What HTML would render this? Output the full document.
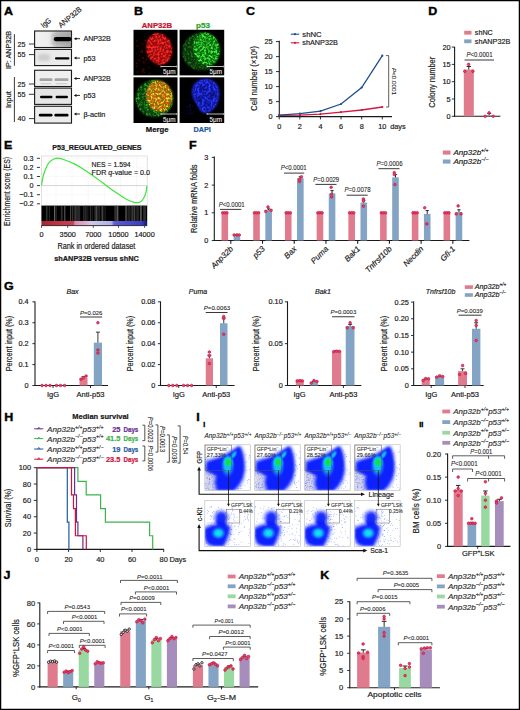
<!DOCTYPE html>
<html><head><meta charset="utf-8"><style>
html,body{margin:0;padding:0;background:#fff;}
svg{display:block;}
text{font-family:"Liberation Sans", sans-serif;}
</style></head><body>
<svg width="520" height="710" viewBox="0 0 520 710">
<rect x="0" y="0" width="520" height="710" fill="#fff"/>
<text x="3.90" y="15.00" font-size="10.4" text-anchor="start" fill="#000" font-weight="bold" textLength="9.01" lengthAdjust="spacingAndGlyphs" stroke="#000" stroke-width="0.35">A</text>
<text x="133.90" y="15.20" font-size="10.4" text-anchor="start" fill="#000" font-weight="bold" textLength="9.01" lengthAdjust="spacingAndGlyphs" stroke="#000" stroke-width="0.35">B</text>
<text x="246.10" y="15.40" font-size="10.4" text-anchor="start" fill="#000" font-weight="bold" textLength="9.01" lengthAdjust="spacingAndGlyphs" stroke="#000" stroke-width="0.35">C</text>
<text x="428.20" y="15.10" font-size="10.4" text-anchor="start" fill="#000" font-weight="bold" textLength="9.01" lengthAdjust="spacingAndGlyphs" stroke="#000" stroke-width="0.35">D</text>
<text x="4.10" y="148.60" font-size="10.4" text-anchor="start" fill="#000" font-weight="bold" textLength="8.32" lengthAdjust="spacingAndGlyphs" stroke="#000" stroke-width="0.35">E</text>
<text x="189.00" y="148.60" font-size="10.4" text-anchor="start" fill="#000" font-weight="bold" textLength="7.63" lengthAdjust="spacingAndGlyphs" stroke="#000" stroke-width="0.35">F</text>
<text x="4.00" y="289.50" font-size="10.4" text-anchor="start" fill="#000" font-weight="bold" textLength="9.71" lengthAdjust="spacingAndGlyphs" stroke="#000" stroke-width="0.35">G</text>
<text x="4.30" y="421.30" font-size="10.4" text-anchor="start" fill="#000" font-weight="bold" textLength="9.01" lengthAdjust="spacingAndGlyphs" stroke="#000" stroke-width="0.35">H</text>
<text x="196.30" y="421.30" font-size="10.4" text-anchor="start" fill="#000" font-weight="bold" textLength="3.47" lengthAdjust="spacingAndGlyphs" stroke="#000" stroke-width="0.35">I</text>
<text x="3.50" y="578.70" font-size="10.4" text-anchor="start" fill="#000" font-weight="bold" textLength="6.94" lengthAdjust="spacingAndGlyphs" stroke="#000" stroke-width="0.35">J</text>
<text x="320.30" y="578.80" font-size="10.4" text-anchor="start" fill="#000" font-weight="bold" textLength="9.01" lengthAdjust="spacingAndGlyphs" stroke="#000" stroke-width="0.35">K</text>
<defs><filter id="bl1" x="-20%" y="-50%" width="140%" height="200%"><feGaussianBlur stdDeviation="0.6"/></filter><filter id="bl2" x="-30%" y="-80%" width="160%" height="260%"><feGaussianBlur stdDeviation="1.6"/></filter><linearGradient id="gA1" x1="0" y1="0" x2="1" y2="0"><stop offset="0" stop-color="#f2f2f2"/><stop offset="0.45" stop-color="#ececec"/><stop offset="0.6" stop-color="#c8c8c8"/><stop offset="1" stop-color="#b0b0b0"/></linearGradient></defs>
<rect x="34.6" y="31.00" width="36.9" height="16.50" fill="url(#gA1)" stroke="#1a1a1a" stroke-width="1.1"/>
<rect x="34.6" y="49.40" width="36.9" height="16.20" fill="#eaeaea" stroke="#1a1a1a" stroke-width="1.1"/>
<rect x="34.6" y="70.25" width="36.9" height="16.25" fill="#efefef" stroke="#1a1a1a" stroke-width="1.1"/>
<rect x="34.6" y="88.10" width="36.9" height="16.30" fill="#e6e6e6" stroke="#1a1a1a" stroke-width="1.1"/>
<rect x="34.6" y="106.25" width="36.9" height="16.85" fill="#ececec" stroke="#1a1a1a" stroke-width="1.1"/>
<rect x="51" y="33" width="20" height="12" fill="#888" opacity="0.35" filter="url(#bl2)"/>
<rect x="53.8" y="37" width="17.6" height="4.3" rx="2" fill="#000" filter="url(#bl1)"/>
<rect x="38" y="54" width="12" height="7" rx="3" fill="#bbb" opacity="0.6" filter="url(#bl2)"/>
<rect x="55" y="57.2" width="14.4" height="2.3" rx="1.1" fill="#050505" filter="url(#bl1)"/>
<rect x="39.5" y="78.3" width="13.0" height="2.8" rx="1.2" fill="#a4a4a4" filter="url(#bl1)"/>
<rect x="40.5" y="83" width="11.0" height="1.3" rx="0.6" fill="#d0d0d0" filter="url(#bl1)"/>
<rect x="54.5" y="78.3" width="14.0" height="2.8" rx="1.2" fill="#a4a4a4" filter="url(#bl1)"/>
<rect x="55.5" y="83" width="12.0" height="1.3" rx="0.6" fill="#d0d0d0" filter="url(#bl1)"/>
<rect x="40" y="95.7" width="12.5" height="2.6" rx="1.2" fill="#050505" filter="url(#bl1)"/>
<rect x="55.6" y="95.7" width="12.399999999999999" height="2.6" rx="1.2" fill="#050505" filter="url(#bl1)"/>
<rect x="38.8" y="113.8" width="13.700000000000003" height="2.6" rx="1.2" fill="#050505" filter="url(#bl1)"/>
<rect x="54.4" y="113.8" width="14.100000000000001" height="2.6" rx="1.2" fill="#050505" filter="url(#bl1)"/>
<line x1="14.40" y1="34.20" x2="14.40" y2="65.70" stroke="#222" stroke-width="0.9"/>
<line x1="14.40" y1="77.00" x2="14.40" y2="122.00" stroke="#222" stroke-width="0.9"/>
<text x="10.80" y="50.00" font-size="7.2" text-anchor="middle" fill="#1a1a1a" stroke="#1a1a1a" stroke-width="0.18" textLength="38" lengthAdjust="spacingAndGlyphs" transform="rotate(-90 10.80 50.00)" >IP: ANP32B</text>
<text x="10.80" y="99.50" font-size="7.2" text-anchor="middle" fill="#1a1a1a" stroke="#1a1a1a" stroke-width="0.18" textLength="17" lengthAdjust="spacingAndGlyphs" transform="rotate(-90 10.80 99.50)" >Input</text>
<text x="25.50" y="46.60" font-size="7.2" text-anchor="end" fill="#1a1a1a" stroke="#1a1a1a" stroke-width="0.18" >25</text>
<line x1="28.90" y1="44.00" x2="34.00" y2="44.00" stroke="#222" stroke-width="0.9"/>
<text x="25.50" y="57.20" font-size="7.2" text-anchor="end" fill="#1a1a1a" stroke="#1a1a1a" stroke-width="0.18" >55</text>
<line x1="28.90" y1="54.60" x2="34.00" y2="54.60" stroke="#222" stroke-width="0.9"/>
<text x="25.50" y="86.60" font-size="7.2" text-anchor="end" fill="#1a1a1a" stroke="#1a1a1a" stroke-width="0.18" >25</text>
<line x1="28.90" y1="84.00" x2="34.00" y2="84.00" stroke="#222" stroke-width="0.9"/>
<text x="25.50" y="96.90" font-size="7.2" text-anchor="end" fill="#1a1a1a" stroke="#1a1a1a" stroke-width="0.18" >55</text>
<line x1="28.90" y1="94.30" x2="34.00" y2="94.30" stroke="#222" stroke-width="0.9"/>
<text x="25.50" y="121.20" font-size="7.2" text-anchor="end" fill="#1a1a1a" stroke="#1a1a1a" stroke-width="0.18" >40</text>
<line x1="28.90" y1="118.60" x2="34.00" y2="118.60" stroke="#222" stroke-width="0.9"/>
<text x="43.60" y="28.20" font-size="7.6" text-anchor="start" fill="#1a1a1a" stroke="#1a1a1a" stroke-width="0.18" textLength="10.7" lengthAdjust="spacingAndGlyphs" transform="rotate(-40 43.60 28.20)" >IgG</text>
<text x="60.90" y="28.20" font-size="7.6" text-anchor="start" fill="#1a1a1a" stroke="#1a1a1a" stroke-width="0.18" textLength="28" lengthAdjust="spacingAndGlyphs" transform="rotate(-40 60.90 28.20)" >ANP32B</text>
<line x1="75.50" y1="38.70" x2="80.00" y2="38.70" stroke="#111" stroke-width="0.9"/>
<path d="M73.8 38.70 L76.5 37.20 L76.5 40.20 Z" fill="#111"/>
<text x="83.40" y="41.30" font-size="7.3" text-anchor="start" fill="#1a1a1a" stroke="#1a1a1a" stroke-width="0.18" textLength="27.4" lengthAdjust="spacingAndGlyphs" >ANP32B</text>
<line x1="75.50" y1="58.10" x2="80.00" y2="58.10" stroke="#111" stroke-width="0.9"/>
<path d="M73.8 58.10 L76.5 56.60 L76.5 59.60 Z" fill="#111"/>
<text x="83.40" y="60.70" font-size="7.3" text-anchor="start" fill="#1a1a1a" stroke="#1a1a1a" stroke-width="0.18" >p53</text>
<line x1="75.50" y1="78.50" x2="80.00" y2="78.50" stroke="#111" stroke-width="0.9"/>
<path d="M73.8 78.50 L76.5 77.00 L76.5 80.00 Z" fill="#111"/>
<text x="83.40" y="81.10" font-size="7.3" text-anchor="start" fill="#1a1a1a" stroke="#1a1a1a" stroke-width="0.18" textLength="27.4" lengthAdjust="spacingAndGlyphs" >ANP32B</text>
<line x1="75.50" y1="95.40" x2="80.00" y2="95.40" stroke="#111" stroke-width="0.9"/>
<path d="M73.8 95.40 L76.5 93.90 L76.5 96.90 Z" fill="#111"/>
<text x="83.40" y="98.00" font-size="7.3" text-anchor="start" fill="#1a1a1a" stroke="#1a1a1a" stroke-width="0.18" >p53</text>
<line x1="75.50" y1="114.00" x2="80.00" y2="114.00" stroke="#111" stroke-width="0.9"/>
<path d="M73.8 114.00 L76.5 112.50 L76.5 115.50 Z" fill="#111"/>
<text x="83.40" y="116.60" font-size="7.3" text-anchor="start" fill="#1a1a1a" stroke="#1a1a1a" stroke-width="0.18" >β-actin</text>
<defs><filter id="spR" x="0" y="0" width="100%" height="100%" color-interpolation-filters="sRGB"><feTurbulence type="fractalNoise" baseFrequency="0.45" numOctaves="2" seed="5"/><feColorMatrix type="matrix" values="0 0 0 0 1.000  0 0 0 0 0.157  0 0 0 0 0.157  4.0 0 0 0 -1.7"/><feGaussianBlur stdDeviation="0.35"/></filter><filter id="spG" x="0" y="0" width="100%" height="100%" color-interpolation-filters="sRGB"><feTurbulence type="fractalNoise" baseFrequency="0.45" numOctaves="2" seed="17"/><feColorMatrix type="matrix" values="0 0 0 0 0.235  0 0 0 0 0.941  0 0 0 0 0.235  4.0 0 0 0 -1.7"/><feGaussianBlur stdDeviation="0.35"/></filter><filter id="spGd" x="0" y="0" width="100%" height="100%" color-interpolation-filters="sRGB"><feTurbulence type="fractalNoise" baseFrequency="0.45" numOctaves="2" seed="23"/><feColorMatrix type="matrix" values="0 0 0 0 0.157  0 0 0 0 0.667  0 0 0 0 0.157  3.5 0 0 0 -1.6"/><feGaussianBlur stdDeviation="0.35"/></filter><filter id="spGdd" x="0" y="0" width="100%" height="100%" color-interpolation-filters="sRGB"><feTurbulence type="fractalNoise" baseFrequency="0.45" numOctaves="2" seed="29"/><feColorMatrix type="matrix" values="0 0 0 0 0.118  0 0 0 0 0.490  0 0 0 0 0.118  3.5 0 0 0 -1.65"/><feGaussianBlur stdDeviation="0.35"/></filter><filter id="spY" x="0" y="0" width="100%" height="100%" color-interpolation-filters="sRGB"><feTurbulence type="fractalNoise" baseFrequency="0.45" numOctaves="2" seed="31"/><feColorMatrix type="matrix" values="0 0 0 0 0.961  0 0 0 0 0.902  0 0 0 0 0.157  4.0 0 0 0 -1.7"/><feGaussianBlur stdDeviation="0.35"/></filter><filter id="spO" x="0" y="0" width="100%" height="100%" color-interpolation-filters="sRGB"><feTurbulence type="fractalNoise" baseFrequency="0.45" numOctaves="2" seed="41"/><feColorMatrix type="matrix" values="0 0 0 0 0.902  0 0 0 0 0.275  0 0 0 0 0.078  3.5 0 0 0 -1.65"/><feGaussianBlur stdDeviation="0.35"/></filter><filter id="spB" x="0" y="0" width="100%" height="100%" color-interpolation-filters="sRGB"><feTurbulence type="fractalNoise" baseFrequency="0.45" numOctaves="2" seed="53"/><feColorMatrix type="matrix" values="0 0 0 0 0.176  0 0 0 0 0.235  0 0 0 0 1.000  4.0 0 0 0 -1.7"/><feGaussianBlur stdDeviation="0.35"/></filter><filter id="spK" x="0" y="0" width="100%" height="100%" color-interpolation-filters="sRGB"><feTurbulence type="fractalNoise" baseFrequency="0.45" numOctaves="2" seed="61"/><feColorMatrix type="matrix" values="0 0 0 0 0.000  0 0 0 0 0.000  0 0 0 0 0.000  -3.2 0 0 0 1.35"/><feGaussianBlur stdDeviation="0.35"/></filter><filter id="bb1" x="-30%" y="-30%" width="160%" height="160%"><feGaussianBlur stdDeviation="0.8"/></filter><filter id="bb3" x="-80%" y="-80%" width="260%" height="260%"><feGaussianBlur stdDeviation="2.5"/></filter><clipPath id="cb1"><rect x="133.5" y="29.8" width="44" height="45.6"/></clipPath><clipPath id="cb2"><rect x="179.6" y="29.8" width="44.6" height="45.6"/></clipPath><clipPath id="cb3"><rect x="133.5" y="77.3" width="44" height="45.7"/></clipPath><clipPath id="cb4"><rect x="179.6" y="77.3" width="44.6" height="45.7"/></clipPath><clipPath id="cred"><ellipse cx="159.2" cy="48.9" rx="12.8" ry="16" transform="rotate(-12 159.2 48.9)"/></clipPath><clipPath id="cgrn"><ellipse cx="200.9" cy="51.6" rx="18.8" ry="19"/></clipPath><clipPath id="cgrn2"><ellipse cx="206.5" cy="49" rx="13" ry="16.5" transform="rotate(-12 206.5 49)"/></clipPath><clipPath id="cmg"><ellipse cx="154.5" cy="98.5" rx="19" ry="18.8"/></clipPath><clipPath id="cyel"><ellipse cx="159.2" cy="96.2" rx="12.8" ry="15.8" transform="rotate(-12 159.2 96.2)"/></clipPath><clipPath id="cdapi"><path d="M192.8 92 C192.8 84 199 79.6 206 79.6 C213 79.6 218.5 85 218.5 93 C218.5 102 215 108 210 111 C206 113.7 201 112.2 198.5 106 C196 101 192.8 98 192.8 92 Z"/></clipPath></defs>
<rect x="133.50" y="29.80" width="44.00" height="45.60" fill="#000" />
<rect x="179.60" y="29.80" width="44.60" height="45.60" fill="#000" />
<rect x="133.50" y="77.30" width="44.00" height="45.70" fill="#000" />
<rect x="179.60" y="77.30" width="44.60" height="45.70" fill="#000" />
<g clip-path="url(#cb1)">
<circle cx="141.18" cy="43.43" r="0.7603737892159415" fill="#4a0000" stroke="none" stroke-width="0"/>
<circle cx="149.14" cy="41.39" r="0.7331152023613421" fill="#5a0202" stroke="none" stroke-width="0"/>
<circle cx="136.60" cy="53.61" r="0.5279421694298476" fill="#4a0000" stroke="none" stroke-width="0"/>
<circle cx="144.82" cy="40.13" r="0.7261814776772318" fill="#5a0202" stroke="none" stroke-width="0"/>
<circle cx="146.09" cy="58.99" r="0.5247448193344562" fill="#6a0505" stroke="none" stroke-width="0"/>
<circle cx="136.79" cy="45.96" r="0.722665959174837" fill="#5a0202" stroke="none" stroke-width="0"/>
<circle cx="140.63" cy="43.19" r="0.5471168952313473" fill="#380000" stroke="none" stroke-width="0"/>
<circle cx="144.96" cy="62.55" r="0.5412222849774365" fill="#5a0202" stroke="none" stroke-width="0"/>
<circle cx="141.96" cy="57.72" r="0.5251155899893293" fill="#4a0000" stroke="none" stroke-width="0"/>
<circle cx="145.90" cy="55.87" r="0.7126880986320743" fill="#380000" stroke="none" stroke-width="0"/>
<circle cx="143.45" cy="71.24" r="0.6446329423778265" fill="#5a0202" stroke="none" stroke-width="0"/>
<circle cx="148.71" cy="63.16" r="0.5976386042888612" fill="#380000" stroke="none" stroke-width="0"/>
<circle cx="144.40" cy="69.50" r="0.7917781157756871" fill="#380000" stroke="none" stroke-width="0"/>
<circle cx="145.74" cy="40.64" r="0.7047731322590196" fill="#5a0202" stroke="none" stroke-width="0"/>
<circle cx="148.11" cy="43.47" r="0.6955852401903222" fill="#4a0000" stroke="none" stroke-width="0"/>
<circle cx="151.39" cy="40.79" r="0.7232303010613499" fill="#380000" stroke="none" stroke-width="0"/>
<circle cx="141.44" cy="50.61" r="0.698669918119595" fill="#6a0505" stroke="none" stroke-width="0"/>
<circle cx="137.10" cy="41.37" r="0.6079757108512471" fill="#4a0000" stroke="none" stroke-width="0"/>
<circle cx="136.97" cy="63.25" r="0.7588515418110675" fill="#6a0505" stroke="none" stroke-width="0"/>
<circle cx="140.55" cy="51.89" r="0.7674610863536753" fill="#4a0000" stroke="none" stroke-width="0"/>
<circle cx="151.05" cy="50.80" r="0.7443678173932308" fill="#6a0505" stroke="none" stroke-width="0"/>
<circle cx="136.94" cy="65.66" r="0.5517360888074737" fill="#5a0202" stroke="none" stroke-width="0"/>
<circle cx="142.37" cy="71.01" r="0.6986026796119847" fill="#5a0202" stroke="none" stroke-width="0"/>
<circle cx="143.19" cy="57.78" r="0.853353530576605" fill="#6a0505" stroke="none" stroke-width="0"/>
<circle cx="149.82" cy="48.02" r="0.6661186068846794" fill="#380000" stroke="none" stroke-width="0"/>
<circle cx="146.92" cy="51.70" r="0.5923006032434729" fill="#4a0000" stroke="none" stroke-width="0"/>
<circle cx="138.82" cy="46.35" r="0.5933344334723445" fill="#6a0505" stroke="none" stroke-width="0"/>
<circle cx="149.30" cy="44.56" r="0.612772288930695" fill="#5a0202" stroke="none" stroke-width="0"/>
<circle cx="142.70" cy="51.29" r="0.7265364894825568" fill="#5a0202" stroke="none" stroke-width="0"/>
<circle cx="147.05" cy="56.56" r="0.7470370997636511" fill="#4a0000" stroke="none" stroke-width="0"/>
<circle cx="143.31" cy="69.36" r="0.8807544883326088" fill="#6a0505" stroke="none" stroke-width="0"/>
<circle cx="142.37" cy="52.19" r="0.6926091272660779" fill="#6a0505" stroke="none" stroke-width="0"/>
<circle cx="137.00" cy="40.42" r="0.5835052741784658" fill="#5a0202" stroke="none" stroke-width="0"/>
<circle cx="137.76" cy="59.63" r="0.5409518390900888" fill="#5a0202" stroke="none" stroke-width="0"/>
<circle cx="144.59" cy="72.16" r="0.7454949051901725" fill="#4a0000" stroke="none" stroke-width="0"/>
<circle cx="149.99" cy="60.11" r="0.5594201941323566" fill="#380000" stroke="none" stroke-width="0"/>
<circle cx="151.29" cy="59.68" r="0.6896605852927036" fill="#4a0000" stroke="none" stroke-width="0"/>
<circle cx="149.58" cy="73.75" r="0.6863957836639735" fill="#6a0505" stroke="none" stroke-width="0"/>
<circle cx="140.99" cy="43.19" r="0.7998695681769723" fill="#380000" stroke="none" stroke-width="0"/>
<circle cx="143.66" cy="62.91" r="0.7065338075849286" fill="#5a0202" stroke="none" stroke-width="0"/>
<circle cx="151.22" cy="57.02" r="0.5586410155596363" fill="#4a0000" stroke="none" stroke-width="0"/>
<circle cx="148.13" cy="48.73" r="0.7571668322781475" fill="#4a0000" stroke="none" stroke-width="0"/>
<circle cx="147.14" cy="47.40" r="0.6466799167044716" fill="#5a0202" stroke="none" stroke-width="0"/>
<circle cx="141.69" cy="46.02" r="0.7166268491120782" fill="#380000" stroke="none" stroke-width="0"/>
<circle cx="146.18" cy="60.08" r="0.8153597056416453" fill="#5a0202" stroke="none" stroke-width="0"/>
<circle cx="148.90" cy="67.46" r="0.7959492081502857" fill="#5a0202" stroke="none" stroke-width="0"/>
<circle cx="139.20" cy="55.74" r="0.7924015969901685" fill="#4a0000" stroke="none" stroke-width="0"/>
<circle cx="148.64" cy="55.00" r="0.5774579784051237" fill="#380000" stroke="none" stroke-width="0"/>
<circle cx="143.16" cy="71.73" r="0.8952152232811441" fill="#380000" stroke="none" stroke-width="0"/>
<circle cx="137.29" cy="41.68" r="0.6880319929024761" fill="#380000" stroke="none" stroke-width="0"/>
<circle cx="139.27" cy="60.47" r="0.8601233351536457" fill="#4a0000" stroke="none" stroke-width="0"/>
<circle cx="143.67" cy="61.51" r="0.8198574979398641" fill="#4a0000" stroke="none" stroke-width="0"/>
<circle cx="149.35" cy="42.32" r="0.6554142975279774" fill="#5a0202" stroke="none" stroke-width="0"/>
<circle cx="143.65" cy="44.43" r="0.8156541724081106" fill="#380000" stroke="none" stroke-width="0"/>
<circle cx="137.39" cy="72.06" r="0.7887298923606827" fill="#6a0505" stroke="none" stroke-width="0"/>
<circle cx="142.42" cy="72.08" r="0.7899194662536861" fill="#5a0202" stroke="none" stroke-width="0"/>
<circle cx="151.89" cy="38.99" r="0.7363249209667805" fill="#6a0505" stroke="none" stroke-width="0"/>
<circle cx="148.90" cy="43.26" r="0.8306041914101548" fill="#6a0505" stroke="none" stroke-width="0"/>
<circle cx="146.52" cy="50.61" r="0.7194640175947117" fill="#5a0202" stroke="none" stroke-width="0"/>
<circle cx="136.34" cy="66.78" r="0.7905480225374539" fill="#4a0000" stroke="none" stroke-width="0"/>
<ellipse cx="159.2" cy="48.9" rx="12.8" ry="16" transform="rotate(-12 159.2 48.9)" fill="#9a0c0c" filter="url(#bb1)"/>
<g clip-path="url(#cred)"><rect x="145" y="31" width="29" height="36" filter="url(#spR)"/></g>
</g>
<g clip-path="url(#cb2)">
<ellipse cx="200.9" cy="51.6" rx="18.8" ry="19" fill="#08340a" filter="url(#bb1)"/>
<g clip-path="url(#cgrn)"><rect x="181" y="32" width="40" height="40" filter="url(#spGdd)"/></g>
<ellipse cx="206.5" cy="49" rx="13" ry="16.5" transform="rotate(-12 206.5 49)" fill="#0e6a0e" filter="url(#bb1)"/>
<g clip-path="url(#cgrn2)"><rect x="192" y="31" width="30" height="36" filter="url(#spG)"/></g>
</g>
<g clip-path="url(#cb3)">
<ellipse cx="154.5" cy="98.5" rx="19" ry="18.8" fill="#0c400a" filter="url(#bb1)"/>
<g clip-path="url(#cmg)"><rect x="135" y="79" width="39" height="39" filter="url(#spGd)"/></g>
<ellipse cx="159.2" cy="96.2" rx="12.8" ry="15.8" transform="rotate(-12 159.2 96.2)" fill="#8a6a08" filter="url(#bb1)"/>
<g clip-path="url(#cyel)"><rect x="145" y="79" width="29" height="34" filter="url(#spY)"/><rect x="145" y="79" width="29" height="34" filter="url(#spO)"/></g>
</g>
<g clip-path="url(#cb4)">
<path d="M192.8 92 C192.8 84 199 79.6 206 79.6 C213 79.6 218.5 85 218.5 93 C218.5 102 215 108 210 111 C206 113.7 201 112.2 198.5 106 C196 101 192.8 98 192.8 92 Z" fill="#10169a" filter="url(#bb1)"/>
<g clip-path="url(#cdapi)"><rect x="191" y="79" width="29" height="35" filter="url(#spB)"/></g>
<circle cx="212" cy="95" r="3" fill="#08106a" opacity="0.75" filter="url(#bb1)"/>
<circle cx="203" cy="88" r="2.2" fill="#08106a" opacity="0.75" filter="url(#bb1)"/>
<circle cx="200" cy="99" r="2.5" fill="#08106a" opacity="0.75" filter="url(#bb1)"/>
<circle cx="208" cy="104" r="2.2" fill="#08106a" opacity="0.75" filter="url(#bb1)"/>
<circle cx="205" cy="93" r="1.8" fill="#08106a" opacity="0.75" filter="url(#bb1)"/>
<path d="M192.8 92 C192.8 84 199 79.6 206 79.6 C213 79.6 218.5 85 218.5 93 C218.5 102 215 108 210 111 C206 113.7 201 112.2 198.5 106 C196 101 192.8 98 192.8 92 Z" fill="none" stroke="#2a34ff" stroke-width="1.3" filter="url(#bb1)"/>
<circle cx="190.27" cy="113.67" r="0.5735237747029943" fill="#0a0a60" stroke="none" stroke-width="0"/>
<circle cx="193.72" cy="111.52" r="0.48441693493125954" fill="#0a0a60" stroke="none" stroke-width="0"/>
<circle cx="187.52" cy="100.86" r="0.49621575702333387" fill="#0a0a60" stroke="none" stroke-width="0"/>
<circle cx="190.86" cy="100.19" r="0.5676050211018175" fill="#0a0a60" stroke="none" stroke-width="0"/>
<circle cx="186.31" cy="113.20" r="0.5415136095813036" fill="#0a0a60" stroke="none" stroke-width="0"/>
<circle cx="189.58" cy="106.67" r="0.761718709816816" fill="#0a0a60" stroke="none" stroke-width="0"/>
<circle cx="189.21" cy="113.35" r="0.6006595764480926" fill="#0a0a60" stroke="none" stroke-width="0"/>
<circle cx="190.32" cy="105.47" r="0.407481947162168" fill="#0a0a60" stroke="none" stroke-width="0"/>
<circle cx="189.40" cy="98.66" r="0.4015729927302568" fill="#0a0a60" stroke="none" stroke-width="0"/>
<circle cx="192.99" cy="98.45" r="0.5893971729847826" fill="#0a0a60" stroke="none" stroke-width="0"/>
<circle cx="192.25" cy="106.13" r="0.5303928604195457" fill="#0a0a60" stroke="none" stroke-width="0"/>
<circle cx="190.18" cy="106.11" r="0.7137089901461903" fill="#0a0a60" stroke="none" stroke-width="0"/>
<circle cx="186.06" cy="106.21" r="0.499397728417236" fill="#0a0a60" stroke="none" stroke-width="0"/>
<circle cx="187.77" cy="110.45" r="0.6030855967169283" fill="#0a0a60" stroke="none" stroke-width="0"/>
<circle cx="190.62" cy="110.20" r="0.7649952145319249" fill="#0a0a60" stroke="none" stroke-width="0"/>
<circle cx="189.43" cy="107.25" r="0.6022212523404887" fill="#0a0a60" stroke="none" stroke-width="0"/>
<circle cx="190.12" cy="108.85" r="0.5809383169059639" fill="#0a0a60" stroke="none" stroke-width="0"/>
<circle cx="190.33" cy="104.56" r="0.7766004510154003" fill="#0a0a60" stroke="none" stroke-width="0"/>
<circle cx="191.99" cy="112.53" r="0.7768722353214303" fill="#0a0a60" stroke="none" stroke-width="0"/>
<circle cx="187.60" cy="106.19" r="0.7773068136053936" fill="#0a0a60" stroke="none" stroke-width="0"/>
</g>
<line x1="160.90" y1="66.50" x2="176.70" y2="66.50" stroke="#e8e8e8" stroke-width="0.8"/>
<line x1="160.90" y1="65.50" x2="160.90" y2="67.50" stroke="#e8e8e8" stroke-width="0.6"/>
<line x1="176.70" y1="65.50" x2="176.70" y2="67.50" stroke="#e8e8e8" stroke-width="0.6"/>
<text x="169.30" y="74.10" font-size="6.4" text-anchor="middle" fill="#f0f0f0" stroke="#f0f0f0" stroke-width="0.08" textLength="12.5" lengthAdjust="spacingAndGlyphs" >5μm</text>
<line x1="207.00" y1="66.50" x2="223.40" y2="66.50" stroke="#e8e8e8" stroke-width="0.8"/>
<line x1="207.00" y1="65.50" x2="207.00" y2="67.50" stroke="#e8e8e8" stroke-width="0.6"/>
<line x1="223.40" y1="65.50" x2="223.40" y2="67.50" stroke="#e8e8e8" stroke-width="0.6"/>
<text x="215.70" y="74.10" font-size="6.4" text-anchor="middle" fill="#f0f0f0" stroke="#f0f0f0" stroke-width="0.08" textLength="12.5" lengthAdjust="spacingAndGlyphs" >5μm</text>
<line x1="160.90" y1="114.00" x2="176.70" y2="114.00" stroke="#e8e8e8" stroke-width="0.8"/>
<line x1="160.90" y1="113.00" x2="160.90" y2="115.00" stroke="#e8e8e8" stroke-width="0.6"/>
<line x1="176.70" y1="113.00" x2="176.70" y2="115.00" stroke="#e8e8e8" stroke-width="0.6"/>
<text x="169.30" y="121.60" font-size="6.4" text-anchor="middle" fill="#f0f0f0" stroke="#f0f0f0" stroke-width="0.08" textLength="12.5" lengthAdjust="spacingAndGlyphs" >5μm</text>
<line x1="207.00" y1="114.00" x2="223.40" y2="114.00" stroke="#e8e8e8" stroke-width="0.8"/>
<line x1="207.00" y1="113.00" x2="207.00" y2="115.00" stroke="#e8e8e8" stroke-width="0.6"/>
<line x1="223.40" y1="113.00" x2="223.40" y2="115.00" stroke="#e8e8e8" stroke-width="0.6"/>
<text x="215.70" y="121.60" font-size="6.4" text-anchor="middle" fill="#f0f0f0" stroke="#f0f0f0" stroke-width="0.08" textLength="12.5" lengthAdjust="spacingAndGlyphs" >5μm</text>
<text x="141.80" y="27.80" font-size="7.2" text-anchor="start" fill="#c8102e" stroke="#c8102e" stroke-width="0.22" font-weight="bold" textLength="30.4" lengthAdjust="spacingAndGlyphs" >ANP32B</text>
<text x="196.00" y="27.80" font-size="7.2" text-anchor="start" fill="#2aa52a" stroke="#2aa52a" stroke-width="0.22" font-weight="bold" textLength="14" lengthAdjust="spacingAndGlyphs" >p53</text>
<text x="145.80" y="131.80" font-size="7.4" text-anchor="start" fill="#111" stroke="#111" stroke-width="0.22" font-weight="bold" textLength="22.7" lengthAdjust="spacingAndGlyphs" >Merge</text>
<text x="193.50" y="131.80" font-size="7.4" text-anchor="start" fill="#1d5aa0" stroke="#1d5aa0" stroke-width="0.22" font-weight="bold" textLength="17.3" lengthAdjust="spacingAndGlyphs" >DAPI</text>
<line x1="279.30" y1="40.80" x2="279.30" y2="117.10" stroke="#1a1a1a" stroke-width="1.1"/>
<line x1="278.80" y1="116.60" x2="392.00" y2="116.60" stroke="#1a1a1a" stroke-width="1.1"/>
<line x1="276.00" y1="116.60" x2="279.30" y2="116.60" stroke="#1a1a1a" stroke-width="0.9"/>
<text x="272.60" y="119.20" font-size="7.3" text-anchor="end" fill="#1a1a1a" stroke="#1a1a1a" stroke-width="0.18" >0</text>
<line x1="276.00" y1="101.60" x2="279.30" y2="101.60" stroke="#1a1a1a" stroke-width="0.9"/>
<text x="272.60" y="104.20" font-size="7.3" text-anchor="end" fill="#1a1a1a" stroke="#1a1a1a" stroke-width="0.18" >5</text>
<line x1="276.00" y1="86.60" x2="279.30" y2="86.60" stroke="#1a1a1a" stroke-width="0.9"/>
<text x="272.60" y="89.20" font-size="7.3" text-anchor="end" fill="#1a1a1a" stroke="#1a1a1a" stroke-width="0.18" >10</text>
<line x1="276.00" y1="71.60" x2="279.30" y2="71.60" stroke="#1a1a1a" stroke-width="0.9"/>
<text x="272.60" y="74.20" font-size="7.3" text-anchor="end" fill="#1a1a1a" stroke="#1a1a1a" stroke-width="0.18" >15</text>
<line x1="276.00" y1="56.60" x2="279.30" y2="56.60" stroke="#1a1a1a" stroke-width="0.9"/>
<text x="272.60" y="59.20" font-size="7.3" text-anchor="end" fill="#1a1a1a" stroke="#1a1a1a" stroke-width="0.18" >20</text>
<line x1="276.00" y1="41.60" x2="279.30" y2="41.60" stroke="#1a1a1a" stroke-width="0.9"/>
<text x="272.60" y="44.20" font-size="7.3" text-anchor="end" fill="#1a1a1a" stroke="#1a1a1a" stroke-width="0.18" >25</text>
<line x1="279.20" y1="116.60" x2="279.20" y2="119.40" stroke="#1a1a1a" stroke-width="0.9"/>
<text x="279.20" y="129.20" font-size="7.3" text-anchor="middle" fill="#1a1a1a" stroke="#1a1a1a" stroke-width="0.18" >0</text>
<line x1="299.82" y1="116.60" x2="299.82" y2="119.40" stroke="#1a1a1a" stroke-width="0.9"/>
<text x="299.82" y="129.20" font-size="7.3" text-anchor="middle" fill="#1a1a1a" stroke="#1a1a1a" stroke-width="0.18" >2</text>
<line x1="320.44" y1="116.60" x2="320.44" y2="119.40" stroke="#1a1a1a" stroke-width="0.9"/>
<text x="320.44" y="129.20" font-size="7.3" text-anchor="middle" fill="#1a1a1a" stroke="#1a1a1a" stroke-width="0.18" >4</text>
<line x1="341.06" y1="116.60" x2="341.06" y2="119.40" stroke="#1a1a1a" stroke-width="0.9"/>
<text x="341.06" y="129.20" font-size="7.3" text-anchor="middle" fill="#1a1a1a" stroke="#1a1a1a" stroke-width="0.18" >6</text>
<line x1="361.68" y1="116.60" x2="361.68" y2="119.40" stroke="#1a1a1a" stroke-width="0.9"/>
<text x="361.68" y="129.20" font-size="7.3" text-anchor="middle" fill="#1a1a1a" stroke="#1a1a1a" stroke-width="0.18" >8</text>
<line x1="382.30" y1="116.60" x2="382.30" y2="119.40" stroke="#1a1a1a" stroke-width="0.9"/>
<text x="382.30" y="129.20" font-size="7.3" text-anchor="middle" fill="#1a1a1a" stroke="#1a1a1a" stroke-width="0.18" >10</text>
<text x="390.20" y="129.20" font-size="7.3" text-anchor="start" fill="#1a1a1a" stroke="#1a1a1a" stroke-width="0.18" >days</text>
<text x="257.20" y="78.50" font-size="8.6" text-anchor="middle" fill="#1a1a1a" stroke="#1a1a1a" stroke-width="0.18" textLength="65" lengthAdjust="spacingAndGlyphs" transform="rotate(-90 257.20 78.50)" >Cell number (×10<tspan font-size="4.5" dy="-2.5">6</tspan><tspan dy="2.5">)</tspan></text>
<polyline points="279.20,115.40 299.82,115.10 320.44,114.20 341.06,112.10 361.68,110.00 382.30,107.00" stroke="#d3173f" stroke-width="1.3" fill="none" />
<polyline points="279.20,115.10 299.82,113.60 320.44,111.20 341.06,104.00 361.68,87.50 382.30,55.70" stroke="#1c4f8c" stroke-width="1.3" fill="none" />
<circle cx="279.20" cy="115.40" r="1.1" fill="#d3173f" stroke="none" stroke-width="0"/>
<circle cx="299.82" cy="115.10" r="1.1" fill="#d3173f" stroke="none" stroke-width="0"/>
<circle cx="320.44" cy="114.20" r="1.1" fill="#d3173f" stroke="none" stroke-width="0"/>
<circle cx="341.06" cy="112.10" r="1.1" fill="#d3173f" stroke="none" stroke-width="0"/>
<circle cx="361.68" cy="110.00" r="1.1" fill="#d3173f" stroke="none" stroke-width="0"/>
<circle cx="382.30" cy="107.00" r="1.1" fill="#d3173f" stroke="none" stroke-width="0"/>
<circle cx="279.20" cy="115.10" r="1.1" fill="#1c4f8c" stroke="none" stroke-width="0"/>
<circle cx="299.82" cy="113.60" r="1.1" fill="#1c4f8c" stroke="none" stroke-width="0"/>
<circle cx="320.44" cy="111.20" r="1.1" fill="#1c4f8c" stroke="none" stroke-width="0"/>
<circle cx="341.06" cy="104.00" r="1.1" fill="#1c4f8c" stroke="none" stroke-width="0"/>
<circle cx="361.68" cy="87.50" r="1.1" fill="#1c4f8c" stroke="none" stroke-width="0"/>
<circle cx="382.30" cy="55.70" r="1.1" fill="#1c4f8c" stroke="none" stroke-width="0"/>
<line x1="290.80" y1="34.20" x2="299.20" y2="34.20" stroke="#1c4f8c" stroke-width="1.1"/>
<circle cx="295.00" cy="34.20" r="1.1" fill="#1c4f8c" stroke="none" stroke-width="0"/>
<line x1="290.80" y1="42.80" x2="299.20" y2="42.80" stroke="#d3173f" stroke-width="1.1"/>
<circle cx="295.00" cy="42.80" r="1.1" fill="#d3173f" stroke="none" stroke-width="0"/>
<text x="302.30" y="36.80" font-size="7.4" text-anchor="start" fill="#1a1a1a" stroke="#1a1a1a" stroke-width="0.18" textLength="19.3" lengthAdjust="spacingAndGlyphs" >shNC</text>
<text x="302.30" y="45.40" font-size="7.4" text-anchor="start" fill="#1a1a1a" stroke="#1a1a1a" stroke-width="0.18" textLength="35.5" lengthAdjust="spacingAndGlyphs" >shANP32B</text>
<polyline points="386.00,55.60 388.70,55.60 388.70,107.00 386.00,107.00" stroke="#333" stroke-width="0.8" fill="none" />
<text x="392.20" y="81.40" font-size="6" text-anchor="middle" fill="#1a1a1a" stroke="#1a1a1a" stroke-width="0.08" textLength="27" lengthAdjust="spacingAndGlyphs" transform="rotate(90 392.20 81.40)" ><tspan font-style="italic">P</tspan>&lt;0.0001</text>
<line x1="454.60" y1="46.70" x2="454.60" y2="116.80" stroke="#1a1a1a" stroke-width="1.1"/>
<line x1="454.10" y1="116.30" x2="500.40" y2="116.30" stroke="#1a1a1a" stroke-width="1.1"/>
<line x1="451.80" y1="116.30" x2="454.60" y2="116.30" stroke="#1a1a1a" stroke-width="0.9"/>
<text x="450.60" y="118.90" font-size="7.3" text-anchor="end" fill="#1a1a1a" stroke="#1a1a1a" stroke-width="0.18" >0</text>
<line x1="451.80" y1="99.00" x2="454.60" y2="99.00" stroke="#1a1a1a" stroke-width="0.9"/>
<text x="450.60" y="101.60" font-size="7.3" text-anchor="end" fill="#1a1a1a" stroke="#1a1a1a" stroke-width="0.18" >5</text>
<line x1="451.80" y1="81.70" x2="454.60" y2="81.70" stroke="#1a1a1a" stroke-width="0.9"/>
<text x="450.60" y="84.30" font-size="7.3" text-anchor="end" fill="#1a1a1a" stroke="#1a1a1a" stroke-width="0.18" >10</text>
<line x1="451.80" y1="64.40" x2="454.60" y2="64.40" stroke="#1a1a1a" stroke-width="0.9"/>
<text x="450.60" y="67.00" font-size="7.3" text-anchor="end" fill="#1a1a1a" stroke="#1a1a1a" stroke-width="0.18" >15</text>
<line x1="451.80" y1="47.10" x2="454.60" y2="47.10" stroke="#1a1a1a" stroke-width="0.9"/>
<text x="450.60" y="49.70" font-size="7.3" text-anchor="end" fill="#1a1a1a" stroke="#1a1a1a" stroke-width="0.18" >20</text>
<rect x="463.80" y="69.59" width="10.00" height="46.71" fill="#e07b8e" />
<rect x="484.40" y="115.09" width="9.60" height="1.21" fill="#83a4c4" />
<line x1="468.80" y1="69.59" x2="468.80" y2="66.48" stroke="#111" stroke-width="0.9"/>
<line x1="466.60" y1="66.48" x2="471.00" y2="66.48" stroke="#111" stroke-width="0.9"/>
<line x1="489.20" y1="115.09" x2="489.20" y2="113.53" stroke="#111" stroke-width="0.9"/>
<line x1="487.20" y1="113.53" x2="491.20" y2="113.53" stroke="#111" stroke-width="0.9"/>
<circle cx="464.80" cy="71.32" r="1.3" fill="#e04468" stroke="#cf1440" stroke-width="0.7"/>
<circle cx="472.90" cy="71.32" r="1.3" fill="#e04468" stroke="#cf1440" stroke-width="0.7"/>
<circle cx="468.60" cy="64.40" r="1.3" fill="#e04468" stroke="#cf1440" stroke-width="0.7"/>
<circle cx="485.20" cy="116.30" r="1.3" fill="#e04468" stroke="#cf1440" stroke-width="0.7"/>
<circle cx="493.20" cy="116.30" r="1.3" fill="#e04468" stroke="#cf1440" stroke-width="0.7"/>
<circle cx="489.10" cy="112.84" r="1.3" fill="#e04468" stroke="#cf1440" stroke-width="0.7"/>
<line x1="464.60" y1="60.00" x2="494.00" y2="60.00" stroke="#222" stroke-width="0.9"/>
<text x="479.50" y="56.60" font-size="6.3" text-anchor="middle" fill="#1a1a1a" stroke="#1a1a1a" stroke-width="0.08" textLength="26" lengthAdjust="spacingAndGlyphs" ><tspan font-style="italic">P</tspan>&lt;0.0001</text>
<rect x="464.20" y="30.80" width="7.30" height="3.80" fill="#e07b8e" />
<text x="474.80" y="35.00" font-size="7.4" text-anchor="start" fill="#1a1a1a" stroke="#1a1a1a" stroke-width="0.18" textLength="18" lengthAdjust="spacingAndGlyphs" >shNC</text>
<rect x="464.20" y="39.40" width="7.30" height="3.80" fill="#83a4c4" />
<text x="474.80" y="43.60" font-size="7.4" text-anchor="start" fill="#1a1a1a" stroke="#1a1a1a" stroke-width="0.18" textLength="35.5" lengthAdjust="spacingAndGlyphs" >shANP32B</text>
<text x="435.00" y="82.20" font-size="8.4" text-anchor="middle" fill="#1a1a1a" stroke="#1a1a1a" stroke-width="0.18" textLength="51" lengthAdjust="spacingAndGlyphs" transform="rotate(-90 435.00 82.20)" >Colony number</text>
<defs><linearGradient id="gE" x1="0" y1="0" x2="1" y2="0"><stop offset="0" stop-color="#a82030"/><stop offset="0.12" stop-color="#c02e40"/><stop offset="0.3" stop-color="#c84054"/><stop offset="0.32" stop-color="#d890b0"/><stop offset="0.44" stop-color="#dcb4d4"/><stop offset="0.47" stop-color="#cacaee"/><stop offset="0.66" stop-color="#aeb0e8"/><stop offset="0.69" stop-color="#5c5cd6"/><stop offset="0.95" stop-color="#3c3cc4"/><stop offset="1" stop-color="#121270"/></linearGradient></defs>
<rect x="41.40" y="156.00" width="105.80" height="50.00" fill="#fff" stroke="#d4d4d4" stroke-width="0.7"/>
<line x1="55.90" y1="156.00" x2="55.90" y2="206.00" stroke="#f0f0f0" stroke-width="0.5"/>
<line x1="72.00" y1="156.00" x2="72.00" y2="206.00" stroke="#f0f0f0" stroke-width="0.5"/>
<line x1="88.20" y1="156.00" x2="88.20" y2="206.00" stroke="#f0f0f0" stroke-width="0.5"/>
<line x1="104.30" y1="156.00" x2="104.30" y2="206.00" stroke="#f0f0f0" stroke-width="0.5"/>
<line x1="120.50" y1="156.00" x2="120.50" y2="206.00" stroke="#f0f0f0" stroke-width="0.5"/>
<line x1="136.60" y1="156.00" x2="136.60" y2="206.00" stroke="#f0f0f0" stroke-width="0.5"/>
<line x1="41.40" y1="158.30" x2="147.20" y2="158.30" stroke="#f2f2f2" stroke-width="0.5"/>
<line x1="41.40" y1="167.40" x2="147.20" y2="167.40" stroke="#f2f2f2" stroke-width="0.5"/>
<line x1="41.40" y1="176.50" x2="147.20" y2="176.50" stroke="#f2f2f2" stroke-width="0.5"/>
<line x1="41.40" y1="194.70" x2="147.20" y2="194.70" stroke="#f2f2f2" stroke-width="0.5"/>
<line x1="41.40" y1="203.80" x2="147.20" y2="203.80" stroke="#f2f2f2" stroke-width="0.5"/>
<line x1="41.40" y1="185.60" x2="147.20" y2="185.60" stroke="#c8c8c8" stroke-width="0.8"/>
<rect x="41.40" y="205.60" width="105.80" height="15.40" fill="#000" />
<line x1="133.06" y1="205.60" x2="133.06" y2="221.00" stroke="#666" stroke-width="0.4"/>
<line x1="61.33" y1="205.60" x2="61.33" y2="221.00" stroke="#888" stroke-width="0.4"/>
<line x1="54.75" y1="205.60" x2="54.75" y2="221.00" stroke="#666" stroke-width="0.4"/>
<line x1="54.83" y1="205.60" x2="54.83" y2="221.00" stroke="#999" stroke-width="0.4"/>
<line x1="128.16" y1="205.60" x2="128.16" y2="221.00" stroke="#666" stroke-width="0.5"/>
<line x1="115.55" y1="205.60" x2="115.55" y2="221.00" stroke="#777" stroke-width="0.3"/>
<line x1="76.81" y1="205.60" x2="76.81" y2="221.00" stroke="#666" stroke-width="0.4"/>
<line x1="73.06" y1="205.60" x2="73.06" y2="221.00" stroke="#555" stroke-width="0.4"/>
<line x1="136.94" y1="205.60" x2="136.94" y2="221.00" stroke="#666" stroke-width="0.5"/>
<line x1="132.40" y1="205.60" x2="132.40" y2="221.00" stroke="#666" stroke-width="0.5"/>
<line x1="95.40" y1="205.60" x2="95.40" y2="221.00" stroke="#444" stroke-width="0.4"/>
<line x1="86.02" y1="205.60" x2="86.02" y2="221.00" stroke="#666" stroke-width="0.4"/>
<line x1="83.86" y1="205.60" x2="83.86" y2="221.00" stroke="#999" stroke-width="0.4"/>
<line x1="46.39" y1="205.60" x2="46.39" y2="221.00" stroke="#444" stroke-width="0.4"/>
<line x1="96.29" y1="205.60" x2="96.29" y2="221.00" stroke="#555" stroke-width="0.4"/>
<line x1="85.23" y1="205.60" x2="85.23" y2="221.00" stroke="#444" stroke-width="0.4"/>
<line x1="103.27" y1="205.60" x2="103.27" y2="221.00" stroke="#555" stroke-width="0.3"/>
<line x1="145.45" y1="205.60" x2="145.45" y2="221.00" stroke="#666" stroke-width="0.3"/>
<line x1="56.36" y1="205.60" x2="56.36" y2="221.00" stroke="#777" stroke-width="0.3"/>
<line x1="138.73" y1="205.60" x2="138.73" y2="221.00" stroke="#666" stroke-width="0.4"/>
<line x1="125.67" y1="205.60" x2="125.67" y2="221.00" stroke="#888" stroke-width="0.5"/>
<line x1="131.23" y1="205.60" x2="131.23" y2="221.00" stroke="#777" stroke-width="0.4"/>
<line x1="64.80" y1="205.60" x2="64.80" y2="221.00" stroke="#444" stroke-width="0.5"/>
<line x1="101.57" y1="205.60" x2="101.57" y2="221.00" stroke="#777" stroke-width="0.3"/>
<line x1="79.65" y1="205.60" x2="79.65" y2="221.00" stroke="#999" stroke-width="0.3"/>
<line x1="94.78" y1="205.60" x2="94.78" y2="221.00" stroke="#555" stroke-width="0.4"/>
<line x1="141.50" y1="205.60" x2="141.50" y2="221.00" stroke="#999" stroke-width="0.3"/>
<line x1="129.71" y1="205.60" x2="129.71" y2="221.00" stroke="#555" stroke-width="0.5"/>
<line x1="134.46" y1="205.60" x2="134.46" y2="221.00" stroke="#555" stroke-width="0.4"/>
<line x1="135.03" y1="205.60" x2="135.03" y2="221.00" stroke="#888" stroke-width="0.3"/>
<line x1="86.02" y1="205.60" x2="86.02" y2="221.00" stroke="#444" stroke-width="0.4"/>
<line x1="140.51" y1="205.60" x2="140.51" y2="221.00" stroke="#777" stroke-width="0.5"/>
<line x1="62.29" y1="205.60" x2="62.29" y2="221.00" stroke="#444" stroke-width="0.5"/>
<line x1="75.19" y1="205.60" x2="75.19" y2="221.00" stroke="#555" stroke-width="0.3"/>
<line x1="77.78" y1="205.60" x2="77.78" y2="221.00" stroke="#666" stroke-width="0.3"/>
<line x1="140.98" y1="205.60" x2="140.98" y2="221.00" stroke="#999" stroke-width="0.4"/>
<line x1="105.07" y1="205.60" x2="105.07" y2="221.00" stroke="#666" stroke-width="0.4"/>
<line x1="96.80" y1="205.60" x2="96.80" y2="221.00" stroke="#999" stroke-width="0.3"/>
<line x1="78.72" y1="205.60" x2="78.72" y2="221.00" stroke="#555" stroke-width="0.4"/>
<line x1="49.39" y1="205.60" x2="49.39" y2="221.00" stroke="#555" stroke-width="0.5"/>
<line x1="102.64" y1="205.60" x2="102.64" y2="221.00" stroke="#666" stroke-width="0.5"/>
<line x1="99.65" y1="205.60" x2="99.65" y2="221.00" stroke="#888" stroke-width="0.3"/>
<line x1="116.91" y1="205.60" x2="116.91" y2="221.00" stroke="#999" stroke-width="0.4"/>
<line x1="116.74" y1="205.60" x2="116.74" y2="221.00" stroke="#444" stroke-width="0.4"/>
<line x1="144.20" y1="205.60" x2="144.20" y2="221.00" stroke="#777" stroke-width="0.5"/>
<line x1="72.56" y1="205.60" x2="72.56" y2="221.00" stroke="#666" stroke-width="0.4"/>
<line x1="70.66" y1="205.60" x2="70.66" y2="221.00" stroke="#999" stroke-width="0.5"/>
<line x1="114.86" y1="205.60" x2="114.86" y2="221.00" stroke="#888" stroke-width="0.4"/>
<line x1="145.18" y1="205.60" x2="145.18" y2="221.00" stroke="#666" stroke-width="0.3"/>
<line x1="54.49" y1="205.60" x2="54.49" y2="221.00" stroke="#999" stroke-width="0.4"/>
<line x1="95.32" y1="205.60" x2="95.32" y2="221.00" stroke="#555" stroke-width="0.3"/>
<line x1="117.54" y1="205.60" x2="117.54" y2="221.00" stroke="#888" stroke-width="0.5"/>
<line x1="118.02" y1="205.60" x2="118.02" y2="221.00" stroke="#777" stroke-width="0.5"/>
<line x1="75.61" y1="205.60" x2="75.61" y2="221.00" stroke="#777" stroke-width="0.3"/>
<line x1="98.15" y1="205.60" x2="98.15" y2="221.00" stroke="#666" stroke-width="0.4"/>
<line x1="96.82" y1="205.60" x2="96.82" y2="221.00" stroke="#777" stroke-width="0.4"/>
<line x1="143.48" y1="205.60" x2="143.48" y2="221.00" stroke="#444" stroke-width="0.4"/>
<line x1="75.86" y1="205.60" x2="75.86" y2="221.00" stroke="#777" stroke-width="0.3"/>
<line x1="87.83" y1="205.60" x2="87.83" y2="221.00" stroke="#555" stroke-width="0.4"/>
<line x1="90.39" y1="205.60" x2="90.39" y2="221.00" stroke="#888" stroke-width="0.4"/>
<line x1="102.36" y1="205.60" x2="102.36" y2="221.00" stroke="#666" stroke-width="0.3"/>
<line x1="102.55" y1="205.60" x2="102.55" y2="221.00" stroke="#555" stroke-width="0.3"/>
<line x1="78.03" y1="205.60" x2="78.03" y2="221.00" stroke="#555" stroke-width="0.3"/>
<line x1="92.20" y1="205.60" x2="92.20" y2="221.00" stroke="#555" stroke-width="0.4"/>
<line x1="46.94" y1="205.60" x2="46.94" y2="221.00" stroke="#777" stroke-width="0.5"/>
<line x1="74.56" y1="205.60" x2="74.56" y2="221.00" stroke="#444" stroke-width="0.5"/>
<line x1="134.20" y1="205.60" x2="134.20" y2="221.00" stroke="#666" stroke-width="0.5"/>
<line x1="137.61" y1="205.60" x2="137.61" y2="221.00" stroke="#444" stroke-width="0.4"/>
<line x1="126.42" y1="205.60" x2="126.42" y2="221.00" stroke="#999" stroke-width="0.4"/>
<line x1="64.81" y1="205.60" x2="64.81" y2="221.00" stroke="#999" stroke-width="0.5"/>
<rect x="41.40" y="221.00" width="105.80" height="4.60" fill="url(#gE)" />
<line x1="36.90" y1="158.30" x2="40.00" y2="158.30" stroke="#222" stroke-width="0.9"/>
<text x="33.40" y="160.80" font-size="7.2" text-anchor="end" fill="#1a1a1a" stroke="#1a1a1a" stroke-width="0.18" >0.3</text>
<line x1="36.90" y1="167.40" x2="40.00" y2="167.40" stroke="#222" stroke-width="0.9"/>
<text x="33.40" y="169.90" font-size="7.2" text-anchor="end" fill="#1a1a1a" stroke="#1a1a1a" stroke-width="0.18" >0.2</text>
<line x1="36.90" y1="176.50" x2="40.00" y2="176.50" stroke="#222" stroke-width="0.9"/>
<text x="33.40" y="179.00" font-size="7.2" text-anchor="end" fill="#1a1a1a" stroke="#1a1a1a" stroke-width="0.18" >0.1</text>
<line x1="36.90" y1="185.60" x2="40.00" y2="185.60" stroke="#222" stroke-width="0.9"/>
<text x="33.40" y="188.10" font-size="7.2" text-anchor="end" fill="#1a1a1a" stroke="#1a1a1a" stroke-width="0.18" >0</text>
<line x1="36.90" y1="194.70" x2="40.00" y2="194.70" stroke="#222" stroke-width="0.9"/>
<text x="33.40" y="197.20" font-size="7.2" text-anchor="end" fill="#1a1a1a" stroke="#1a1a1a" stroke-width="0.18" >−0.1</text>
<line x1="36.90" y1="203.80" x2="40.00" y2="203.80" stroke="#222" stroke-width="0.9"/>
<text x="33.40" y="206.30" font-size="7.2" text-anchor="end" fill="#1a1a1a" stroke="#1a1a1a" stroke-width="0.18" >−0.2</text>
<path d="M41.50 185.30 C41.75 183.92 42.35 179.62 43.00 177.00 C43.65 174.38 44.42 171.98 45.40 169.60 C46.38 167.22 47.55 164.43 48.90 162.70 C50.25 160.97 51.97 159.97 53.50 159.20 C55.03 158.43 56.18 157.97 58.10 158.10 C60.02 158.23 62.30 159.03 65.00 160.00 C67.70 160.97 71.22 162.37 74.30 163.90 C77.38 165.43 80.43 167.28 83.50 169.20 C86.57 171.12 89.62 173.22 92.70 175.40 C95.78 177.58 98.92 179.98 102.00 182.30 C105.08 184.62 108.12 187.10 111.20 189.30 C114.28 191.50 117.80 193.77 120.50 195.50 C123.20 197.23 125.10 198.55 127.40 199.70 C129.70 200.85 132.53 201.92 134.30 202.40 C136.07 202.88 136.88 202.75 138.00 202.60 C139.12 202.45 140.08 202.18 141.00 201.50 C141.92 200.82 142.68 199.97 143.50 198.50 C144.32 197.03 145.32 194.82 145.90 192.70 C146.48 190.58 146.82 186.95 147.00 185.80" fill="none" stroke="#3ce63c" stroke-width="1.2"/>
<text x="91.60" y="166.60" font-size="7.3" text-anchor="start" fill="#1a1a1a" stroke="#1a1a1a" stroke-width="0.18" textLength="39" lengthAdjust="spacingAndGlyphs" >NES = 1.594</text>
<text x="91.60" y="174.80" font-size="7.3" text-anchor="start" fill="#1a1a1a" stroke="#1a1a1a" stroke-width="0.18" textLength="58.5" lengthAdjust="spacingAndGlyphs" >FDR <tspan font-style="italic">q</tspan>-value = 0.0</text>
<line x1="41.40" y1="225.60" x2="147.20" y2="225.60" stroke="#222" stroke-width="0.9"/>
<line x1="41.50" y1="225.60" x2="41.50" y2="227.80" stroke="#222" stroke-width="0.8"/>
<text x="41.50" y="237.40" font-size="7.3" text-anchor="middle" fill="#1a1a1a" stroke="#1a1a1a" stroke-width="0.18" >0</text>
<line x1="67.70" y1="225.60" x2="67.70" y2="227.80" stroke="#222" stroke-width="0.8"/>
<text x="67.70" y="237.40" font-size="7.3" text-anchor="middle" fill="#1a1a1a" stroke="#1a1a1a" stroke-width="0.18" >3500</text>
<line x1="93.30" y1="225.60" x2="93.30" y2="227.80" stroke="#222" stroke-width="0.8"/>
<text x="93.30" y="237.40" font-size="7.3" text-anchor="middle" fill="#1a1a1a" stroke="#1a1a1a" stroke-width="0.18" >7000</text>
<line x1="118.50" y1="225.60" x2="118.50" y2="227.80" stroke="#222" stroke-width="0.8"/>
<text x="118.50" y="237.40" font-size="7.3" text-anchor="middle" fill="#1a1a1a" stroke="#1a1a1a" stroke-width="0.18" >10500</text>
<line x1="144.60" y1="225.60" x2="144.60" y2="227.80" stroke="#222" stroke-width="0.8"/>
<text x="144.60" y="237.40" font-size="7.3" text-anchor="middle" fill="#1a1a1a" stroke="#1a1a1a" stroke-width="0.18" >14000</text>
<text x="96.40" y="248.50" font-size="8.8" text-anchor="middle" fill="#1a1a1a" stroke="#1a1a1a" stroke-width="0.18" textLength="78" lengthAdjust="spacingAndGlyphs" >Rank in ordered dataset</text>
<text x="96.50" y="261.20" font-size="7.5" text-anchor="middle" fill="#1a1a1a" stroke="#1a1a1a" stroke-width="0.22" font-weight="bold" textLength="84.5" lengthAdjust="spacingAndGlyphs" >shANP32B versus shNC</text>
<text x="96.90" y="150.00" font-size="7" text-anchor="middle" fill="#1a1a1a" stroke="#1a1a1a" stroke-width="0.22" font-weight="bold" textLength="89.4" lengthAdjust="spacingAndGlyphs" >P53_REGULATED_GENES</text>
<text x="10.20" y="191.50" font-size="8.6" text-anchor="middle" fill="#1a1a1a" stroke="#1a1a1a" stroke-width="0.18" textLength="69" lengthAdjust="spacingAndGlyphs" transform="rotate(-90 10.20 191.50)" >Enrichment score (ES)</text>
<line x1="214.30" y1="156.60" x2="214.30" y2="241.00" stroke="#1a1a1a" stroke-width="1.1"/>
<line x1="213.80" y1="240.50" x2="469.40" y2="240.50" stroke="#1a1a1a" stroke-width="1.1"/>
<line x1="211.80" y1="240.50" x2="214.30" y2="240.50" stroke="#1a1a1a" stroke-width="0.9"/>
<text x="208.40" y="243.10" font-size="7.3" text-anchor="end" fill="#1a1a1a" stroke="#1a1a1a" stroke-width="0.18" >0</text>
<line x1="211.80" y1="212.80" x2="214.30" y2="212.80" stroke="#1a1a1a" stroke-width="0.9"/>
<text x="208.40" y="215.40" font-size="7.3" text-anchor="end" fill="#1a1a1a" stroke="#1a1a1a" stroke-width="0.18" >1</text>
<line x1="211.80" y1="185.10" x2="214.30" y2="185.10" stroke="#1a1a1a" stroke-width="0.9"/>
<text x="208.40" y="187.70" font-size="7.3" text-anchor="end" fill="#1a1a1a" stroke="#1a1a1a" stroke-width="0.18" >2</text>
<line x1="211.80" y1="157.40" x2="214.30" y2="157.40" stroke="#1a1a1a" stroke-width="0.9"/>
<text x="208.40" y="160.00" font-size="7.3" text-anchor="end" fill="#1a1a1a" stroke="#1a1a1a" stroke-width="0.18" >3</text>
<rect x="221.50" y="212.80" width="6.60" height="27.70" fill="#e07b8e" />
<rect x="233.60" y="234.96" width="6.60" height="5.54" fill="#83a4c4" />
<line x1="236.90" y1="234.96" x2="236.90" y2="234.41" stroke="#111" stroke-width="0.9"/>
<line x1="235.30" y1="234.41" x2="238.50" y2="234.41" stroke="#111" stroke-width="0.9"/>
<circle cx="222.70" cy="212.80" r="1.3" fill="#e04468" stroke="#cf1440" stroke-width="0.7"/>
<circle cx="224.80" cy="212.80" r="1.3" fill="#e04468" stroke="#cf1440" stroke-width="0.7"/>
<circle cx="226.90" cy="212.80" r="1.3" fill="#e04468" stroke="#cf1440" stroke-width="0.7"/>
<circle cx="234.10" cy="234.96" r="1.3" fill="#e04468" stroke="#cf1440" stroke-width="0.7"/>
<circle cx="237.00" cy="234.96" r="1.3" fill="#e04468" stroke="#cf1440" stroke-width="0.7"/>
<circle cx="239.30" cy="234.96" r="1.3" fill="#e04468" stroke="#cf1440" stroke-width="0.7"/>
<line x1="230.80" y1="240.50" x2="230.80" y2="243.70" stroke="#1a1a1a" stroke-width="1.1"/>
<text x="233.70" y="249.40" font-size="8" text-anchor="end" fill="#1a1a1a" stroke="#1a1a1a" stroke-width="0.18" font-style="italic" transform="rotate(-45 233.70 249.40)" >Anp32b</text>
<rect x="253.22" y="212.80" width="6.60" height="27.70" fill="#e07b8e" />
<rect x="265.32" y="210.03" width="6.60" height="30.47" fill="#83a4c4" />
<line x1="268.62" y1="210.03" x2="268.62" y2="208.92" stroke="#111" stroke-width="0.9"/>
<line x1="267.02" y1="208.92" x2="270.22" y2="208.92" stroke="#111" stroke-width="0.9"/>
<circle cx="254.42" cy="212.80" r="1.3" fill="#e04468" stroke="#cf1440" stroke-width="0.7"/>
<circle cx="256.52" cy="212.80" r="1.3" fill="#e04468" stroke="#cf1440" stroke-width="0.7"/>
<circle cx="258.62" cy="212.80" r="1.3" fill="#e04468" stroke="#cf1440" stroke-width="0.7"/>
<circle cx="265.72" cy="211.41" r="1.3" fill="#e04468" stroke="#cf1440" stroke-width="0.7"/>
<circle cx="268.02" cy="206.98" r="1.3" fill="#e04468" stroke="#cf1440" stroke-width="0.7"/>
<circle cx="271.12" cy="210.31" r="1.3" fill="#e04468" stroke="#cf1440" stroke-width="0.7"/>
<line x1="262.52" y1="240.50" x2="262.52" y2="243.70" stroke="#1a1a1a" stroke-width="1.1"/>
<text x="265.42" y="249.40" font-size="8" text-anchor="end" fill="#1a1a1a" stroke="#1a1a1a" stroke-width="0.18" font-style="italic" transform="rotate(-45 265.42 249.40)" >p53</text>
<rect x="284.94" y="212.80" width="6.60" height="27.70" fill="#e07b8e" />
<rect x="297.04" y="178.18" width="6.60" height="62.32" fill="#83a4c4" />
<line x1="300.34" y1="178.18" x2="300.34" y2="176.79" stroke="#111" stroke-width="0.9"/>
<line x1="298.74" y1="176.79" x2="301.94" y2="176.79" stroke="#111" stroke-width="0.9"/>
<circle cx="286.14" cy="212.80" r="1.3" fill="#e04468" stroke="#cf1440" stroke-width="0.7"/>
<circle cx="288.24" cy="212.80" r="1.3" fill="#e04468" stroke="#cf1440" stroke-width="0.7"/>
<circle cx="290.34" cy="212.80" r="1.3" fill="#e04468" stroke="#cf1440" stroke-width="0.7"/>
<circle cx="299.54" cy="179.28" r="1.3" fill="#e04468" stroke="#cf1440" stroke-width="0.7"/>
<circle cx="301.44" cy="176.79" r="1.3" fill="#e04468" stroke="#cf1440" stroke-width="0.7"/>
<circle cx="299.54" cy="181.50" r="1.3" fill="#e04468" stroke="#cf1440" stroke-width="0.7"/>
<line x1="294.24" y1="240.50" x2="294.24" y2="243.70" stroke="#1a1a1a" stroke-width="1.1"/>
<text x="297.14" y="249.40" font-size="8" text-anchor="end" fill="#1a1a1a" stroke="#1a1a1a" stroke-width="0.18" font-style="italic" transform="rotate(-45 297.14 249.40)" >Bax</text>
<rect x="316.66" y="212.80" width="6.60" height="27.70" fill="#e07b8e" />
<rect x="328.76" y="193.41" width="6.60" height="47.09" fill="#83a4c4" />
<line x1="332.06" y1="193.41" x2="332.06" y2="190.64" stroke="#111" stroke-width="0.9"/>
<line x1="330.46" y1="190.64" x2="333.66" y2="190.64" stroke="#111" stroke-width="0.9"/>
<circle cx="317.86" cy="212.80" r="1.3" fill="#e04468" stroke="#cf1440" stroke-width="0.7"/>
<circle cx="319.96" cy="212.80" r="1.3" fill="#e04468" stroke="#cf1440" stroke-width="0.7"/>
<circle cx="322.06" cy="212.80" r="1.3" fill="#e04468" stroke="#cf1440" stroke-width="0.7"/>
<circle cx="331.16" cy="187.32" r="1.3" fill="#e04468" stroke="#cf1440" stroke-width="0.7"/>
<circle cx="331.66" cy="194.24" r="1.3" fill="#e04468" stroke="#cf1440" stroke-width="0.7"/>
<circle cx="331.66" cy="197.01" r="1.3" fill="#e04468" stroke="#cf1440" stroke-width="0.7"/>
<line x1="325.96" y1="240.50" x2="325.96" y2="243.70" stroke="#1a1a1a" stroke-width="1.1"/>
<text x="328.86" y="249.40" font-size="8" text-anchor="end" fill="#1a1a1a" stroke="#1a1a1a" stroke-width="0.18" font-style="italic" transform="rotate(-45 328.86 249.40)" >Puma</text>
<rect x="348.38" y="212.80" width="6.60" height="27.70" fill="#e07b8e" />
<rect x="360.48" y="202.55" width="6.60" height="37.95" fill="#83a4c4" />
<line x1="363.78" y1="202.55" x2="363.78" y2="200.33" stroke="#111" stroke-width="0.9"/>
<line x1="362.18" y1="200.33" x2="365.38" y2="200.33" stroke="#111" stroke-width="0.9"/>
<circle cx="349.58" cy="212.80" r="1.3" fill="#e04468" stroke="#cf1440" stroke-width="0.7"/>
<circle cx="351.68" cy="212.80" r="1.3" fill="#e04468" stroke="#cf1440" stroke-width="0.7"/>
<circle cx="353.78" cy="212.80" r="1.3" fill="#e04468" stroke="#cf1440" stroke-width="0.7"/>
<circle cx="363.38" cy="198.95" r="1.3" fill="#e04468" stroke="#cf1440" stroke-width="0.7"/>
<circle cx="363.38" cy="200.89" r="1.3" fill="#e04468" stroke="#cf1440" stroke-width="0.7"/>
<circle cx="363.38" cy="206.15" r="1.3" fill="#e04468" stroke="#cf1440" stroke-width="0.7"/>
<line x1="357.68" y1="240.50" x2="357.68" y2="243.70" stroke="#1a1a1a" stroke-width="1.1"/>
<text x="360.58" y="249.40" font-size="8" text-anchor="end" fill="#1a1a1a" stroke="#1a1a1a" stroke-width="0.18" font-style="italic" transform="rotate(-45 360.58 249.40)" >Bak1</text>
<rect x="380.10" y="212.80" width="6.60" height="27.70" fill="#e07b8e" />
<rect x="392.20" y="177.34" width="6.60" height="63.16" fill="#83a4c4" />
<line x1="395.50" y1="177.34" x2="395.50" y2="174.57" stroke="#111" stroke-width="0.9"/>
<line x1="393.90" y1="174.57" x2="397.10" y2="174.57" stroke="#111" stroke-width="0.9"/>
<circle cx="381.30" cy="212.80" r="1.3" fill="#e04468" stroke="#cf1440" stroke-width="0.7"/>
<circle cx="383.40" cy="212.80" r="1.3" fill="#e04468" stroke="#cf1440" stroke-width="0.7"/>
<circle cx="385.50" cy="212.80" r="1.3" fill="#e04468" stroke="#cf1440" stroke-width="0.7"/>
<circle cx="394.30" cy="172.63" r="1.3" fill="#e04468" stroke="#cf1440" stroke-width="0.7"/>
<circle cx="394.30" cy="174.57" r="1.3" fill="#e04468" stroke="#cf1440" stroke-width="0.7"/>
<circle cx="394.90" cy="184.55" r="1.3" fill="#e04468" stroke="#cf1440" stroke-width="0.7"/>
<line x1="389.40" y1="240.50" x2="389.40" y2="243.70" stroke="#1a1a1a" stroke-width="1.1"/>
<text x="392.30" y="249.40" font-size="8" text-anchor="end" fill="#1a1a1a" stroke="#1a1a1a" stroke-width="0.18" font-style="italic" transform="rotate(-45 392.30 249.40)" >Tnfrsf10b</text>
<rect x="411.82" y="212.80" width="6.60" height="27.70" fill="#e07b8e" />
<rect x="423.92" y="213.91" width="6.60" height="26.59" fill="#83a4c4" />
<line x1="427.22" y1="213.91" x2="427.22" y2="210.58" stroke="#111" stroke-width="0.9"/>
<line x1="425.62" y1="210.58" x2="428.82" y2="210.58" stroke="#111" stroke-width="0.9"/>
<circle cx="413.02" cy="212.80" r="1.3" fill="#e04468" stroke="#cf1440" stroke-width="0.7"/>
<circle cx="415.12" cy="212.80" r="1.3" fill="#e04468" stroke="#cf1440" stroke-width="0.7"/>
<circle cx="417.22" cy="212.80" r="1.3" fill="#e04468" stroke="#cf1440" stroke-width="0.7"/>
<circle cx="424.72" cy="207.81" r="1.3" fill="#e04468" stroke="#cf1440" stroke-width="0.7"/>
<circle cx="426.82" cy="223.88" r="1.3" fill="#e04468" stroke="#cf1440" stroke-width="0.7"/>
<line x1="421.12" y1="240.50" x2="421.12" y2="243.70" stroke="#1a1a1a" stroke-width="1.1"/>
<text x="424.02" y="249.40" font-size="8" text-anchor="end" fill="#1a1a1a" stroke="#1a1a1a" stroke-width="0.18" font-style="italic" transform="rotate(-45 424.02 249.40)" >Necdin</text>
<rect x="443.54" y="212.80" width="6.60" height="27.70" fill="#e07b8e" />
<rect x="455.64" y="211.97" width="6.60" height="28.53" fill="#83a4c4" />
<line x1="458.94" y1="211.97" x2="458.94" y2="209.75" stroke="#111" stroke-width="0.9"/>
<line x1="457.34" y1="209.75" x2="460.54" y2="209.75" stroke="#111" stroke-width="0.9"/>
<circle cx="444.74" cy="212.80" r="1.3" fill="#e04468" stroke="#cf1440" stroke-width="0.7"/>
<circle cx="446.84" cy="212.80" r="1.3" fill="#e04468" stroke="#cf1440" stroke-width="0.7"/>
<circle cx="448.94" cy="212.80" r="1.3" fill="#e04468" stroke="#cf1440" stroke-width="0.7"/>
<circle cx="458.14" cy="205.88" r="1.3" fill="#e04468" stroke="#cf1440" stroke-width="0.7"/>
<circle cx="456.24" cy="213.91" r="1.3" fill="#e04468" stroke="#cf1440" stroke-width="0.7"/>
<circle cx="461.04" cy="213.91" r="1.3" fill="#e04468" stroke="#cf1440" stroke-width="0.7"/>
<line x1="452.84" y1="240.50" x2="452.84" y2="243.70" stroke="#1a1a1a" stroke-width="1.1"/>
<text x="455.74" y="249.40" font-size="8" text-anchor="end" fill="#1a1a1a" stroke="#1a1a1a" stroke-width="0.18" font-style="italic" transform="rotate(-45 455.74 249.40)" >Gfi-1</text>
<line x1="220.00" y1="209.40" x2="241.40" y2="209.40" stroke="#222" stroke-width="0.9"/>
<text x="231.70" y="206.80" font-size="6.4" text-anchor="middle" fill="#1a1a1a" stroke="#1a1a1a" stroke-width="0.08" textLength="26" lengthAdjust="spacingAndGlyphs" ><tspan font-style="italic">P</tspan>&lt;0.0001</text>
<line x1="284.00" y1="173.10" x2="304.20" y2="173.10" stroke="#222" stroke-width="0.9"/>
<text x="293.70" y="170.30" font-size="6.4" text-anchor="middle" fill="#1a1a1a" stroke="#1a1a1a" stroke-width="0.08" textLength="26" lengthAdjust="spacingAndGlyphs" ><tspan font-style="italic">P</tspan>&lt;0.0001</text>
<line x1="315.40" y1="184.40" x2="336.50" y2="184.40" stroke="#222" stroke-width="0.9"/>
<text x="326.20" y="181.60" font-size="6.4" text-anchor="middle" fill="#1a1a1a" stroke="#1a1a1a" stroke-width="0.08" textLength="26" lengthAdjust="spacingAndGlyphs" ><tspan font-style="italic">P</tspan>=0.0029</text>
<line x1="346.70" y1="195.20" x2="367.70" y2="195.20" stroke="#222" stroke-width="0.9"/>
<text x="357.50" y="192.40" font-size="6.4" text-anchor="middle" fill="#1a1a1a" stroke="#1a1a1a" stroke-width="0.08" textLength="26" lengthAdjust="spacingAndGlyphs" ><tspan font-style="italic">P</tspan>=0.0078</text>
<line x1="378.50" y1="168.70" x2="399.50" y2="168.70" stroke="#222" stroke-width="0.9"/>
<text x="389.50" y="166.00" font-size="6.4" text-anchor="middle" fill="#1a1a1a" stroke="#1a1a1a" stroke-width="0.08" textLength="26" lengthAdjust="spacingAndGlyphs" ><tspan font-style="italic">P</tspan>=0.0006</text>
<text x="197.40" y="198.80" font-size="8.6" text-anchor="middle" fill="#1a1a1a" stroke="#1a1a1a" stroke-width="0.18" textLength="68.5" lengthAdjust="spacingAndGlyphs" transform="rotate(-90 197.40 198.80)" >Relative mRNA folds</text>
<rect x="442.80" y="150.50" width="7.70" height="4.10" fill="#e07b8e" />
<text x="453.50" y="155.20" font-size="8" text-anchor="start" fill="#1a1a1a" stroke="#1a1a1a" stroke-width="0.18" font-style="italic" >Anp32b<tspan font-size="5" dy="-3">+/+</tspan></text>
<rect x="442.80" y="159.50" width="7.70" height="4.10" fill="#83a4c4" />
<text x="453.50" y="164.20" font-size="8" text-anchor="start" fill="#1a1a1a" stroke="#1a1a1a" stroke-width="0.18" font-style="italic" >Anp32b<tspan font-size="5" dy="-3">−/−</tspan></text>
<line x1="35.00" y1="301.40" x2="35.00" y2="386.00" stroke="#1a1a1a" stroke-width="1.1"/>
<line x1="34.50" y1="385.50" x2="108.00" y2="385.50" stroke="#1a1a1a" stroke-width="1.1"/>
<line x1="32.40" y1="301.82" x2="35.00" y2="301.82" stroke="#1a1a1a" stroke-width="0.9"/>
<text x="28.60" y="304.42" font-size="7.3" text-anchor="end" fill="#1a1a1a" stroke="#1a1a1a" stroke-width="0.18" >0.4</text>
<line x1="32.40" y1="322.74" x2="35.00" y2="322.74" stroke="#1a1a1a" stroke-width="0.9"/>
<text x="28.60" y="325.34" font-size="7.3" text-anchor="end" fill="#1a1a1a" stroke="#1a1a1a" stroke-width="0.18" >0.3</text>
<line x1="32.40" y1="343.66" x2="35.00" y2="343.66" stroke="#1a1a1a" stroke-width="0.9"/>
<text x="28.60" y="346.26" font-size="7.3" text-anchor="end" fill="#1a1a1a" stroke="#1a1a1a" stroke-width="0.18" >0.2</text>
<line x1="32.40" y1="364.58" x2="35.00" y2="364.58" stroke="#1a1a1a" stroke-width="0.9"/>
<text x="28.60" y="367.18" font-size="7.3" text-anchor="end" fill="#1a1a1a" stroke="#1a1a1a" stroke-width="0.18" >0.1</text>
<line x1="32.40" y1="385.50" x2="35.00" y2="385.50" stroke="#1a1a1a" stroke-width="0.9"/>
<text x="28.60" y="388.10" font-size="7.3" text-anchor="end" fill="#1a1a1a" stroke="#1a1a1a" stroke-width="0.18" >0</text>
<text x="72.50" y="294.20" font-size="7" text-anchor="middle" fill="#1a1a1a" stroke="#1a1a1a" stroke-width="0.18" font-style="italic" >Bax</text>
<rect x="79.50" y="377.97" width="8.00" height="7.53" fill="#e07b8e" />
<line x1="83.50" y1="377.97" x2="83.50" y2="376.71" stroke="#222" stroke-width="0.9"/>
<line x1="81.50" y1="376.71" x2="85.50" y2="376.71" stroke="#222" stroke-width="0.9"/>
<circle cx="81.10" cy="379.22" r="1.3" fill="#e04468" stroke="#cf1440" stroke-width="0.7"/>
<circle cx="83.50" cy="377.76" r="1.3" fill="#e04468" stroke="#cf1440" stroke-width="0.7"/>
<circle cx="86.10" cy="376.09" r="1.3" fill="#e04468" stroke="#cf1440" stroke-width="0.7"/>
<rect x="93.80" y="342.61" width="8.20" height="42.89" fill="#83a4c4" />
<line x1="97.90" y1="342.61" x2="97.90" y2="332.15" stroke="#222" stroke-width="0.9"/>
<line x1="95.90" y1="332.15" x2="99.90" y2="332.15" stroke="#222" stroke-width="0.9"/>
<circle cx="97.90" cy="353.07" r="1.3" fill="#e04468" stroke="#cf1440" stroke-width="0.7"/>
<circle cx="97.90" cy="349.94" r="1.3" fill="#e04468" stroke="#cf1440" stroke-width="0.7"/>
<circle cx="97.90" cy="322.74" r="1.3" fill="#e04468" stroke="#cf1440" stroke-width="0.7"/>
<circle cx="42.00" cy="385.50" r="1.3" fill="#e04468" stroke="#cf1440" stroke-width="0.7"/>
<circle cx="46.00" cy="385.50" r="1.3" fill="#e04468" stroke="#cf1440" stroke-width="0.7"/>
<circle cx="50.00" cy="385.50" r="1.3" fill="#e04468" stroke="#cf1440" stroke-width="0.7"/>
<circle cx="56.50" cy="385.50" r="1.3" fill="#e04468" stroke="#cf1440" stroke-width="0.7"/>
<circle cx="60.50" cy="385.50" r="1.3" fill="#e04468" stroke="#cf1440" stroke-width="0.7"/>
<circle cx="64.50" cy="385.50" r="1.3" fill="#e04468" stroke="#cf1440" stroke-width="0.7"/>
<text x="12.20" y="343.60" font-size="8.4" text-anchor="middle" fill="#1a1a1a" stroke="#1a1a1a" stroke-width="0.18" textLength="55.5" lengthAdjust="spacingAndGlyphs" transform="rotate(-90 12.20 343.60)" >Percent input (%)</text>
<line x1="80.00" y1="317.00" x2="102.20" y2="317.00" stroke="#222" stroke-width="0.9"/>
<text x="91.20" y="314.60" font-size="6.2" text-anchor="middle" fill="#1a1a1a" stroke="#1a1a1a" stroke-width="0.08" textLength="22.5" lengthAdjust="spacingAndGlyphs" ><tspan font-style="italic">P</tspan>=0.026</text>
<line x1="160.50" y1="301.40" x2="160.50" y2="386.00" stroke="#1a1a1a" stroke-width="1.1"/>
<line x1="160.00" y1="385.50" x2="234.50" y2="385.50" stroke="#1a1a1a" stroke-width="1.1"/>
<line x1="157.90" y1="301.82" x2="160.50" y2="301.82" stroke="#1a1a1a" stroke-width="0.9"/>
<text x="155.40" y="304.42" font-size="7.3" text-anchor="end" fill="#1a1a1a" stroke="#1a1a1a" stroke-width="0.18" >0.08</text>
<line x1="157.90" y1="322.74" x2="160.50" y2="322.74" stroke="#1a1a1a" stroke-width="0.9"/>
<text x="155.40" y="325.34" font-size="7.3" text-anchor="end" fill="#1a1a1a" stroke="#1a1a1a" stroke-width="0.18" >0.06</text>
<line x1="157.90" y1="343.66" x2="160.50" y2="343.66" stroke="#1a1a1a" stroke-width="0.9"/>
<text x="155.40" y="346.26" font-size="7.3" text-anchor="end" fill="#1a1a1a" stroke="#1a1a1a" stroke-width="0.18" >0.04</text>
<line x1="157.90" y1="364.58" x2="160.50" y2="364.58" stroke="#1a1a1a" stroke-width="0.9"/>
<text x="155.40" y="367.18" font-size="7.3" text-anchor="end" fill="#1a1a1a" stroke="#1a1a1a" stroke-width="0.18" >0.02</text>
<line x1="157.90" y1="385.50" x2="160.50" y2="385.50" stroke="#1a1a1a" stroke-width="0.9"/>
<text x="155.40" y="388.10" font-size="7.3" text-anchor="end" fill="#1a1a1a" stroke="#1a1a1a" stroke-width="0.18" >0</text>
<text x="198.00" y="294.20" font-size="7" text-anchor="middle" fill="#1a1a1a" stroke="#1a1a1a" stroke-width="0.18" font-style="italic" >Puma</text>
<rect x="205.75" y="358.30" width="7.25" height="27.20" fill="#e07b8e" />
<line x1="209.38" y1="358.30" x2="209.38" y2="355.17" stroke="#222" stroke-width="0.9"/>
<line x1="207.38" y1="355.17" x2="211.38" y2="355.17" stroke="#222" stroke-width="0.9"/>
<circle cx="209.35" cy="363.53" r="1.3" fill="#e04468" stroke="#cf1440" stroke-width="0.7"/>
<circle cx="209.35" cy="355.69" r="1.3" fill="#e04468" stroke="#cf1440" stroke-width="0.7"/>
<circle cx="209.35" cy="352.03" r="1.3" fill="#e04468" stroke="#cf1440" stroke-width="0.7"/>
<rect x="220.00" y="323.26" width="7.50" height="62.24" fill="#83a4c4" />
<line x1="223.75" y1="323.26" x2="223.75" y2="318.03" stroke="#222" stroke-width="0.9"/>
<line x1="221.75" y1="318.03" x2="225.75" y2="318.03" stroke="#222" stroke-width="0.9"/>
<circle cx="223.70" cy="334.25" r="1.3" fill="#e04468" stroke="#cf1440" stroke-width="0.7"/>
<circle cx="223.70" cy="318.56" r="1.3" fill="#e04468" stroke="#cf1440" stroke-width="0.7"/>
<circle cx="223.70" cy="316.46" r="1.3" fill="#e04468" stroke="#cf1440" stroke-width="0.7"/>
<circle cx="168.80" cy="385.50" r="1.3" fill="#e04468" stroke="#cf1440" stroke-width="0.7"/>
<circle cx="172.80" cy="385.50" r="1.3" fill="#e04468" stroke="#cf1440" stroke-width="0.7"/>
<circle cx="176.80" cy="385.50" r="1.3" fill="#e04468" stroke="#cf1440" stroke-width="0.7"/>
<circle cx="183.60" cy="385.50" r="1.3" fill="#e04468" stroke="#cf1440" stroke-width="0.7"/>
<circle cx="187.60" cy="385.50" r="1.3" fill="#e04468" stroke="#cf1440" stroke-width="0.7"/>
<circle cx="191.60" cy="385.50" r="1.3" fill="#e04468" stroke="#cf1440" stroke-width="0.7"/>
<text x="132.60" y="343.60" font-size="8.4" text-anchor="middle" fill="#1a1a1a" stroke="#1a1a1a" stroke-width="0.18" textLength="55.5" lengthAdjust="spacingAndGlyphs" transform="rotate(-90 132.60 343.60)" >Percent input (%)</text>
<line x1="205.75" y1="312.50" x2="227.50" y2="312.50" stroke="#222" stroke-width="0.9"/>
<text x="217.00" y="309.80" font-size="6.2" text-anchor="middle" fill="#1a1a1a" stroke="#1a1a1a" stroke-width="0.08" textLength="26.5" lengthAdjust="spacingAndGlyphs" ><tspan font-style="italic">P</tspan>=0.0063</text>
<line x1="287.50" y1="301.40" x2="287.50" y2="386.00" stroke="#1a1a1a" stroke-width="1.1"/>
<line x1="287.00" y1="385.50" x2="361.30" y2="385.50" stroke="#1a1a1a" stroke-width="1.1"/>
<line x1="284.90" y1="301.80" x2="287.50" y2="301.80" stroke="#1a1a1a" stroke-width="0.9"/>
<text x="282.70" y="304.40" font-size="7.3" text-anchor="end" fill="#1a1a1a" stroke="#1a1a1a" stroke-width="0.18" >0.10</text>
<line x1="284.90" y1="343.65" x2="287.50" y2="343.65" stroke="#1a1a1a" stroke-width="0.9"/>
<text x="282.70" y="346.25" font-size="7.3" text-anchor="end" fill="#1a1a1a" stroke="#1a1a1a" stroke-width="0.18" >0.05</text>
<line x1="284.90" y1="385.50" x2="287.50" y2="385.50" stroke="#1a1a1a" stroke-width="0.9"/>
<text x="282.70" y="388.10" font-size="7.3" text-anchor="end" fill="#1a1a1a" stroke="#1a1a1a" stroke-width="0.18" >0</text>
<text x="323.00" y="294.20" font-size="7" text-anchor="middle" fill="#1a1a1a" stroke="#1a1a1a" stroke-width="0.18" font-style="italic" >Bak1</text>
<rect x="295.75" y="380.73" width="8.00" height="4.77" fill="#e07b8e" />
<line x1="299.75" y1="380.73" x2="299.75" y2="380.31" stroke="#222" stroke-width="0.9"/>
<line x1="297.75" y1="380.31" x2="301.75" y2="380.31" stroke="#222" stroke-width="0.9"/>
<circle cx="297.25" cy="380.90" r="1.3" fill="#e04468" stroke="#cf1440" stroke-width="0.7"/>
<circle cx="299.75" cy="380.73" r="1.3" fill="#e04468" stroke="#cf1440" stroke-width="0.7"/>
<circle cx="302.25" cy="380.90" r="1.3" fill="#e04468" stroke="#cf1440" stroke-width="0.7"/>
<rect x="310.00" y="381.73" width="8.00" height="3.77" fill="#83a4c4" />
<line x1="314.00" y1="381.73" x2="314.00" y2="381.31" stroke="#222" stroke-width="0.9"/>
<line x1="312.00" y1="381.31" x2="316.00" y2="381.31" stroke="#222" stroke-width="0.9"/>
<circle cx="311.20" cy="382.99" r="1.3" fill="#e04468" stroke="#cf1440" stroke-width="0.7"/>
<circle cx="314.00" cy="380.48" r="1.3" fill="#e04468" stroke="#cf1440" stroke-width="0.7"/>
<circle cx="317.00" cy="381.48" r="1.3" fill="#e04468" stroke="#cf1440" stroke-width="0.7"/>
<rect x="332.00" y="351.18" width="9.25" height="34.32" fill="#e07b8e" />
<line x1="336.62" y1="351.18" x2="336.62" y2="350.76" stroke="#222" stroke-width="0.9"/>
<line x1="334.62" y1="350.76" x2="338.62" y2="350.76" stroke="#222" stroke-width="0.9"/>
<circle cx="333.80" cy="351.60" r="1.3" fill="#e04468" stroke="#cf1440" stroke-width="0.7"/>
<circle cx="336.60" cy="351.18" r="1.3" fill="#e04468" stroke="#cf1440" stroke-width="0.7"/>
<circle cx="339.40" cy="351.35" r="1.3" fill="#e04468" stroke="#cf1440" stroke-width="0.7"/>
<rect x="345.75" y="326.07" width="8.75" height="59.43" fill="#83a4c4" />
<line x1="350.12" y1="326.07" x2="350.12" y2="324.40" stroke="#222" stroke-width="0.9"/>
<line x1="348.12" y1="324.40" x2="352.12" y2="324.40" stroke="#222" stroke-width="0.9"/>
<circle cx="347.25" cy="327.75" r="1.3" fill="#e04468" stroke="#cf1440" stroke-width="0.7"/>
<circle cx="350.15" cy="322.73" r="1.3" fill="#e04468" stroke="#cf1440" stroke-width="0.7"/>
<circle cx="353.15" cy="327.75" r="1.3" fill="#e04468" stroke="#cf1440" stroke-width="0.7"/>
<text x="258.80" y="343.60" font-size="8.4" text-anchor="middle" fill="#1a1a1a" stroke="#1a1a1a" stroke-width="0.18" textLength="55.5" lengthAdjust="spacingAndGlyphs" transform="rotate(-90 258.80 343.60)" >Percent input (%)</text>
<line x1="332.00" y1="316.75" x2="354.50" y2="316.75" stroke="#222" stroke-width="0.9"/>
<text x="343.40" y="313.60" font-size="6.2" text-anchor="middle" fill="#1a1a1a" stroke="#1a1a1a" stroke-width="0.08" textLength="25.7" lengthAdjust="spacingAndGlyphs" ><tspan font-style="italic">P</tspan>=0.0003</text>
<line x1="413.65" y1="301.40" x2="413.65" y2="386.00" stroke="#1a1a1a" stroke-width="1.1"/>
<line x1="413.15" y1="385.50" x2="483.70" y2="385.50" stroke="#1a1a1a" stroke-width="1.1"/>
<line x1="411.05" y1="302.10" x2="413.65" y2="302.10" stroke="#1a1a1a" stroke-width="0.9"/>
<text x="408.80" y="304.70" font-size="7.3" text-anchor="end" fill="#1a1a1a" stroke="#1a1a1a" stroke-width="0.18" >0.25</text>
<line x1="411.05" y1="318.78" x2="413.65" y2="318.78" stroke="#1a1a1a" stroke-width="0.9"/>
<text x="408.80" y="321.38" font-size="7.3" text-anchor="end" fill="#1a1a1a" stroke="#1a1a1a" stroke-width="0.18" >0.20</text>
<line x1="411.05" y1="335.46" x2="413.65" y2="335.46" stroke="#1a1a1a" stroke-width="0.9"/>
<text x="408.80" y="338.06" font-size="7.3" text-anchor="end" fill="#1a1a1a" stroke="#1a1a1a" stroke-width="0.18" >0.15</text>
<line x1="411.05" y1="352.14" x2="413.65" y2="352.14" stroke="#1a1a1a" stroke-width="0.9"/>
<text x="408.80" y="354.74" font-size="7.3" text-anchor="end" fill="#1a1a1a" stroke="#1a1a1a" stroke-width="0.18" >0.10</text>
<line x1="411.05" y1="368.82" x2="413.65" y2="368.82" stroke="#1a1a1a" stroke-width="0.9"/>
<text x="408.80" y="371.42" font-size="7.3" text-anchor="end" fill="#1a1a1a" stroke="#1a1a1a" stroke-width="0.18" >0.05</text>
<line x1="411.05" y1="385.50" x2="413.65" y2="385.50" stroke="#1a1a1a" stroke-width="0.9"/>
<text x="408.80" y="388.10" font-size="7.3" text-anchor="end" fill="#1a1a1a" stroke="#1a1a1a" stroke-width="0.18" >0</text>
<text x="440.60" y="294.20" font-size="7" text-anchor="middle" fill="#1a1a1a" stroke="#1a1a1a" stroke-width="0.18" font-style="italic" >Tnfrsf10b</text>
<rect x="421.70" y="379.16" width="8.10" height="6.34" fill="#e07b8e" />
<line x1="425.75" y1="379.16" x2="425.75" y2="378.83" stroke="#222" stroke-width="0.9"/>
<line x1="423.75" y1="378.83" x2="427.75" y2="378.83" stroke="#222" stroke-width="0.9"/>
<circle cx="423.20" cy="380.50" r="1.3" fill="#e04468" stroke="#cf1440" stroke-width="0.7"/>
<circle cx="425.70" cy="378.49" r="1.3" fill="#e04468" stroke="#cf1440" stroke-width="0.7"/>
<circle cx="428.50" cy="378.83" r="1.3" fill="#e04468" stroke="#cf1440" stroke-width="0.7"/>
<rect x="435.20" y="376.49" width="8.90" height="9.01" fill="#83a4c4" />
<line x1="439.65" y1="376.49" x2="439.65" y2="376.16" stroke="#222" stroke-width="0.9"/>
<line x1="437.65" y1="376.16" x2="441.65" y2="376.16" stroke="#222" stroke-width="0.9"/>
<circle cx="436.70" cy="377.16" r="1.3" fill="#e04468" stroke="#cf1440" stroke-width="0.7"/>
<circle cx="439.70" cy="375.83" r="1.3" fill="#e04468" stroke="#cf1440" stroke-width="0.7"/>
<circle cx="442.70" cy="376.49" r="1.3" fill="#e04468" stroke="#cf1440" stroke-width="0.7"/>
<rect x="458.10" y="371.16" width="8.90" height="14.34" fill="#e07b8e" />
<line x1="462.55" y1="371.16" x2="462.55" y2="368.82" stroke="#222" stroke-width="0.9"/>
<line x1="460.55" y1="368.82" x2="464.55" y2="368.82" stroke="#222" stroke-width="0.9"/>
<circle cx="459.60" cy="374.49" r="1.3" fill="#e04468" stroke="#cf1440" stroke-width="0.7"/>
<circle cx="462.60" cy="365.48" r="1.3" fill="#e04468" stroke="#cf1440" stroke-width="0.7"/>
<circle cx="465.60" cy="373.49" r="1.3" fill="#e04468" stroke="#cf1440" stroke-width="0.7"/>
<rect x="472.00" y="328.79" width="8.40" height="56.71" fill="#83a4c4" />
<line x1="476.20" y1="328.79" x2="476.20" y2="322.78" stroke="#222" stroke-width="0.9"/>
<line x1="474.20" y1="322.78" x2="478.20" y2="322.78" stroke="#222" stroke-width="0.9"/>
<circle cx="476.20" cy="340.46" r="1.3" fill="#e04468" stroke="#cf1440" stroke-width="0.7"/>
<circle cx="476.20" cy="325.45" r="1.3" fill="#e04468" stroke="#cf1440" stroke-width="0.7"/>
<circle cx="476.20" cy="320.45" r="1.3" fill="#e04468" stroke="#cf1440" stroke-width="0.7"/>
<text x="386.60" y="343.60" font-size="8.4" text-anchor="middle" fill="#1a1a1a" stroke="#1a1a1a" stroke-width="0.18" textLength="55.5" lengthAdjust="spacingAndGlyphs" transform="rotate(-90 386.60 343.60)" >Percent input (%)</text>
<line x1="458.60" y1="315.20" x2="481.50" y2="315.20" stroke="#222" stroke-width="0.9"/>
<text x="469.80" y="313.40" font-size="6.2" text-anchor="middle" fill="#1a1a1a" stroke="#1a1a1a" stroke-width="0.08" textLength="26.2" lengthAdjust="spacingAndGlyphs" ><tspan font-style="italic">P</tspan>=0.0039</text>
<line x1="53.00" y1="385.50" x2="53.00" y2="388.00" stroke="#1a1a1a" stroke-width="0.9"/>
<line x1="90.50" y1="385.50" x2="90.50" y2="388.00" stroke="#1a1a1a" stroke-width="0.9"/>
<text x="53.00" y="397.30" font-size="7.5" text-anchor="middle" fill="#1a1a1a" stroke="#1a1a1a" stroke-width="0.18" >IgG</text>
<text x="90.50" y="397.30" font-size="7.5" text-anchor="middle" fill="#1a1a1a" stroke="#1a1a1a" stroke-width="0.18" textLength="28" lengthAdjust="spacingAndGlyphs" >Anti-p53</text>
<line x1="178.75" y1="385.50" x2="178.75" y2="388.00" stroke="#1a1a1a" stroke-width="0.9"/>
<line x1="216.25" y1="385.50" x2="216.25" y2="388.00" stroke="#1a1a1a" stroke-width="0.9"/>
<text x="178.75" y="397.30" font-size="7.5" text-anchor="middle" fill="#1a1a1a" stroke="#1a1a1a" stroke-width="0.18" >IgG</text>
<text x="216.25" y="397.30" font-size="7.5" text-anchor="middle" fill="#1a1a1a" stroke="#1a1a1a" stroke-width="0.18" textLength="28" lengthAdjust="spacingAndGlyphs" >Anti-p53</text>
<line x1="299.50" y1="385.50" x2="299.50" y2="388.00" stroke="#1a1a1a" stroke-width="0.9"/>
<line x1="343.40" y1="385.50" x2="343.40" y2="388.00" stroke="#1a1a1a" stroke-width="0.9"/>
<text x="299.50" y="397.30" font-size="7.5" text-anchor="middle" fill="#1a1a1a" stroke="#1a1a1a" stroke-width="0.18" >IgG</text>
<text x="343.40" y="397.30" font-size="7.5" text-anchor="middle" fill="#1a1a1a" stroke="#1a1a1a" stroke-width="0.18" textLength="28" lengthAdjust="spacingAndGlyphs" >Anti-p53</text>
<line x1="431.20" y1="385.50" x2="431.20" y2="388.00" stroke="#1a1a1a" stroke-width="0.9"/>
<line x1="465.00" y1="385.50" x2="465.00" y2="388.00" stroke="#1a1a1a" stroke-width="0.9"/>
<text x="431.20" y="397.30" font-size="7.5" text-anchor="middle" fill="#1a1a1a" stroke="#1a1a1a" stroke-width="0.18" >IgG</text>
<text x="465.00" y="397.30" font-size="7.5" text-anchor="middle" fill="#1a1a1a" stroke="#1a1a1a" stroke-width="0.18" textLength="28" lengthAdjust="spacingAndGlyphs" >Anti-p53</text>
<rect x="464.80" y="285.30" width="8.10" height="3.60" fill="#e07b8e" />
<text x="474.80" y="289.40" font-size="7.4" text-anchor="start" fill="#1a1a1a" stroke="#1a1a1a" stroke-width="0.18" font-style="italic" textLength="31.5" lengthAdjust="spacingAndGlyphs" >Anp32b<tspan font-size="4.8" dy="-3">+/+</tspan></text>
<rect x="464.80" y="293.20" width="8.10" height="3.60" fill="#83a4c4" />
<text x="474.80" y="297.40" font-size="7.4" text-anchor="start" fill="#1a1a1a" stroke="#1a1a1a" stroke-width="0.18" font-style="italic" textLength="31.5" lengthAdjust="spacingAndGlyphs" >Anp32b<tspan font-size="4.8" dy="-3">−/−</tspan></text>
<line x1="36.90" y1="467.30" x2="36.90" y2="549.90" stroke="#1a1a1a" stroke-width="1.1"/>
<line x1="36.40" y1="549.40" x2="163.90" y2="549.40" stroke="#1a1a1a" stroke-width="1.1"/>
<line x1="33.80" y1="549.40" x2="36.90" y2="549.40" stroke="#1a1a1a" stroke-width="0.9"/>
<text x="31.00" y="552.00" font-size="7.4" text-anchor="end" fill="#1a1a1a" stroke="#1a1a1a" stroke-width="0.18" >0</text>
<line x1="33.80" y1="533.06" x2="36.90" y2="533.06" stroke="#1a1a1a" stroke-width="0.9"/>
<text x="31.00" y="535.66" font-size="7.4" text-anchor="end" fill="#1a1a1a" stroke="#1a1a1a" stroke-width="0.18" >20</text>
<line x1="33.80" y1="516.72" x2="36.90" y2="516.72" stroke="#1a1a1a" stroke-width="0.9"/>
<text x="31.00" y="519.32" font-size="7.4" text-anchor="end" fill="#1a1a1a" stroke="#1a1a1a" stroke-width="0.18" >40</text>
<line x1="33.80" y1="500.38" x2="36.90" y2="500.38" stroke="#1a1a1a" stroke-width="0.9"/>
<text x="31.00" y="502.98" font-size="7.4" text-anchor="end" fill="#1a1a1a" stroke="#1a1a1a" stroke-width="0.18" >60</text>
<line x1="33.80" y1="484.04" x2="36.90" y2="484.04" stroke="#1a1a1a" stroke-width="0.9"/>
<text x="31.00" y="486.64" font-size="7.4" text-anchor="end" fill="#1a1a1a" stroke="#1a1a1a" stroke-width="0.18" >80</text>
<line x1="33.80" y1="467.70" x2="36.90" y2="467.70" stroke="#1a1a1a" stroke-width="0.9"/>
<text x="31.00" y="470.30" font-size="7.4" text-anchor="end" fill="#1a1a1a" stroke="#1a1a1a" stroke-width="0.18" >100</text>
<line x1="36.90" y1="549.40" x2="36.90" y2="552.00" stroke="#1a1a1a" stroke-width="0.9"/>
<text x="36.90" y="561.60" font-size="7.4" text-anchor="middle" fill="#1a1a1a" stroke="#1a1a1a" stroke-width="0.18" >0</text>
<line x1="68.60" y1="549.40" x2="68.60" y2="552.00" stroke="#1a1a1a" stroke-width="0.9"/>
<text x="68.60" y="561.60" font-size="7.4" text-anchor="middle" fill="#1a1a1a" stroke="#1a1a1a" stroke-width="0.18" >20</text>
<line x1="100.30" y1="549.40" x2="100.30" y2="552.00" stroke="#1a1a1a" stroke-width="0.9"/>
<text x="100.30" y="561.60" font-size="7.4" text-anchor="middle" fill="#1a1a1a" stroke="#1a1a1a" stroke-width="0.18" >40</text>
<line x1="132.00" y1="549.40" x2="132.00" y2="552.00" stroke="#1a1a1a" stroke-width="0.9"/>
<text x="132.00" y="561.60" font-size="7.4" text-anchor="middle" fill="#1a1a1a" stroke="#1a1a1a" stroke-width="0.18" >60</text>
<line x1="163.70" y1="549.40" x2="163.70" y2="552.00" stroke="#1a1a1a" stroke-width="0.9"/>
<text x="163.70" y="561.60" font-size="7.4" text-anchor="middle" fill="#1a1a1a" stroke="#1a1a1a" stroke-width="0.18" >80</text>
<text x="169.40" y="561.60" font-size="7.4" text-anchor="start" fill="#1a1a1a" stroke="#1a1a1a" stroke-width="0.18" >Days</text>
<text x="11.20" y="508.00" font-size="8.4" text-anchor="middle" fill="#1a1a1a" stroke="#1a1a1a" stroke-width="0.18" textLength="38.5" lengthAdjust="spacingAndGlyphs" transform="rotate(-90 11.20 508.00)" >Survival (%)</text>
<polyline points="36.90,467.70 77.90,467.70 77.90,481.34 86.20,481.34 86.20,494.91 100.60,494.91 100.60,508.55 105.40,508.55 105.40,522.19 149.60,522.19 149.60,535.76 152.70,535.76 152.70,549.40" stroke="#3cb44a" stroke-width="1.2" fill="none" />
<polyline points="36.90,467.70 74.60,467.70 74.60,494.91 76.50,494.91 76.50,522.19 77.90,522.19 77.90,535.76 82.90,535.76 82.90,549.40" stroke="#6b2d90" stroke-width="1.2" fill="none" />
<polyline points="36.90,467.70 67.30,467.70 67.30,522.19 68.90,522.19 68.90,549.40" stroke="#1f5c9e" stroke-width="1.2" fill="none" />
<polyline points="36.90,467.70 71.50,467.70 71.50,494.91 73.50,494.91 73.50,508.55 75.40,508.55 75.40,535.76 86.30,535.76 86.30,549.40" stroke="#d0143c" stroke-width="1.2" fill="none" />
<text x="100.50" y="418.80" font-size="7.6" text-anchor="middle" fill="#1a1a1a" stroke="#1a1a1a" stroke-width="0.22" font-weight="bold" textLength="56.4" lengthAdjust="spacingAndGlyphs" >Median survival</text>
<line x1="34.20" y1="428.80" x2="43.30" y2="428.80" stroke="#6b2d90" stroke-width="1"/>
<path d="M37.4 429.40 L38.8 427.20 L40.2 429.40" fill="none" stroke="#6b2d90" stroke-width="0.8"/>
<text x="47.10" y="431.70" font-size="8" text-anchor="start" fill="#333" stroke="#333" stroke-width="0.18" font-style="italic" textLength="56.3" lengthAdjust="spacingAndGlyphs" >Anp32b<tspan font-size="5" dy="-3.2">+/+</tspan><tspan dy="3.2">p53</tspan><tspan font-size="5" dy="-3.2">+/+</tspan></text>
<text x="120.40" y="431.50" font-size="7.4" text-anchor="end" fill="#6b2d90" stroke="#6b2d90" stroke-width="0.22" font-weight="bold" >25</text>
<text x="123.50" y="431.50" font-size="7.4" text-anchor="start" fill="#6b2d90" stroke="#6b2d90" stroke-width="0.22" font-weight="bold" textLength="14.8" lengthAdjust="spacingAndGlyphs" >Days</text>
<line x1="34.20" y1="438.60" x2="43.30" y2="438.60" stroke="#3cb44a" stroke-width="1"/>
<path d="M37.4 439.20 L38.8 437.00 L40.2 439.20" fill="none" stroke="#3cb44a" stroke-width="0.8"/>
<text x="47.10" y="441.50" font-size="8" text-anchor="start" fill="#333" stroke="#333" stroke-width="0.18" font-style="italic" textLength="56.3" lengthAdjust="spacingAndGlyphs" >Anp32b<tspan font-size="5" dy="-3.2">−/−</tspan><tspan dy="3.2">p53</tspan><tspan font-size="5" dy="-3.2">+/+</tspan></text>
<text x="120.40" y="441.30" font-size="7.4" text-anchor="end" fill="#3cb44a" stroke="#3cb44a" stroke-width="0.22" font-weight="bold" >41.5</text>
<text x="123.50" y="441.30" font-size="7.4" text-anchor="start" fill="#3cb44a" stroke="#3cb44a" stroke-width="0.22" font-weight="bold" textLength="14.8" lengthAdjust="spacingAndGlyphs" >Days</text>
<line x1="34.20" y1="449.00" x2="43.30" y2="449.00" stroke="#1f5c9e" stroke-width="1"/>
<path d="M37.4 449.60 L38.8 447.40 L40.2 449.60" fill="none" stroke="#1f5c9e" stroke-width="0.8"/>
<text x="47.10" y="451.90" font-size="8" text-anchor="start" fill="#333" stroke="#333" stroke-width="0.18" font-style="italic" textLength="56.3" lengthAdjust="spacingAndGlyphs" >Anp32b<tspan font-size="5" dy="-3.2">+/+</tspan><tspan dy="3.2">p53</tspan><tspan font-size="5" dy="-3.2">+/−</tspan></text>
<text x="120.40" y="451.70" font-size="7.4" text-anchor="end" fill="#1f5c9e" stroke="#1f5c9e" stroke-width="0.22" font-weight="bold" >19</text>
<text x="123.50" y="451.70" font-size="7.4" text-anchor="start" fill="#1f5c9e" stroke="#1f5c9e" stroke-width="0.22" font-weight="bold" textLength="14.8" lengthAdjust="spacingAndGlyphs" >Days</text>
<line x1="34.20" y1="459.20" x2="43.30" y2="459.20" stroke="#d0143c" stroke-width="1"/>
<path d="M37.4 459.80 L38.8 457.60 L40.2 459.80" fill="none" stroke="#d0143c" stroke-width="0.8"/>
<text x="47.10" y="462.10" font-size="8" text-anchor="start" fill="#333" stroke="#333" stroke-width="0.18" font-style="italic" textLength="56.3" lengthAdjust="spacingAndGlyphs" >Anp32b<tspan font-size="5" dy="-3.2">−/−</tspan><tspan dy="3.2">p53</tspan><tspan font-size="5" dy="-3.2">+/−</tspan></text>
<text x="120.40" y="461.90" font-size="7.4" text-anchor="end" fill="#d0143c" stroke="#d0143c" stroke-width="0.22" font-weight="bold" >23.5</text>
<text x="123.50" y="461.90" font-size="7.4" text-anchor="start" fill="#d0143c" stroke="#d0143c" stroke-width="0.22" font-weight="bold" textLength="14.8" lengthAdjust="spacingAndGlyphs" >Days</text>
<polyline points="142.40,425.20 144.80,425.20 144.80,440.70 142.40,440.70" stroke="#333" stroke-width="0.85" fill="none" />
<polyline points="142.40,446.00 144.80,446.00 144.80,460.90 142.40,460.90" stroke="#333" stroke-width="0.85" fill="none" />
<polyline points="155.50,424.90 157.90,424.90 157.90,452.10 155.50,452.10" stroke="#333" stroke-width="0.85" fill="none" />
<polyline points="166.90,434.90 169.30,434.90 169.30,462.20 166.90,462.20" stroke="#333" stroke-width="0.85" fill="none" />
<polyline points="177.70,425.90 180.10,425.90 180.10,463.10 177.70,463.10" stroke="#333" stroke-width="0.85" fill="none" />
<text x="148.30" y="429.70" font-size="6.4" text-anchor="middle" fill="#1a1a1a" stroke="#1a1a1a" stroke-width="0.08" textLength="25.9" lengthAdjust="spacingAndGlyphs" transform="rotate(90 148.30 429.70)" ><tspan font-style="italic">P</tspan>=0.0023</text>
<text x="148.30" y="458.20" font-size="6.4" text-anchor="middle" fill="#1a1a1a" stroke="#1a1a1a" stroke-width="0.08" textLength="25.6" lengthAdjust="spacingAndGlyphs" transform="rotate(90 148.30 458.20)" ><tspan font-style="italic">P</tspan>=0.0006</text>
<text x="160.10" y="439.00" font-size="6.4" text-anchor="middle" fill="#1a1a1a" stroke="#1a1a1a" stroke-width="0.08" textLength="26.2" lengthAdjust="spacingAndGlyphs" transform="rotate(90 160.10 439.00)" ><tspan font-style="italic">P</tspan>=0.0013</text>
<text x="172.10" y="449.50" font-size="6.4" text-anchor="middle" fill="#1a1a1a" stroke="#1a1a1a" stroke-width="0.08" textLength="26.7" lengthAdjust="spacingAndGlyphs" transform="rotate(90 172.10 449.50)" ><tspan font-style="italic">P</tspan>=0.0038</text>
<text x="182.60" y="444.90" font-size="6.4" text-anchor="middle" fill="#1a1a1a" stroke="#1a1a1a" stroke-width="0.08" textLength="18.4" lengthAdjust="spacingAndGlyphs" transform="rotate(90 182.60 444.90)" ><tspan font-style="italic">P</tspan>=0.54</text>
<defs><filter id="fb1" x="-20%" y="-20%" width="140%" height="140%"><feGaussianBlur stdDeviation="1.1"/></filter><filter id="fb2" x="-50%" y="-50%" width="200%" height="200%"><feGaussianBlur stdDeviation="1.8"/></filter><radialGradient id="rgCore"><stop offset="0" stop-color="#10e020"/><stop offset="0.35" stop-color="#10e060"/><stop offset="0.6" stop-color="#10c8e0"/><stop offset="1" stop-color="#1c8cff" stop-opacity="0"/></radialGradient><radialGradient id="rgCyan"><stop offset="0" stop-color="#10f0f0"/><stop offset="0.45" stop-color="#10c0f0"/><stop offset="1" stop-color="#1a60ff" stop-opacity="0"/></radialGradient><radialGradient id="rgDB"><stop offset="0" stop-color="#1530ff"/><stop offset="0.7" stop-color="#1a38ff" stop-opacity="0.9"/><stop offset="1" stop-color="#2a48ff" stop-opacity="0"/></radialGradient></defs>
<clipPath id="cpt0"><rect x="204.8" y="444.8" width="45.5" height="45.5"/></clipPath>
<clipPath id="cpb0"><rect x="204.8" y="500.3" width="45.5" height="46"/></clipPath>
<text x="204.50" y="438.20" font-size="6.3" text-anchor="start" fill="#1a1a1a" stroke="#1a1a1a" stroke-width="0.08" font-style="italic" textLength="47" lengthAdjust="spacingAndGlyphs" >Anp32b<tspan font-size="4.8" dy="-2.6">+/+</tspan><tspan dy="2.6">p53</tspan><tspan font-size="4.8" dy="-2.6">+/+</tspan></text>
<rect x="204.80" y="444.80" width="45.50" height="45.50" fill="#fff" stroke="#b8b8b8" stroke-width="0.6"/>
<g clip-path="url(#cpt0)">
<path d="M204.80 464.80 L218.80 472.80 L218.80 490.80 L204.80 490.80 Z" fill="#a8acdc" opacity="0.55" filter="url(#fb2)"/>
<rect x="215.1" y="465.9" width="0.55" height="0.55" fill="#4050e0"/><rect x="218.2" y="487.5" width="0.55" height="0.55" fill="#4050e0"/><rect x="214.8" y="483.5" width="0.55" height="0.55" fill="#4050e0"/><rect x="217.8" y="468.4" width="0.55" height="0.55" fill="#4050e0"/><rect x="213.2" y="477.7" width="0.55" height="0.55" fill="#4050e0"/><rect x="218.2" y="485.3" width="0.55" height="0.55" fill="#4050e0"/><rect x="218.0" y="479.7" width="0.55" height="0.55" fill="#4050e0"/><rect x="219.1" y="482.2" width="0.55" height="0.55" fill="#4050e0"/><rect x="215.9" y="470.7" width="0.55" height="0.55" fill="#4050e0"/><rect x="205.3" y="468.2" width="0.55" height="0.55" fill="#4050e0"/><rect x="210.6" y="467.5" width="0.55" height="0.55" fill="#4050e0"/><rect x="218.2" y="479.0" width="0.55" height="0.55" fill="#4050e0"/><rect x="214.8" y="480.8" width="0.55" height="0.55" fill="#4050e0"/><rect x="215.7" y="477.3" width="0.55" height="0.55" fill="#4050e0"/><rect x="204.9" y="485.1" width="0.55" height="0.55" fill="#4050e0"/><rect x="216.8" y="477.6" width="0.55" height="0.55" fill="#4050e0"/><rect x="213.4" y="481.6" width="0.55" height="0.55" fill="#4050e0"/><rect x="205.9" y="483.6" width="0.55" height="0.55" fill="#4050e0"/><rect x="208.8" y="466.7" width="0.55" height="0.55" fill="#4050e0"/><rect x="209.0" y="483.4" width="0.55" height="0.55" fill="#4050e0"/><rect x="208.1" y="483.7" width="0.55" height="0.55" fill="#4050e0"/><rect x="220.4" y="477.4" width="0.55" height="0.55" fill="#4050e0"/><rect x="210.9" y="477.0" width="0.55" height="0.55" fill="#4050e0"/><rect x="215.7" y="484.4" width="0.55" height="0.55" fill="#4050e0"/><rect x="214.7" y="481.2" width="0.55" height="0.55" fill="#4050e0"/><rect x="206.0" y="468.6" width="0.55" height="0.55" fill="#4050e0"/><rect x="208.9" y="483.8" width="0.55" height="0.55" fill="#4050e0"/><rect x="209.7" y="479.3" width="0.55" height="0.55" fill="#4050e0"/><rect x="205.0" y="466.3" width="0.55" height="0.55" fill="#4050e0"/><rect x="209.1" y="481.9" width="0.55" height="0.55" fill="#4050e0"/><rect x="215.9" y="482.0" width="0.55" height="0.55" fill="#4050e0"/><rect x="209.5" y="478.0" width="0.55" height="0.55" fill="#4050e0"/><rect x="212.2" y="476.7" width="0.55" height="0.55" fill="#4050e0"/><rect x="206.7" y="487.6" width="0.55" height="0.55" fill="#4050e0"/><rect x="208.0" y="489.7" width="0.55" height="0.55" fill="#4050e0"/><rect x="219.8" y="465.2" width="0.55" height="0.55" fill="#4050e0"/><rect x="212.1" y="485.7" width="0.55" height="0.55" fill="#4050e0"/><rect x="220.3" y="476.3" width="0.55" height="0.55" fill="#4050e0"/><rect x="209.1" y="470.2" width="0.55" height="0.55" fill="#4050e0"/><rect x="219.9" y="470.2" width="0.55" height="0.55" fill="#4050e0"/><rect x="214.1" y="468.4" width="0.55" height="0.55" fill="#4050e0"/><rect x="213.2" y="489.1" width="0.55" height="0.55" fill="#4050e0"/><rect x="206.9" y="485.7" width="0.55" height="0.55" fill="#4050e0"/><rect x="212.9" y="487.4" width="0.55" height="0.55" fill="#4050e0"/><rect x="216.1" y="470.7" width="0.55" height="0.55" fill="#4050e0"/><rect x="219.2" y="477.2" width="0.55" height="0.55" fill="#4050e0"/><rect x="205.2" y="464.9" width="0.55" height="0.55" fill="#4050e0"/><rect x="212.7" y="476.3" width="0.55" height="0.55" fill="#4050e0"/><rect x="209.6" y="468.4" width="0.55" height="0.55" fill="#4050e0"/><rect x="210.3" y="472.9" width="0.55" height="0.55" fill="#4050e0"/><rect x="218.2" y="464.8" width="0.55" height="0.55" fill="#4050e0"/><rect x="216.8" y="486.2" width="0.55" height="0.55" fill="#4050e0"/><rect x="206.7" y="488.4" width="0.55" height="0.55" fill="#4050e0"/><rect x="216.2" y="487.8" width="0.55" height="0.55" fill="#4050e0"/><rect x="209.4" y="474.3" width="0.55" height="0.55" fill="#4050e0"/><rect x="211.1" y="490.3" width="0.55" height="0.55" fill="#4050e0"/><rect x="214.2" y="474.0" width="0.55" height="0.55" fill="#4050e0"/><rect x="211.6" y="471.8" width="0.55" height="0.55" fill="#4050e0"/><rect x="205.6" y="467.4" width="0.55" height="0.55" fill="#4050e0"/><rect x="218.2" y="472.1" width="0.55" height="0.55" fill="#4050e0"/><rect x="219.8" y="471.2" width="0.55" height="0.55" fill="#4050e0"/><rect x="209.1" y="477.8" width="0.55" height="0.55" fill="#4050e0"/><rect x="207.8" y="474.3" width="0.55" height="0.55" fill="#4050e0"/><rect x="220.1" y="487.3" width="0.55" height="0.55" fill="#4050e0"/><rect x="217.8" y="480.9" width="0.55" height="0.55" fill="#4050e0"/><rect x="219.4" y="488.8" width="0.55" height="0.55" fill="#4050e0"/><rect x="213.6" y="483.1" width="0.55" height="0.55" fill="#4050e0"/><rect x="205.6" y="483.5" width="0.55" height="0.55" fill="#4050e0"/><rect x="212.0" y="484.0" width="0.55" height="0.55" fill="#4050e0"/><rect x="215.1" y="472.1" width="0.55" height="0.55" fill="#4050e0"/><rect x="205.6" y="488.4" width="0.55" height="0.55" fill="#4050e0"/><rect x="206.8" y="476.8" width="0.55" height="0.55" fill="#4050e0"/><rect x="210.3" y="472.4" width="0.55" height="0.55" fill="#4050e0"/><rect x="216.6" y="489.7" width="0.55" height="0.55" fill="#4050e0"/><rect x="209.0" y="481.5" width="0.55" height="0.55" fill="#4050e0"/><rect x="209.6" y="479.0" width="0.55" height="0.55" fill="#4050e0"/><rect x="211.1" y="469.1" width="0.55" height="0.55" fill="#4050e0"/><rect x="207.4" y="470.1" width="0.55" height="0.55" fill="#4050e0"/><rect x="219.3" y="477.5" width="0.55" height="0.55" fill="#4050e0"/><rect x="208.3" y="487.9" width="0.55" height="0.55" fill="#4050e0"/><rect x="220.7" y="476.3" width="0.55" height="0.55" fill="#4050e0"/><rect x="207.0" y="469.7" width="0.55" height="0.55" fill="#4050e0"/><rect x="206.3" y="473.5" width="0.55" height="0.55" fill="#4050e0"/><rect x="206.3" y="470.9" width="0.55" height="0.55" fill="#4050e0"/><rect x="208.9" y="479.3" width="0.55" height="0.55" fill="#4050e0"/><rect x="219.0" y="483.9" width="0.55" height="0.55" fill="#4050e0"/><rect x="211.4" y="475.4" width="0.55" height="0.55" fill="#4050e0"/><rect x="213.2" y="474.4" width="0.55" height="0.55" fill="#4050e0"/><rect x="210.2" y="466.4" width="0.55" height="0.55" fill="#4050e0"/><rect x="209.2" y="489.5" width="0.55" height="0.55" fill="#4050e0"/><rect x="206.8" y="477.6" width="0.55" height="0.55" fill="#4050e0"/><rect x="214.9" y="486.8" width="0.55" height="0.55" fill="#4050e0"/><rect x="208.3" y="471.7" width="0.55" height="0.55" fill="#4050e0"/><rect x="208.8" y="475.0" width="0.55" height="0.55" fill="#4050e0"/><rect x="211.9" y="489.1" width="0.55" height="0.55" fill="#4050e0"/><rect x="218.4" y="487.1" width="0.55" height="0.55" fill="#4050e0"/><rect x="205.1" y="465.6" width="0.55" height="0.55" fill="#4050e0"/><rect x="216.2" y="487.6" width="0.55" height="0.55" fill="#4050e0"/><rect x="212.4" y="479.8" width="0.55" height="0.55" fill="#4050e0"/><rect x="204.8" y="474.8" width="0.55" height="0.55" fill="#4050e0"/><rect x="219.6" y="485.9" width="0.55" height="0.55" fill="#4050e0"/><rect x="218.5" y="489.6" width="0.55" height="0.55" fill="#4050e0"/><rect x="208.8" y="467.6" width="0.55" height="0.55" fill="#4050e0"/><rect x="207.3" y="478.1" width="0.55" height="0.55" fill="#4050e0"/><rect x="215.7" y="488.8" width="0.55" height="0.55" fill="#4050e0"/><rect x="216.3" y="481.3" width="0.55" height="0.55" fill="#4050e0"/><rect x="217.0" y="476.5" width="0.55" height="0.55" fill="#4050e0"/><rect x="213.6" y="465.8" width="0.55" height="0.55" fill="#4050e0"/><rect x="217.3" y="470.7" width="0.55" height="0.55" fill="#4050e0"/><rect x="219.5" y="481.3" width="0.55" height="0.55" fill="#4050e0"/>
<rect x="239.4" y="454.9" width="0.55" height="0.55" fill="#3050ff"/><rect x="238.6" y="475.3" width="0.55" height="0.55" fill="#3050ff"/><rect x="245.3" y="454.3" width="0.55" height="0.55" fill="#3050ff"/><rect x="235.9" y="470.8" width="0.55" height="0.55" fill="#3050ff"/><rect x="243.5" y="465.3" width="0.55" height="0.55" fill="#3050ff"/><rect x="238.2" y="473.8" width="0.55" height="0.55" fill="#3050ff"/><rect x="235.0" y="461.9" width="0.55" height="0.55" fill="#3050ff"/><rect x="241.7" y="488.2" width="0.55" height="0.55" fill="#3050ff"/><rect x="244.5" y="485.2" width="0.55" height="0.55" fill="#3050ff"/><rect x="241.9" y="459.2" width="0.55" height="0.55" fill="#3050ff"/><rect x="238.5" y="488.2" width="0.55" height="0.55" fill="#3050ff"/><rect x="245.4" y="462.1" width="0.55" height="0.55" fill="#3050ff"/><rect x="235.1" y="469.7" width="0.55" height="0.55" fill="#3050ff"/><rect x="244.9" y="466.6" width="0.55" height="0.55" fill="#3050ff"/><rect x="238.7" y="476.5" width="0.55" height="0.55" fill="#3050ff"/><rect x="248.7" y="458.9" width="0.55" height="0.55" fill="#3050ff"/><rect x="235.3" y="463.3" width="0.55" height="0.55" fill="#3050ff"/><rect x="241.1" y="477.1" width="0.55" height="0.55" fill="#3050ff"/><rect x="237.8" y="481.7" width="0.55" height="0.55" fill="#3050ff"/><rect x="245.9" y="470.0" width="0.55" height="0.55" fill="#3050ff"/><rect x="237.9" y="488.6" width="0.55" height="0.55" fill="#3050ff"/><rect x="239.5" y="482.6" width="0.55" height="0.55" fill="#3050ff"/><rect x="238.3" y="458.7" width="0.55" height="0.55" fill="#3050ff"/><rect x="246.2" y="461.6" width="0.55" height="0.55" fill="#3050ff"/><rect x="249.1" y="469.6" width="0.55" height="0.55" fill="#3050ff"/><rect x="237.6" y="458.7" width="0.55" height="0.55" fill="#3050ff"/><rect x="241.1" y="476.4" width="0.55" height="0.55" fill="#3050ff"/><rect x="249.0" y="455.7" width="0.55" height="0.55" fill="#3050ff"/><rect x="240.7" y="458.3" width="0.55" height="0.55" fill="#3050ff"/><rect x="249.4" y="455.5" width="0.55" height="0.55" fill="#3050ff"/><rect x="235.6" y="452.2" width="0.55" height="0.55" fill="#3050ff"/><rect x="240.7" y="485.7" width="0.55" height="0.55" fill="#3050ff"/><rect x="248.1" y="479.1" width="0.55" height="0.55" fill="#3050ff"/><rect x="249.8" y="487.1" width="0.55" height="0.55" fill="#3050ff"/><rect x="239.7" y="457.2" width="0.55" height="0.55" fill="#3050ff"/><rect x="248.8" y="479.7" width="0.55" height="0.55" fill="#3050ff"/><rect x="235.3" y="476.4" width="0.55" height="0.55" fill="#3050ff"/><rect x="240.5" y="464.8" width="0.55" height="0.55" fill="#3050ff"/><rect x="239.8" y="456.6" width="0.55" height="0.55" fill="#3050ff"/><rect x="234.8" y="461.0" width="0.55" height="0.55" fill="#3050ff"/><rect x="240.1" y="488.0" width="0.55" height="0.55" fill="#3050ff"/><rect x="236.7" y="488.4" width="0.55" height="0.55" fill="#3050ff"/><rect x="237.9" y="464.1" width="0.55" height="0.55" fill="#3050ff"/><rect x="247.1" y="482.7" width="0.55" height="0.55" fill="#3050ff"/><rect x="241.3" y="451.8" width="0.55" height="0.55" fill="#3050ff"/><rect x="241.9" y="464.7" width="0.55" height="0.55" fill="#3050ff"/><rect x="248.6" y="457.5" width="0.55" height="0.55" fill="#3050ff"/><rect x="240.3" y="485.7" width="0.55" height="0.55" fill="#3050ff"/><rect x="235.3" y="466.2" width="0.55" height="0.55" fill="#3050ff"/><rect x="247.0" y="480.5" width="0.55" height="0.55" fill="#3050ff"/>
<rect x="206.0" y="457.1" width="0.55" height="0.55" fill="#6070ff"/><rect x="206.7" y="466.0" width="0.55" height="0.55" fill="#6070ff"/><rect x="212.5" y="464.3" width="0.55" height="0.55" fill="#6070ff"/><rect x="231.8" y="460.2" width="0.55" height="0.55" fill="#6070ff"/><rect x="213.0" y="466.4" width="0.55" height="0.55" fill="#6070ff"/><rect x="223.3" y="459.4" width="0.55" height="0.55" fill="#6070ff"/><rect x="226.3" y="460.0" width="0.55" height="0.55" fill="#6070ff"/><rect x="213.1" y="456.8" width="0.55" height="0.55" fill="#6070ff"/><rect x="227.5" y="466.0" width="0.55" height="0.55" fill="#6070ff"/><rect x="223.8" y="466.2" width="0.55" height="0.55" fill="#6070ff"/><rect x="205.5" y="459.1" width="0.55" height="0.55" fill="#6070ff"/><rect x="219.1" y="466.4" width="0.55" height="0.55" fill="#6070ff"/><rect x="233.4" y="460.7" width="0.55" height="0.55" fill="#6070ff"/><rect x="212.3" y="461.1" width="0.55" height="0.55" fill="#6070ff"/><rect x="219.6" y="466.1" width="0.55" height="0.55" fill="#6070ff"/><rect x="210.3" y="464.8" width="0.55" height="0.55" fill="#6070ff"/><rect x="227.0" y="465.0" width="0.55" height="0.55" fill="#6070ff"/><rect x="228.0" y="462.9" width="0.55" height="0.55" fill="#6070ff"/><rect x="214.6" y="460.0" width="0.55" height="0.55" fill="#6070ff"/><rect x="215.7" y="464.6" width="0.55" height="0.55" fill="#6070ff"/><rect x="207.2" y="458.8" width="0.55" height="0.55" fill="#6070ff"/><rect x="227.4" y="459.3" width="0.55" height="0.55" fill="#6070ff"/><rect x="206.7" y="457.1" width="0.55" height="0.55" fill="#6070ff"/><rect x="221.4" y="460.1" width="0.55" height="0.55" fill="#6070ff"/><rect x="234.2" y="465.6" width="0.55" height="0.55" fill="#6070ff"/>
<path d="M204.80 459.80 L219.80 455.80 L232.80 448.80 L238.80 445.30 L241.80 446.80 L244.80 454.80 L245.80 470.80 L243.80 480.80 L238.80 488.80 L234.80 490.80 L214.80 490.80 L213.80 480.80 L214.80 474.80 L204.80 471.80 Z" fill="#0f22ff" opacity="0.45" filter="url(#fb2)"/>
<path d="M206.80 462.30 L213.80 459.80 L220.80 457.60 L226.80 454.80 L232.80 450.80 L238.30 446.80 L240.80 448.30 L242.80 454.80 L244.10 462.80 L244.10 470.80 L242.30 478.30 L238.30 485.30 L233.80 490.30 L217.80 490.30 L215.80 482.80 L216.80 475.80 L210.80 472.80 L206.80 470.80 Z" fill="#0f22ff" filter="url(#fb1)"/>
<ellipse cx="227.80" cy="465.80" rx="7.5" ry="12.5" fill="url(#rgCyan)" opacity="0.95"/>
<ellipse cx="233.80" cy="454.80" rx="3" ry="6" transform="rotate(35 233.80 454.80)" fill="url(#rgCyan)" opacity="0.8"/>
<ellipse cx="228.10" cy="462.30" rx="6" ry="7.5" fill="url(#rgCore)"/>
</g>
<rect x="205.10" y="445.10" width="26.4" height="25.6" fill="none" stroke="#555" stroke-width="0.5"/>
<text x="206.80" y="451.20" font-size="6.2" text-anchor="start" fill="#222" stroke="#222" stroke-width="0.08" textLength="21.5" lengthAdjust="spacingAndGlyphs" >GFP<tspan font-size="4" dy="-2.2">+</tspan><tspan dy="2.2">Lin</tspan><tspan font-size="4" dy="-2.2">−</tspan></text>
<text x="206.80" y="457.20" font-size="6.2" text-anchor="start" fill="#222" stroke="#222" stroke-width="0.08" textLength="19" lengthAdjust="spacingAndGlyphs" >27.33%</text>
<rect x="204.80" y="500.30" width="45.50" height="46.00" fill="#fff" stroke="#b8b8b8" stroke-width="0.6"/>
<g clip-path="url(#cpb0)">
<rect x="234.4" y="516.9" width="0.55" height="0.55" fill="#3050ff"/><rect x="207.3" y="510.2" width="0.55" height="0.55" fill="#3050ff"/><rect x="219.8" y="534.7" width="0.55" height="0.55" fill="#3050ff"/><rect x="218.2" y="515.7" width="0.55" height="0.55" fill="#3050ff"/><rect x="217.3" y="531.1" width="0.55" height="0.55" fill="#3050ff"/><rect x="225.0" y="536.2" width="0.55" height="0.55" fill="#3050ff"/><rect x="230.2" y="532.9" width="0.55" height="0.55" fill="#3050ff"/><rect x="208.4" y="539.9" width="0.55" height="0.55" fill="#3050ff"/><rect x="213.6" y="529.0" width="0.55" height="0.55" fill="#3050ff"/><rect x="216.0" y="535.8" width="0.55" height="0.55" fill="#3050ff"/><rect x="210.8" y="516.2" width="0.55" height="0.55" fill="#3050ff"/><rect x="212.2" y="512.4" width="0.55" height="0.55" fill="#3050ff"/><rect x="231.3" y="529.4" width="0.55" height="0.55" fill="#3050ff"/><rect x="214.6" y="522.1" width="0.55" height="0.55" fill="#3050ff"/><rect x="234.6" y="526.6" width="0.55" height="0.55" fill="#3050ff"/><rect x="211.7" y="538.6" width="0.55" height="0.55" fill="#3050ff"/><rect x="224.4" y="545.9" width="0.55" height="0.55" fill="#3050ff"/><rect x="207.9" y="525.3" width="0.55" height="0.55" fill="#3050ff"/><rect x="229.4" y="539.9" width="0.55" height="0.55" fill="#3050ff"/><rect x="232.2" y="507.9" width="0.55" height="0.55" fill="#3050ff"/><rect x="213.6" y="511.1" width="0.55" height="0.55" fill="#3050ff"/><rect x="210.5" y="545.2" width="0.55" height="0.55" fill="#3050ff"/><rect x="222.3" y="543.5" width="0.55" height="0.55" fill="#3050ff"/><rect x="216.0" y="540.9" width="0.55" height="0.55" fill="#3050ff"/><rect x="218.3" y="516.7" width="0.55" height="0.55" fill="#3050ff"/><rect x="228.1" y="544.1" width="0.55" height="0.55" fill="#3050ff"/><rect x="208.0" y="530.1" width="0.55" height="0.55" fill="#3050ff"/><rect x="223.4" y="515.0" width="0.55" height="0.55" fill="#3050ff"/><rect x="215.9" y="512.0" width="0.55" height="0.55" fill="#3050ff"/><rect x="210.9" y="516.5" width="0.55" height="0.55" fill="#3050ff"/><rect x="222.8" y="532.4" width="0.55" height="0.55" fill="#3050ff"/><rect x="210.9" y="506.8" width="0.55" height="0.55" fill="#3050ff"/><rect x="214.6" y="533.4" width="0.55" height="0.55" fill="#3050ff"/><rect x="210.4" y="518.8" width="0.55" height="0.55" fill="#3050ff"/><rect x="210.9" y="538.1" width="0.55" height="0.55" fill="#3050ff"/><rect x="221.2" y="508.8" width="0.55" height="0.55" fill="#3050ff"/><rect x="207.8" y="522.1" width="0.55" height="0.55" fill="#3050ff"/><rect x="221.3" y="531.9" width="0.55" height="0.55" fill="#3050ff"/><rect x="207.5" y="512.8" width="0.55" height="0.55" fill="#3050ff"/><rect x="225.7" y="522.7" width="0.55" height="0.55" fill="#3050ff"/><rect x="213.3" y="518.6" width="0.55" height="0.55" fill="#3050ff"/><rect x="233.4" y="518.8" width="0.55" height="0.55" fill="#3050ff"/><rect x="221.8" y="520.6" width="0.55" height="0.55" fill="#3050ff"/><rect x="217.3" y="540.9" width="0.55" height="0.55" fill="#3050ff"/><rect x="234.7" y="520.9" width="0.55" height="0.55" fill="#3050ff"/><rect x="210.7" y="535.4" width="0.55" height="0.55" fill="#3050ff"/><rect x="210.9" y="506.5" width="0.55" height="0.55" fill="#3050ff"/><rect x="231.8" y="523.3" width="0.55" height="0.55" fill="#3050ff"/><rect x="229.4" y="522.5" width="0.55" height="0.55" fill="#3050ff"/><rect x="231.3" y="524.7" width="0.55" height="0.55" fill="#3050ff"/><rect x="209.7" y="506.9" width="0.55" height="0.55" fill="#3050ff"/><rect x="221.3" y="531.9" width="0.55" height="0.55" fill="#3050ff"/><rect x="232.1" y="509.9" width="0.55" height="0.55" fill="#3050ff"/><rect x="223.5" y="521.1" width="0.55" height="0.55" fill="#3050ff"/><rect x="219.9" y="512.1" width="0.55" height="0.55" fill="#3050ff"/><rect x="213.3" y="527.1" width="0.55" height="0.55" fill="#3050ff"/><rect x="232.6" y="510.7" width="0.55" height="0.55" fill="#3050ff"/><rect x="219.5" y="538.5" width="0.55" height="0.55" fill="#3050ff"/><rect x="233.8" y="514.2" width="0.55" height="0.55" fill="#3050ff"/><rect x="208.6" y="544.0" width="0.55" height="0.55" fill="#3050ff"/><rect x="234.1" y="525.6" width="0.55" height="0.55" fill="#3050ff"/><rect x="206.4" y="543.3" width="0.55" height="0.55" fill="#3050ff"/><rect x="216.4" y="542.5" width="0.55" height="0.55" fill="#3050ff"/><rect x="223.4" y="539.3" width="0.55" height="0.55" fill="#3050ff"/><rect x="209.6" y="537.7" width="0.55" height="0.55" fill="#3050ff"/><rect x="211.5" y="522.5" width="0.55" height="0.55" fill="#3050ff"/><rect x="230.2" y="539.5" width="0.55" height="0.55" fill="#3050ff"/><rect x="210.3" y="515.0" width="0.55" height="0.55" fill="#3050ff"/><rect x="216.8" y="527.0" width="0.55" height="0.55" fill="#3050ff"/><rect x="216.3" y="511.2" width="0.55" height="0.55" fill="#3050ff"/><rect x="212.2" y="535.3" width="0.55" height="0.55" fill="#3050ff"/><rect x="231.7" y="507.9" width="0.55" height="0.55" fill="#3050ff"/><rect x="221.7" y="536.6" width="0.55" height="0.55" fill="#3050ff"/><rect x="205.9" y="539.8" width="0.55" height="0.55" fill="#3050ff"/><rect x="208.3" y="530.3" width="0.55" height="0.55" fill="#3050ff"/><rect x="221.3" y="531.4" width="0.55" height="0.55" fill="#3050ff"/><rect x="214.0" y="523.1" width="0.55" height="0.55" fill="#3050ff"/><rect x="222.3" y="523.3" width="0.55" height="0.55" fill="#3050ff"/><rect x="224.6" y="524.2" width="0.55" height="0.55" fill="#3050ff"/><rect x="218.0" y="507.2" width="0.55" height="0.55" fill="#3050ff"/><rect x="223.4" y="525.9" width="0.55" height="0.55" fill="#3050ff"/><rect x="211.9" y="536.8" width="0.55" height="0.55" fill="#3050ff"/><rect x="228.2" y="524.6" width="0.55" height="0.55" fill="#3050ff"/><rect x="210.2" y="525.2" width="0.55" height="0.55" fill="#3050ff"/><rect x="208.0" y="511.4" width="0.55" height="0.55" fill="#3050ff"/><rect x="217.7" y="510.0" width="0.55" height="0.55" fill="#3050ff"/><rect x="218.1" y="526.7" width="0.55" height="0.55" fill="#3050ff"/><rect x="206.0" y="531.8" width="0.55" height="0.55" fill="#3050ff"/><rect x="207.3" y="535.6" width="0.55" height="0.55" fill="#3050ff"/><rect x="228.1" y="526.8" width="0.55" height="0.55" fill="#3050ff"/>
<rect x="226.2" y="529.4" width="0.55" height="0.55" fill="#3050ff"/><rect x="234.2" y="544.6" width="0.55" height="0.55" fill="#3050ff"/><rect x="228.2" y="541.4" width="0.55" height="0.55" fill="#3050ff"/><rect x="249.7" y="537.2" width="0.55" height="0.55" fill="#3050ff"/><rect x="245.2" y="518.9" width="0.55" height="0.55" fill="#3050ff"/><rect x="249.3" y="529.0" width="0.55" height="0.55" fill="#3050ff"/><rect x="248.7" y="543.4" width="0.55" height="0.55" fill="#3050ff"/><rect x="228.9" y="539.1" width="0.55" height="0.55" fill="#3050ff"/><rect x="248.1" y="514.5" width="0.55" height="0.55" fill="#3050ff"/><rect x="233.6" y="538.0" width="0.55" height="0.55" fill="#3050ff"/><rect x="228.8" y="542.8" width="0.55" height="0.55" fill="#3050ff"/><rect x="231.7" y="540.0" width="0.55" height="0.55" fill="#3050ff"/><rect x="228.4" y="529.4" width="0.55" height="0.55" fill="#3050ff"/><rect x="247.8" y="519.4" width="0.55" height="0.55" fill="#3050ff"/><rect x="231.4" y="529.5" width="0.55" height="0.55" fill="#3050ff"/><rect x="232.8" y="513.6" width="0.55" height="0.55" fill="#3050ff"/><rect x="229.4" y="517.8" width="0.55" height="0.55" fill="#3050ff"/><rect x="248.2" y="535.4" width="0.55" height="0.55" fill="#3050ff"/><rect x="247.2" y="518.0" width="0.55" height="0.55" fill="#3050ff"/><rect x="244.4" y="516.2" width="0.55" height="0.55" fill="#3050ff"/><rect x="238.1" y="533.9" width="0.55" height="0.55" fill="#3050ff"/><rect x="233.8" y="542.0" width="0.55" height="0.55" fill="#3050ff"/><rect x="238.7" y="532.0" width="0.55" height="0.55" fill="#3050ff"/><rect x="246.9" y="515.9" width="0.55" height="0.55" fill="#3050ff"/><rect x="249.6" y="533.7" width="0.55" height="0.55" fill="#3050ff"/><rect x="234.7" y="539.4" width="0.55" height="0.55" fill="#3050ff"/><rect x="231.4" y="546.0" width="0.55" height="0.55" fill="#3050ff"/><rect x="239.2" y="524.5" width="0.55" height="0.55" fill="#3050ff"/><rect x="243.9" y="527.3" width="0.55" height="0.55" fill="#3050ff"/><rect x="229.2" y="537.6" width="0.55" height="0.55" fill="#3050ff"/><rect x="226.0" y="540.2" width="0.55" height="0.55" fill="#3050ff"/><rect x="231.1" y="534.0" width="0.55" height="0.55" fill="#3050ff"/><rect x="249.4" y="532.2" width="0.55" height="0.55" fill="#3050ff"/><rect x="241.4" y="522.9" width="0.55" height="0.55" fill="#3050ff"/><rect x="224.8" y="513.4" width="0.55" height="0.55" fill="#3050ff"/><rect x="228.5" y="533.2" width="0.55" height="0.55" fill="#3050ff"/><rect x="235.6" y="529.7" width="0.55" height="0.55" fill="#3050ff"/><rect x="247.2" y="516.8" width="0.55" height="0.55" fill="#3050ff"/><rect x="230.5" y="534.5" width="0.55" height="0.55" fill="#3050ff"/><rect x="225.4" y="512.4" width="0.55" height="0.55" fill="#3050ff"/><rect x="233.7" y="515.9" width="0.55" height="0.55" fill="#3050ff"/><rect x="233.7" y="519.9" width="0.55" height="0.55" fill="#3050ff"/><rect x="239.4" y="532.3" width="0.55" height="0.55" fill="#3050ff"/><rect x="229.9" y="533.5" width="0.55" height="0.55" fill="#3050ff"/><rect x="236.7" y="516.9" width="0.55" height="0.55" fill="#3050ff"/><rect x="248.2" y="520.6" width="0.55" height="0.55" fill="#3050ff"/><rect x="228.5" y="515.6" width="0.55" height="0.55" fill="#3050ff"/><rect x="240.8" y="541.9" width="0.55" height="0.55" fill="#3050ff"/><rect x="244.4" y="526.0" width="0.55" height="0.55" fill="#3050ff"/><rect x="231.4" y="512.7" width="0.55" height="0.55" fill="#3050ff"/><rect x="240.9" y="531.4" width="0.55" height="0.55" fill="#3050ff"/><rect x="233.6" y="534.3" width="0.55" height="0.55" fill="#3050ff"/><rect x="235.9" y="544.2" width="0.55" height="0.55" fill="#3050ff"/><rect x="243.1" y="520.7" width="0.55" height="0.55" fill="#3050ff"/><rect x="247.4" y="513.8" width="0.55" height="0.55" fill="#3050ff"/><rect x="238.1" y="526.1" width="0.55" height="0.55" fill="#3050ff"/><rect x="230.7" y="514.3" width="0.55" height="0.55" fill="#3050ff"/><rect x="244.3" y="512.7" width="0.55" height="0.55" fill="#3050ff"/><rect x="238.6" y="544.3" width="0.55" height="0.55" fill="#3050ff"/><rect x="228.4" y="519.1" width="0.55" height="0.55" fill="#3050ff"/>
<ellipse cx="221.30" cy="517.30" rx="8" ry="7.5" fill="#0f22ff" opacity="0.45" filter="url(#fb2)"/>
<ellipse cx="221.30" cy="517.60" rx="5" ry="5" fill="#0f22ff" opacity="0.9" filter="url(#fb1)"/>
<path d="M215.80 520.30 L223.80 519.30 L227.80 527.30 L217.80 528.30 Z" fill="#0f22ff" filter="url(#fb1)"/>
<path d="M204.80 526.30 L212.80 523.30 L223.80 522.80 L231.80 526.30 L230.80 534.30 L227.80 541.30 L224.80 546.30 L208.80 546.30 L204.80 542.30 Z" fill="#0f22ff" opacity="0.5" filter="url(#fb2)"/>
<path d="M205.30 528.80 L212.80 525.80 L222.80 524.80 L229.30 527.30 L228.30 533.30 L225.80 540.30 L223.30 545.80 L213.80 545.80 L207.80 543.30 L205.30 537.30 Z" fill="#0f22ff" filter="url(#fb1)"/>
<ellipse cx="218.40" cy="533.10" rx="8" ry="7" fill="url(#rgCyan)"/>
</g>
<rect x="226.30" y="509.30" width="13.5" height="13.7" fill="none" stroke="#666" stroke-width="0.5"/>
<text x="231.10" y="506.60" font-size="6" text-anchor="start" fill="#222" stroke="#222" stroke-width="0.08" textLength="21.5" lengthAdjust="spacingAndGlyphs" >GFP<tspan font-size="4" dy="-2.2">+</tspan><tspan dy="2.2">LSK</tspan></text>
<text x="252.80" y="513.10" font-size="6" text-anchor="end" fill="#222" stroke="#222" stroke-width="0.08" textLength="13.6" lengthAdjust="spacingAndGlyphs" >0.44%</text>
<line x1="228.50" y1="470.70" x2="228.50" y2="504.80" stroke="#111" stroke-width="0.8"/>
<path d="M227.10 503.70 L229.90 503.70 L228.50 506.50 Z" fill="#111"/>
<clipPath id="cpt1"><rect x="254.75" y="444.8" width="45.5" height="45.5"/></clipPath>
<clipPath id="cpb1"><rect x="254.75" y="500.3" width="45.5" height="46"/></clipPath>
<text x="254.45" y="438.20" font-size="6.3" text-anchor="start" fill="#1a1a1a" stroke="#1a1a1a" stroke-width="0.08" font-style="italic" textLength="47" lengthAdjust="spacingAndGlyphs" >Anp32b<tspan font-size="4.8" dy="-2.6">−/−</tspan><tspan dy="2.6">p53</tspan><tspan font-size="4.8" dy="-2.6">+/+</tspan></text>
<rect x="254.75" y="444.80" width="45.50" height="45.50" fill="#fff" stroke="#b8b8b8" stroke-width="0.6"/>
<g clip-path="url(#cpt1)">
<path d="M254.75 464.80 L268.75 472.80 L268.75 490.80 L254.75 490.80 Z" fill="#a8acdc" opacity="0.55" filter="url(#fb2)"/>
<rect x="264.5" y="477.7" width="0.55" height="0.55" fill="#4050e0"/><rect x="265.0" y="485.5" width="0.55" height="0.55" fill="#4050e0"/><rect x="257.5" y="472.7" width="0.55" height="0.55" fill="#4050e0"/><rect x="259.6" y="466.0" width="0.55" height="0.55" fill="#4050e0"/><rect x="269.0" y="484.8" width="0.55" height="0.55" fill="#4050e0"/><rect x="266.2" y="465.0" width="0.55" height="0.55" fill="#4050e0"/><rect x="268.3" y="483.8" width="0.55" height="0.55" fill="#4050e0"/><rect x="262.2" y="483.7" width="0.55" height="0.55" fill="#4050e0"/><rect x="262.0" y="470.6" width="0.55" height="0.55" fill="#4050e0"/><rect x="256.4" y="470.7" width="0.55" height="0.55" fill="#4050e0"/><rect x="255.4" y="473.4" width="0.55" height="0.55" fill="#4050e0"/><rect x="266.7" y="482.5" width="0.55" height="0.55" fill="#4050e0"/><rect x="268.3" y="482.9" width="0.55" height="0.55" fill="#4050e0"/><rect x="259.0" y="478.9" width="0.55" height="0.55" fill="#4050e0"/><rect x="261.7" y="484.9" width="0.55" height="0.55" fill="#4050e0"/><rect x="263.1" y="471.6" width="0.55" height="0.55" fill="#4050e0"/><rect x="265.0" y="489.4" width="0.55" height="0.55" fill="#4050e0"/><rect x="258.2" y="487.2" width="0.55" height="0.55" fill="#4050e0"/><rect x="255.0" y="471.4" width="0.55" height="0.55" fill="#4050e0"/><rect x="258.5" y="483.8" width="0.55" height="0.55" fill="#4050e0"/><rect x="269.9" y="483.8" width="0.55" height="0.55" fill="#4050e0"/><rect x="260.0" y="487.2" width="0.55" height="0.55" fill="#4050e0"/><rect x="260.0" y="470.9" width="0.55" height="0.55" fill="#4050e0"/><rect x="269.3" y="480.9" width="0.55" height="0.55" fill="#4050e0"/><rect x="265.8" y="481.8" width="0.55" height="0.55" fill="#4050e0"/><rect x="270.4" y="476.8" width="0.55" height="0.55" fill="#4050e0"/><rect x="268.2" y="482.6" width="0.55" height="0.55" fill="#4050e0"/><rect x="268.5" y="475.9" width="0.55" height="0.55" fill="#4050e0"/><rect x="266.3" y="479.3" width="0.55" height="0.55" fill="#4050e0"/><rect x="259.7" y="470.2" width="0.55" height="0.55" fill="#4050e0"/><rect x="264.7" y="466.8" width="0.55" height="0.55" fill="#4050e0"/><rect x="269.3" y="468.5" width="0.55" height="0.55" fill="#4050e0"/><rect x="255.2" y="467.5" width="0.55" height="0.55" fill="#4050e0"/><rect x="269.6" y="473.6" width="0.55" height="0.55" fill="#4050e0"/><rect x="257.0" y="465.5" width="0.55" height="0.55" fill="#4050e0"/><rect x="255.4" y="482.5" width="0.55" height="0.55" fill="#4050e0"/><rect x="264.9" y="482.6" width="0.55" height="0.55" fill="#4050e0"/><rect x="266.5" y="466.5" width="0.55" height="0.55" fill="#4050e0"/><rect x="264.2" y="474.1" width="0.55" height="0.55" fill="#4050e0"/><rect x="267.8" y="485.7" width="0.55" height="0.55" fill="#4050e0"/><rect x="269.0" y="466.5" width="0.55" height="0.55" fill="#4050e0"/><rect x="268.6" y="488.1" width="0.55" height="0.55" fill="#4050e0"/><rect x="269.9" y="467.5" width="0.55" height="0.55" fill="#4050e0"/><rect x="258.0" y="467.7" width="0.55" height="0.55" fill="#4050e0"/><rect x="255.3" y="486.4" width="0.55" height="0.55" fill="#4050e0"/><rect x="267.7" y="481.0" width="0.55" height="0.55" fill="#4050e0"/><rect x="268.0" y="480.9" width="0.55" height="0.55" fill="#4050e0"/><rect x="259.3" y="467.3" width="0.55" height="0.55" fill="#4050e0"/><rect x="256.3" y="484.1" width="0.55" height="0.55" fill="#4050e0"/><rect x="258.0" y="472.9" width="0.55" height="0.55" fill="#4050e0"/><rect x="261.5" y="465.3" width="0.55" height="0.55" fill="#4050e0"/><rect x="258.9" y="472.0" width="0.55" height="0.55" fill="#4050e0"/><rect x="266.2" y="474.2" width="0.55" height="0.55" fill="#4050e0"/><rect x="259.9" y="489.4" width="0.55" height="0.55" fill="#4050e0"/><rect x="262.8" y="486.5" width="0.55" height="0.55" fill="#4050e0"/><rect x="264.6" y="465.6" width="0.55" height="0.55" fill="#4050e0"/><rect x="261.4" y="475.9" width="0.55" height="0.55" fill="#4050e0"/><rect x="267.1" y="473.6" width="0.55" height="0.55" fill="#4050e0"/><rect x="266.0" y="478.5" width="0.55" height="0.55" fill="#4050e0"/><rect x="258.2" y="486.8" width="0.55" height="0.55" fill="#4050e0"/><rect x="256.2" y="485.7" width="0.55" height="0.55" fill="#4050e0"/><rect x="257.5" y="464.8" width="0.55" height="0.55" fill="#4050e0"/><rect x="258.0" y="484.2" width="0.55" height="0.55" fill="#4050e0"/><rect x="270.4" y="464.9" width="0.55" height="0.55" fill="#4050e0"/><rect x="262.6" y="477.3" width="0.55" height="0.55" fill="#4050e0"/><rect x="267.5" y="469.5" width="0.55" height="0.55" fill="#4050e0"/><rect x="262.7" y="473.7" width="0.55" height="0.55" fill="#4050e0"/><rect x="268.1" y="471.4" width="0.55" height="0.55" fill="#4050e0"/><rect x="269.9" y="472.0" width="0.55" height="0.55" fill="#4050e0"/><rect x="258.2" y="482.6" width="0.55" height="0.55" fill="#4050e0"/><rect x="262.7" y="467.6" width="0.55" height="0.55" fill="#4050e0"/><rect x="264.9" y="466.9" width="0.55" height="0.55" fill="#4050e0"/><rect x="267.4" y="482.6" width="0.55" height="0.55" fill="#4050e0"/><rect x="267.3" y="480.8" width="0.55" height="0.55" fill="#4050e0"/><rect x="260.4" y="475.0" width="0.55" height="0.55" fill="#4050e0"/><rect x="261.1" y="487.5" width="0.55" height="0.55" fill="#4050e0"/><rect x="256.1" y="487.5" width="0.55" height="0.55" fill="#4050e0"/><rect x="255.2" y="470.1" width="0.55" height="0.55" fill="#4050e0"/><rect x="259.0" y="487.8" width="0.55" height="0.55" fill="#4050e0"/><rect x="262.8" y="474.5" width="0.55" height="0.55" fill="#4050e0"/><rect x="268.9" y="470.8" width="0.55" height="0.55" fill="#4050e0"/><rect x="262.1" y="478.4" width="0.55" height="0.55" fill="#4050e0"/><rect x="266.8" y="484.0" width="0.55" height="0.55" fill="#4050e0"/><rect x="265.1" y="473.7" width="0.55" height="0.55" fill="#4050e0"/><rect x="260.0" y="468.8" width="0.55" height="0.55" fill="#4050e0"/><rect x="268.2" y="481.7" width="0.55" height="0.55" fill="#4050e0"/><rect x="266.6" y="469.1" width="0.55" height="0.55" fill="#4050e0"/><rect x="261.8" y="484.5" width="0.55" height="0.55" fill="#4050e0"/><rect x="264.0" y="468.0" width="0.55" height="0.55" fill="#4050e0"/><rect x="262.1" y="487.4" width="0.55" height="0.55" fill="#4050e0"/><rect x="258.6" y="469.7" width="0.55" height="0.55" fill="#4050e0"/><rect x="259.6" y="482.7" width="0.55" height="0.55" fill="#4050e0"/><rect x="268.2" y="468.7" width="0.55" height="0.55" fill="#4050e0"/><rect x="257.2" y="471.1" width="0.55" height="0.55" fill="#4050e0"/><rect x="260.0" y="478.1" width="0.55" height="0.55" fill="#4050e0"/><rect x="257.3" y="473.2" width="0.55" height="0.55" fill="#4050e0"/><rect x="257.8" y="489.7" width="0.55" height="0.55" fill="#4050e0"/><rect x="266.4" y="467.4" width="0.55" height="0.55" fill="#4050e0"/><rect x="270.1" y="467.4" width="0.55" height="0.55" fill="#4050e0"/><rect x="260.9" y="489.9" width="0.55" height="0.55" fill="#4050e0"/><rect x="267.5" y="483.5" width="0.55" height="0.55" fill="#4050e0"/><rect x="261.7" y="469.8" width="0.55" height="0.55" fill="#4050e0"/><rect x="265.0" y="467.5" width="0.55" height="0.55" fill="#4050e0"/><rect x="258.1" y="474.7" width="0.55" height="0.55" fill="#4050e0"/><rect x="255.3" y="475.0" width="0.55" height="0.55" fill="#4050e0"/><rect x="267.4" y="482.5" width="0.55" height="0.55" fill="#4050e0"/><rect x="262.8" y="480.9" width="0.55" height="0.55" fill="#4050e0"/><rect x="262.2" y="468.4" width="0.55" height="0.55" fill="#4050e0"/><rect x="264.4" y="475.1" width="0.55" height="0.55" fill="#4050e0"/><rect x="266.6" y="488.0" width="0.55" height="0.55" fill="#4050e0"/>
<rect x="291.2" y="472.8" width="0.55" height="0.55" fill="#3050ff"/><rect x="296.0" y="466.6" width="0.55" height="0.55" fill="#3050ff"/><rect x="288.2" y="478.7" width="0.55" height="0.55" fill="#3050ff"/><rect x="298.0" y="480.8" width="0.55" height="0.55" fill="#3050ff"/><rect x="295.3" y="483.9" width="0.55" height="0.55" fill="#3050ff"/><rect x="294.9" y="475.5" width="0.55" height="0.55" fill="#3050ff"/><rect x="291.6" y="462.3" width="0.55" height="0.55" fill="#3050ff"/><rect x="294.2" y="453.7" width="0.55" height="0.55" fill="#3050ff"/><rect x="291.0" y="481.1" width="0.55" height="0.55" fill="#3050ff"/><rect x="295.4" y="475.0" width="0.55" height="0.55" fill="#3050ff"/><rect x="288.5" y="466.7" width="0.55" height="0.55" fill="#3050ff"/><rect x="291.6" y="474.7" width="0.55" height="0.55" fill="#3050ff"/><rect x="290.9" y="476.8" width="0.55" height="0.55" fill="#3050ff"/><rect x="298.7" y="457.1" width="0.55" height="0.55" fill="#3050ff"/><rect x="294.6" y="480.9" width="0.55" height="0.55" fill="#3050ff"/><rect x="290.6" y="469.4" width="0.55" height="0.55" fill="#3050ff"/><rect x="299.4" y="451.3" width="0.55" height="0.55" fill="#3050ff"/><rect x="292.9" y="456.2" width="0.55" height="0.55" fill="#3050ff"/><rect x="296.5" y="487.4" width="0.55" height="0.55" fill="#3050ff"/><rect x="292.5" y="453.8" width="0.55" height="0.55" fill="#3050ff"/><rect x="293.4" y="471.4" width="0.55" height="0.55" fill="#3050ff"/><rect x="295.5" y="470.3" width="0.55" height="0.55" fill="#3050ff"/><rect x="294.3" y="483.0" width="0.55" height="0.55" fill="#3050ff"/><rect x="292.6" y="466.2" width="0.55" height="0.55" fill="#3050ff"/><rect x="299.0" y="458.2" width="0.55" height="0.55" fill="#3050ff"/><rect x="295.0" y="465.5" width="0.55" height="0.55" fill="#3050ff"/><rect x="296.2" y="454.7" width="0.55" height="0.55" fill="#3050ff"/><rect x="299.5" y="464.0" width="0.55" height="0.55" fill="#3050ff"/><rect x="285.6" y="460.8" width="0.55" height="0.55" fill="#3050ff"/><rect x="290.7" y="450.3" width="0.55" height="0.55" fill="#3050ff"/><rect x="291.0" y="466.6" width="0.55" height="0.55" fill="#3050ff"/><rect x="295.2" y="463.9" width="0.55" height="0.55" fill="#3050ff"/><rect x="288.7" y="458.8" width="0.55" height="0.55" fill="#3050ff"/><rect x="295.9" y="487.4" width="0.55" height="0.55" fill="#3050ff"/><rect x="292.7" y="458.6" width="0.55" height="0.55" fill="#3050ff"/><rect x="296.8" y="465.5" width="0.55" height="0.55" fill="#3050ff"/><rect x="287.9" y="455.0" width="0.55" height="0.55" fill="#3050ff"/><rect x="296.4" y="482.2" width="0.55" height="0.55" fill="#3050ff"/><rect x="294.3" y="468.6" width="0.55" height="0.55" fill="#3050ff"/><rect x="293.2" y="458.8" width="0.55" height="0.55" fill="#3050ff"/><rect x="299.2" y="463.9" width="0.55" height="0.55" fill="#3050ff"/><rect x="294.3" y="482.5" width="0.55" height="0.55" fill="#3050ff"/><rect x="297.0" y="468.5" width="0.55" height="0.55" fill="#3050ff"/><rect x="289.2" y="471.7" width="0.55" height="0.55" fill="#3050ff"/><rect x="286.6" y="483.1" width="0.55" height="0.55" fill="#3050ff"/><rect x="290.1" y="483.8" width="0.55" height="0.55" fill="#3050ff"/><rect x="288.8" y="464.8" width="0.55" height="0.55" fill="#3050ff"/><rect x="288.6" y="466.8" width="0.55" height="0.55" fill="#3050ff"/><rect x="287.5" y="449.9" width="0.55" height="0.55" fill="#3050ff"/><rect x="295.6" y="461.0" width="0.55" height="0.55" fill="#3050ff"/>
<rect x="262.1" y="459.8" width="0.55" height="0.55" fill="#6070ff"/><rect x="269.1" y="461.1" width="0.55" height="0.55" fill="#6070ff"/><rect x="273.9" y="463.4" width="0.55" height="0.55" fill="#6070ff"/><rect x="265.6" y="466.1" width="0.55" height="0.55" fill="#6070ff"/><rect x="280.4" y="457.4" width="0.55" height="0.55" fill="#6070ff"/><rect x="279.6" y="465.9" width="0.55" height="0.55" fill="#6070ff"/><rect x="278.3" y="458.2" width="0.55" height="0.55" fill="#6070ff"/><rect x="279.7" y="463.1" width="0.55" height="0.55" fill="#6070ff"/><rect x="255.2" y="456.9" width="0.55" height="0.55" fill="#6070ff"/><rect x="283.3" y="463.4" width="0.55" height="0.55" fill="#6070ff"/><rect x="262.3" y="457.8" width="0.55" height="0.55" fill="#6070ff"/><rect x="259.0" y="459.1" width="0.55" height="0.55" fill="#6070ff"/><rect x="278.0" y="460.3" width="0.55" height="0.55" fill="#6070ff"/><rect x="259.3" y="465.8" width="0.55" height="0.55" fill="#6070ff"/><rect x="278.5" y="458.5" width="0.55" height="0.55" fill="#6070ff"/><rect x="281.5" y="462.9" width="0.55" height="0.55" fill="#6070ff"/><rect x="278.2" y="463.5" width="0.55" height="0.55" fill="#6070ff"/><rect x="281.6" y="464.7" width="0.55" height="0.55" fill="#6070ff"/><rect x="279.9" y="458.8" width="0.55" height="0.55" fill="#6070ff"/><rect x="275.5" y="462.1" width="0.55" height="0.55" fill="#6070ff"/><rect x="277.0" y="461.2" width="0.55" height="0.55" fill="#6070ff"/><rect x="281.2" y="462.4" width="0.55" height="0.55" fill="#6070ff"/><rect x="262.7" y="459.1" width="0.55" height="0.55" fill="#6070ff"/><rect x="258.9" y="461.7" width="0.55" height="0.55" fill="#6070ff"/><rect x="256.5" y="461.5" width="0.55" height="0.55" fill="#6070ff"/>
<path d="M254.75 459.80 L269.75 455.80 L282.75 448.80 L288.75 445.30 L291.75 446.80 L294.75 454.80 L295.75 470.80 L293.75 480.80 L288.75 488.80 L284.75 490.80 L264.75 490.80 L263.75 480.80 L264.75 474.80 L254.75 471.80 Z" fill="#0f22ff" opacity="0.45" filter="url(#fb2)"/>
<path d="M256.75 462.30 L263.75 459.80 L270.75 457.60 L276.75 454.80 L282.75 450.80 L288.25 446.80 L290.75 448.30 L292.75 454.80 L294.05 462.80 L294.05 470.80 L292.25 478.30 L288.25 485.30 L283.75 490.30 L267.75 490.30 L265.75 482.80 L266.75 475.80 L260.75 472.80 L256.75 470.80 Z" fill="#0f22ff" filter="url(#fb1)"/>
<ellipse cx="277.75" cy="465.80" rx="7.5" ry="12.5" fill="url(#rgCyan)" opacity="0.95"/>
<ellipse cx="283.75" cy="454.80" rx="3" ry="6" transform="rotate(35 283.75 454.80)" fill="url(#rgCyan)" opacity="0.8"/>
<ellipse cx="278.05" cy="462.30" rx="6" ry="7.5" fill="url(#rgCore)"/>
</g>
<rect x="255.05" y="445.10" width="26.4" height="25.6" fill="none" stroke="#555" stroke-width="0.5"/>
<text x="256.75" y="451.20" font-size="6.2" text-anchor="start" fill="#222" stroke="#222" stroke-width="0.08" textLength="21.5" lengthAdjust="spacingAndGlyphs" >GFP<tspan font-size="4" dy="-2.2">+</tspan><tspan dy="2.2">Lin</tspan><tspan font-size="4" dy="-2.2">−</tspan></text>
<text x="256.75" y="457.20" font-size="6.2" text-anchor="start" fill="#222" stroke="#222" stroke-width="0.08" textLength="19" lengthAdjust="spacingAndGlyphs" >27.60%</text>
<rect x="254.75" y="500.30" width="45.50" height="46.00" fill="#fff" stroke="#b8b8b8" stroke-width="0.6"/>
<g clip-path="url(#cpb1)">
<rect x="259.1" y="526.0" width="0.55" height="0.55" fill="#3050ff"/><rect x="269.7" y="527.9" width="0.55" height="0.55" fill="#3050ff"/><rect x="280.6" y="506.6" width="0.55" height="0.55" fill="#3050ff"/><rect x="280.0" y="525.0" width="0.55" height="0.55" fill="#3050ff"/><rect x="271.6" y="532.9" width="0.55" height="0.55" fill="#3050ff"/><rect x="280.0" y="521.3" width="0.55" height="0.55" fill="#3050ff"/><rect x="267.3" y="544.7" width="0.55" height="0.55" fill="#3050ff"/><rect x="257.0" y="531.8" width="0.55" height="0.55" fill="#3050ff"/><rect x="273.8" y="507.4" width="0.55" height="0.55" fill="#3050ff"/><rect x="273.0" y="533.6" width="0.55" height="0.55" fill="#3050ff"/><rect x="282.7" y="519.5" width="0.55" height="0.55" fill="#3050ff"/><rect x="284.2" y="526.7" width="0.55" height="0.55" fill="#3050ff"/><rect x="269.3" y="542.2" width="0.55" height="0.55" fill="#3050ff"/><rect x="255.8" y="535.0" width="0.55" height="0.55" fill="#3050ff"/><rect x="273.5" y="519.8" width="0.55" height="0.55" fill="#3050ff"/><rect x="280.6" y="520.9" width="0.55" height="0.55" fill="#3050ff"/><rect x="269.0" y="527.3" width="0.55" height="0.55" fill="#3050ff"/><rect x="277.9" y="514.7" width="0.55" height="0.55" fill="#3050ff"/><rect x="267.8" y="523.2" width="0.55" height="0.55" fill="#3050ff"/><rect x="271.4" y="539.4" width="0.55" height="0.55" fill="#3050ff"/><rect x="263.5" y="539.4" width="0.55" height="0.55" fill="#3050ff"/><rect x="266.9" y="526.4" width="0.55" height="0.55" fill="#3050ff"/><rect x="262.9" y="526.6" width="0.55" height="0.55" fill="#3050ff"/><rect x="284.0" y="532.5" width="0.55" height="0.55" fill="#3050ff"/><rect x="278.5" y="519.5" width="0.55" height="0.55" fill="#3050ff"/><rect x="264.3" y="518.3" width="0.55" height="0.55" fill="#3050ff"/><rect x="272.3" y="531.7" width="0.55" height="0.55" fill="#3050ff"/><rect x="278.3" y="507.9" width="0.55" height="0.55" fill="#3050ff"/><rect x="276.4" y="541.7" width="0.55" height="0.55" fill="#3050ff"/><rect x="271.1" y="508.3" width="0.55" height="0.55" fill="#3050ff"/><rect x="263.8" y="506.5" width="0.55" height="0.55" fill="#3050ff"/><rect x="260.4" y="543.2" width="0.55" height="0.55" fill="#3050ff"/><rect x="273.0" y="532.6" width="0.55" height="0.55" fill="#3050ff"/><rect x="278.4" y="542.7" width="0.55" height="0.55" fill="#3050ff"/><rect x="273.1" y="531.0" width="0.55" height="0.55" fill="#3050ff"/><rect x="273.6" y="534.2" width="0.55" height="0.55" fill="#3050ff"/><rect x="272.6" y="533.5" width="0.55" height="0.55" fill="#3050ff"/><rect x="261.1" y="533.0" width="0.55" height="0.55" fill="#3050ff"/><rect x="268.5" y="536.8" width="0.55" height="0.55" fill="#3050ff"/><rect x="257.8" y="513.6" width="0.55" height="0.55" fill="#3050ff"/><rect x="255.9" y="537.3" width="0.55" height="0.55" fill="#3050ff"/><rect x="282.2" y="532.5" width="0.55" height="0.55" fill="#3050ff"/><rect x="265.8" y="539.2" width="0.55" height="0.55" fill="#3050ff"/><rect x="278.3" y="528.8" width="0.55" height="0.55" fill="#3050ff"/><rect x="262.5" y="518.4" width="0.55" height="0.55" fill="#3050ff"/><rect x="267.4" y="519.0" width="0.55" height="0.55" fill="#3050ff"/><rect x="267.7" y="532.0" width="0.55" height="0.55" fill="#3050ff"/><rect x="282.8" y="508.5" width="0.55" height="0.55" fill="#3050ff"/><rect x="271.8" y="507.9" width="0.55" height="0.55" fill="#3050ff"/><rect x="258.3" y="538.7" width="0.55" height="0.55" fill="#3050ff"/><rect x="272.0" y="543.0" width="0.55" height="0.55" fill="#3050ff"/><rect x="268.1" y="506.9" width="0.55" height="0.55" fill="#3050ff"/><rect x="266.4" y="530.0" width="0.55" height="0.55" fill="#3050ff"/><rect x="282.9" y="545.5" width="0.55" height="0.55" fill="#3050ff"/><rect x="269.0" y="522.8" width="0.55" height="0.55" fill="#3050ff"/><rect x="257.8" y="532.1" width="0.55" height="0.55" fill="#3050ff"/><rect x="261.1" y="512.4" width="0.55" height="0.55" fill="#3050ff"/><rect x="255.2" y="506.5" width="0.55" height="0.55" fill="#3050ff"/><rect x="275.3" y="511.2" width="0.55" height="0.55" fill="#3050ff"/><rect x="283.7" y="509.8" width="0.55" height="0.55" fill="#3050ff"/><rect x="280.8" y="511.5" width="0.55" height="0.55" fill="#3050ff"/><rect x="255.3" y="535.1" width="0.55" height="0.55" fill="#3050ff"/><rect x="262.0" y="535.6" width="0.55" height="0.55" fill="#3050ff"/><rect x="260.4" y="508.3" width="0.55" height="0.55" fill="#3050ff"/><rect x="278.0" y="534.8" width="0.55" height="0.55" fill="#3050ff"/><rect x="280.4" y="535.5" width="0.55" height="0.55" fill="#3050ff"/><rect x="257.3" y="531.4" width="0.55" height="0.55" fill="#3050ff"/><rect x="276.0" y="524.7" width="0.55" height="0.55" fill="#3050ff"/><rect x="282.7" y="516.5" width="0.55" height="0.55" fill="#3050ff"/><rect x="283.7" y="535.0" width="0.55" height="0.55" fill="#3050ff"/><rect x="255.1" y="506.9" width="0.55" height="0.55" fill="#3050ff"/><rect x="274.3" y="539.0" width="0.55" height="0.55" fill="#3050ff"/><rect x="257.1" y="518.7" width="0.55" height="0.55" fill="#3050ff"/><rect x="276.6" y="512.9" width="0.55" height="0.55" fill="#3050ff"/><rect x="280.6" y="525.8" width="0.55" height="0.55" fill="#3050ff"/><rect x="256.5" y="521.0" width="0.55" height="0.55" fill="#3050ff"/><rect x="272.0" y="523.8" width="0.55" height="0.55" fill="#3050ff"/><rect x="275.1" y="512.1" width="0.55" height="0.55" fill="#3050ff"/><rect x="278.7" y="520.8" width="0.55" height="0.55" fill="#3050ff"/><rect x="274.1" y="531.5" width="0.55" height="0.55" fill="#3050ff"/><rect x="267.3" y="521.7" width="0.55" height="0.55" fill="#3050ff"/><rect x="278.3" y="544.1" width="0.55" height="0.55" fill="#3050ff"/><rect x="278.3" y="529.0" width="0.55" height="0.55" fill="#3050ff"/><rect x="263.5" y="508.7" width="0.55" height="0.55" fill="#3050ff"/><rect x="284.0" y="534.4" width="0.55" height="0.55" fill="#3050ff"/><rect x="279.6" y="519.6" width="0.55" height="0.55" fill="#3050ff"/><rect x="272.9" y="545.4" width="0.55" height="0.55" fill="#3050ff"/><rect x="279.7" y="530.3" width="0.55" height="0.55" fill="#3050ff"/><rect x="264.0" y="523.4" width="0.55" height="0.55" fill="#3050ff"/><rect x="281.4" y="521.4" width="0.55" height="0.55" fill="#3050ff"/>
<rect x="291.9" y="532.8" width="0.55" height="0.55" fill="#3050ff"/><rect x="297.2" y="539.8" width="0.55" height="0.55" fill="#3050ff"/><rect x="281.8" y="512.4" width="0.55" height="0.55" fill="#3050ff"/><rect x="281.3" y="526.7" width="0.55" height="0.55" fill="#3050ff"/><rect x="289.4" y="540.0" width="0.55" height="0.55" fill="#3050ff"/><rect x="296.9" y="513.7" width="0.55" height="0.55" fill="#3050ff"/><rect x="295.6" y="539.9" width="0.55" height="0.55" fill="#3050ff"/><rect x="296.4" y="531.7" width="0.55" height="0.55" fill="#3050ff"/><rect x="281.6" y="541.2" width="0.55" height="0.55" fill="#3050ff"/><rect x="294.9" y="535.6" width="0.55" height="0.55" fill="#3050ff"/><rect x="297.6" y="524.1" width="0.55" height="0.55" fill="#3050ff"/><rect x="276.9" y="531.1" width="0.55" height="0.55" fill="#3050ff"/><rect x="294.7" y="519.1" width="0.55" height="0.55" fill="#3050ff"/><rect x="293.5" y="544.0" width="0.55" height="0.55" fill="#3050ff"/><rect x="280.6" y="532.9" width="0.55" height="0.55" fill="#3050ff"/><rect x="291.7" y="528.1" width="0.55" height="0.55" fill="#3050ff"/><rect x="279.9" y="521.0" width="0.55" height="0.55" fill="#3050ff"/><rect x="293.5" y="539.2" width="0.55" height="0.55" fill="#3050ff"/><rect x="286.2" y="515.3" width="0.55" height="0.55" fill="#3050ff"/><rect x="294.9" y="538.6" width="0.55" height="0.55" fill="#3050ff"/><rect x="280.6" y="532.0" width="0.55" height="0.55" fill="#3050ff"/><rect x="297.2" y="542.4" width="0.55" height="0.55" fill="#3050ff"/><rect x="287.8" y="528.5" width="0.55" height="0.55" fill="#3050ff"/><rect x="289.5" y="518.7" width="0.55" height="0.55" fill="#3050ff"/><rect x="279.6" y="518.4" width="0.55" height="0.55" fill="#3050ff"/><rect x="292.3" y="524.6" width="0.55" height="0.55" fill="#3050ff"/><rect x="288.9" y="526.0" width="0.55" height="0.55" fill="#3050ff"/><rect x="287.7" y="517.4" width="0.55" height="0.55" fill="#3050ff"/><rect x="275.9" y="546.2" width="0.55" height="0.55" fill="#3050ff"/><rect x="284.1" y="515.9" width="0.55" height="0.55" fill="#3050ff"/><rect x="290.6" y="539.1" width="0.55" height="0.55" fill="#3050ff"/><rect x="278.7" y="532.6" width="0.55" height="0.55" fill="#3050ff"/><rect x="283.4" y="530.0" width="0.55" height="0.55" fill="#3050ff"/><rect x="275.3" y="513.4" width="0.55" height="0.55" fill="#3050ff"/><rect x="299.5" y="541.7" width="0.55" height="0.55" fill="#3050ff"/><rect x="286.9" y="531.6" width="0.55" height="0.55" fill="#3050ff"/><rect x="281.3" y="538.8" width="0.55" height="0.55" fill="#3050ff"/><rect x="285.4" y="544.5" width="0.55" height="0.55" fill="#3050ff"/><rect x="293.9" y="540.1" width="0.55" height="0.55" fill="#3050ff"/><rect x="298.8" y="520.9" width="0.55" height="0.55" fill="#3050ff"/><rect x="275.7" y="519.1" width="0.55" height="0.55" fill="#3050ff"/><rect x="279.3" y="515.1" width="0.55" height="0.55" fill="#3050ff"/><rect x="276.0" y="531.3" width="0.55" height="0.55" fill="#3050ff"/><rect x="296.5" y="527.9" width="0.55" height="0.55" fill="#3050ff"/><rect x="298.4" y="543.2" width="0.55" height="0.55" fill="#3050ff"/><rect x="276.4" y="532.6" width="0.55" height="0.55" fill="#3050ff"/><rect x="284.7" y="516.4" width="0.55" height="0.55" fill="#3050ff"/><rect x="298.7" y="521.0" width="0.55" height="0.55" fill="#3050ff"/><rect x="288.9" y="534.1" width="0.55" height="0.55" fill="#3050ff"/><rect x="298.7" y="535.1" width="0.55" height="0.55" fill="#3050ff"/><rect x="284.6" y="527.5" width="0.55" height="0.55" fill="#3050ff"/><rect x="278.7" y="545.1" width="0.55" height="0.55" fill="#3050ff"/><rect x="299.5" y="519.8" width="0.55" height="0.55" fill="#3050ff"/><rect x="275.7" y="521.0" width="0.55" height="0.55" fill="#3050ff"/><rect x="283.6" y="543.0" width="0.55" height="0.55" fill="#3050ff"/><rect x="297.4" y="540.8" width="0.55" height="0.55" fill="#3050ff"/><rect x="275.9" y="539.0" width="0.55" height="0.55" fill="#3050ff"/><rect x="292.5" y="534.3" width="0.55" height="0.55" fill="#3050ff"/><rect x="299.4" y="514.2" width="0.55" height="0.55" fill="#3050ff"/><rect x="278.4" y="538.0" width="0.55" height="0.55" fill="#3050ff"/>
<ellipse cx="271.25" cy="517.30" rx="8" ry="7.5" fill="#0f22ff" opacity="0.45" filter="url(#fb2)"/>
<ellipse cx="271.25" cy="517.60" rx="5" ry="5" fill="#0f22ff" opacity="0.9" filter="url(#fb1)"/>
<path d="M265.75 520.30 L273.75 519.30 L277.75 527.30 L267.75 528.30 Z" fill="#0f22ff" filter="url(#fb1)"/>
<path d="M254.75 526.30 L262.75 523.30 L273.75 522.80 L281.75 526.30 L280.75 534.30 L277.75 541.30 L274.75 546.30 L258.75 546.30 L254.75 542.30 Z" fill="#0f22ff" opacity="0.5" filter="url(#fb2)"/>
<path d="M255.25 528.80 L262.75 525.80 L272.75 524.80 L279.25 527.30 L278.25 533.30 L275.75 540.30 L273.25 545.80 L263.75 545.80 L257.75 543.30 L255.25 537.30 Z" fill="#0f22ff" filter="url(#fb1)"/>
<ellipse cx="268.35" cy="533.10" rx="8" ry="7" fill="url(#rgCyan)"/>
</g>
<rect x="276.25" y="509.30" width="13.5" height="13.7" fill="none" stroke="#666" stroke-width="0.5"/>
<text x="281.05" y="506.60" font-size="6" text-anchor="start" fill="#222" stroke="#222" stroke-width="0.08" textLength="21.5" lengthAdjust="spacingAndGlyphs" >GFP<tspan font-size="4" dy="-2.2">+</tspan><tspan dy="2.2">LSK</tspan></text>
<text x="302.75" y="513.10" font-size="6" text-anchor="end" fill="#222" stroke="#222" stroke-width="0.08" textLength="13.6" lengthAdjust="spacingAndGlyphs" >0.21%</text>
<line x1="278.45" y1="470.70" x2="278.45" y2="504.80" stroke="#111" stroke-width="0.8"/>
<path d="M277.05 503.70 L279.85 503.70 L278.45 506.50 Z" fill="#111"/>
<clipPath id="cpt2"><rect x="304.70000000000005" y="444.8" width="45.5" height="45.5"/></clipPath>
<clipPath id="cpb2"><rect x="304.70000000000005" y="500.3" width="45.5" height="46"/></clipPath>
<text x="304.40" y="438.20" font-size="6.3" text-anchor="start" fill="#1a1a1a" stroke="#1a1a1a" stroke-width="0.08" font-style="italic" textLength="47" lengthAdjust="spacingAndGlyphs" >Anp32b<tspan font-size="4.8" dy="-2.6">+/+</tspan><tspan dy="2.6">p53</tspan><tspan font-size="4.8" dy="-2.6">+/−</tspan></text>
<rect x="304.70" y="444.80" width="45.50" height="45.50" fill="#fff" stroke="#b8b8b8" stroke-width="0.6"/>
<g clip-path="url(#cpt2)">
<path d="M304.70 464.80 L318.70 472.80 L318.70 490.80 L304.70 490.80 Z" fill="#a8acdc" opacity="0.55" filter="url(#fb2)"/>
<rect x="319.7" y="482.1" width="0.55" height="0.55" fill="#4050e0"/><rect x="309.5" y="479.9" width="0.55" height="0.55" fill="#4050e0"/><rect x="316.8" y="467.5" width="0.55" height="0.55" fill="#4050e0"/><rect x="309.9" y="471.4" width="0.55" height="0.55" fill="#4050e0"/><rect x="306.7" y="477.1" width="0.55" height="0.55" fill="#4050e0"/><rect x="307.4" y="470.9" width="0.55" height="0.55" fill="#4050e0"/><rect x="307.0" y="482.1" width="0.55" height="0.55" fill="#4050e0"/><rect x="304.9" y="483.1" width="0.55" height="0.55" fill="#4050e0"/><rect x="307.8" y="465.7" width="0.55" height="0.55" fill="#4050e0"/><rect x="319.5" y="470.4" width="0.55" height="0.55" fill="#4050e0"/><rect x="319.6" y="486.9" width="0.55" height="0.55" fill="#4050e0"/><rect x="318.9" y="468.4" width="0.55" height="0.55" fill="#4050e0"/><rect x="311.9" y="467.3" width="0.55" height="0.55" fill="#4050e0"/><rect x="319.6" y="486.3" width="0.55" height="0.55" fill="#4050e0"/><rect x="314.8" y="476.3" width="0.55" height="0.55" fill="#4050e0"/><rect x="310.1" y="485.8" width="0.55" height="0.55" fill="#4050e0"/><rect x="312.3" y="480.8" width="0.55" height="0.55" fill="#4050e0"/><rect x="307.0" y="470.5" width="0.55" height="0.55" fill="#4050e0"/><rect x="305.6" y="483.0" width="0.55" height="0.55" fill="#4050e0"/><rect x="313.6" y="468.5" width="0.55" height="0.55" fill="#4050e0"/><rect x="318.6" y="471.6" width="0.55" height="0.55" fill="#4050e0"/><rect x="311.3" y="468.8" width="0.55" height="0.55" fill="#4050e0"/><rect x="309.0" y="486.2" width="0.55" height="0.55" fill="#4050e0"/><rect x="310.1" y="469.1" width="0.55" height="0.55" fill="#4050e0"/><rect x="312.6" y="472.9" width="0.55" height="0.55" fill="#4050e0"/><rect x="319.2" y="467.7" width="0.55" height="0.55" fill="#4050e0"/><rect x="320.4" y="466.2" width="0.55" height="0.55" fill="#4050e0"/><rect x="319.0" y="481.8" width="0.55" height="0.55" fill="#4050e0"/><rect x="308.1" y="477.0" width="0.55" height="0.55" fill="#4050e0"/><rect x="309.3" y="471.4" width="0.55" height="0.55" fill="#4050e0"/><rect x="307.9" y="474.1" width="0.55" height="0.55" fill="#4050e0"/><rect x="320.6" y="490.3" width="0.55" height="0.55" fill="#4050e0"/><rect x="319.5" y="467.3" width="0.55" height="0.55" fill="#4050e0"/><rect x="309.3" y="487.7" width="0.55" height="0.55" fill="#4050e0"/><rect x="305.6" y="483.3" width="0.55" height="0.55" fill="#4050e0"/><rect x="309.4" y="489.8" width="0.55" height="0.55" fill="#4050e0"/><rect x="305.0" y="485.4" width="0.55" height="0.55" fill="#4050e0"/><rect x="310.2" y="468.4" width="0.55" height="0.55" fill="#4050e0"/><rect x="304.7" y="486.0" width="0.55" height="0.55" fill="#4050e0"/><rect x="313.1" y="469.5" width="0.55" height="0.55" fill="#4050e0"/><rect x="311.7" y="488.1" width="0.55" height="0.55" fill="#4050e0"/><rect x="308.2" y="479.4" width="0.55" height="0.55" fill="#4050e0"/><rect x="306.9" y="469.4" width="0.55" height="0.55" fill="#4050e0"/><rect x="317.0" y="482.9" width="0.55" height="0.55" fill="#4050e0"/><rect x="307.8" y="466.8" width="0.55" height="0.55" fill="#4050e0"/><rect x="306.1" y="480.3" width="0.55" height="0.55" fill="#4050e0"/><rect x="312.6" y="471.8" width="0.55" height="0.55" fill="#4050e0"/><rect x="308.0" y="480.4" width="0.55" height="0.55" fill="#4050e0"/><rect x="316.0" y="485.5" width="0.55" height="0.55" fill="#4050e0"/><rect x="314.0" y="470.0" width="0.55" height="0.55" fill="#4050e0"/><rect x="305.8" y="483.5" width="0.55" height="0.55" fill="#4050e0"/><rect x="311.2" y="483.2" width="0.55" height="0.55" fill="#4050e0"/><rect x="305.6" y="485.5" width="0.55" height="0.55" fill="#4050e0"/><rect x="310.1" y="486.3" width="0.55" height="0.55" fill="#4050e0"/><rect x="318.5" y="477.4" width="0.55" height="0.55" fill="#4050e0"/><rect x="304.9" y="488.0" width="0.55" height="0.55" fill="#4050e0"/><rect x="312.3" y="487.0" width="0.55" height="0.55" fill="#4050e0"/><rect x="309.0" y="469.5" width="0.55" height="0.55" fill="#4050e0"/><rect x="318.0" y="474.2" width="0.55" height="0.55" fill="#4050e0"/><rect x="307.3" y="474.3" width="0.55" height="0.55" fill="#4050e0"/><rect x="314.2" y="464.9" width="0.55" height="0.55" fill="#4050e0"/><rect x="313.0" y="476.2" width="0.55" height="0.55" fill="#4050e0"/><rect x="313.0" y="467.9" width="0.55" height="0.55" fill="#4050e0"/><rect x="316.1" y="485.6" width="0.55" height="0.55" fill="#4050e0"/><rect x="318.5" y="473.0" width="0.55" height="0.55" fill="#4050e0"/><rect x="316.1" y="474.5" width="0.55" height="0.55" fill="#4050e0"/><rect x="316.7" y="466.4" width="0.55" height="0.55" fill="#4050e0"/><rect x="318.7" y="489.1" width="0.55" height="0.55" fill="#4050e0"/><rect x="312.6" y="477.9" width="0.55" height="0.55" fill="#4050e0"/><rect x="313.2" y="478.5" width="0.55" height="0.55" fill="#4050e0"/><rect x="305.0" y="489.5" width="0.55" height="0.55" fill="#4050e0"/><rect x="308.3" y="469.5" width="0.55" height="0.55" fill="#4050e0"/><rect x="306.3" y="471.2" width="0.55" height="0.55" fill="#4050e0"/><rect x="317.8" y="465.6" width="0.55" height="0.55" fill="#4050e0"/><rect x="306.2" y="482.6" width="0.55" height="0.55" fill="#4050e0"/><rect x="307.8" y="465.3" width="0.55" height="0.55" fill="#4050e0"/><rect x="314.3" y="479.5" width="0.55" height="0.55" fill="#4050e0"/><rect x="313.1" y="482.7" width="0.55" height="0.55" fill="#4050e0"/><rect x="306.3" y="487.0" width="0.55" height="0.55" fill="#4050e0"/><rect x="316.2" y="466.0" width="0.55" height="0.55" fill="#4050e0"/><rect x="306.7" y="477.4" width="0.55" height="0.55" fill="#4050e0"/><rect x="312.7" y="471.9" width="0.55" height="0.55" fill="#4050e0"/><rect x="306.7" y="475.1" width="0.55" height="0.55" fill="#4050e0"/><rect x="306.9" y="479.9" width="0.55" height="0.55" fill="#4050e0"/><rect x="318.5" y="468.6" width="0.55" height="0.55" fill="#4050e0"/><rect x="313.9" y="483.8" width="0.55" height="0.55" fill="#4050e0"/><rect x="307.3" y="485.9" width="0.55" height="0.55" fill="#4050e0"/><rect x="319.7" y="474.7" width="0.55" height="0.55" fill="#4050e0"/><rect x="311.4" y="486.2" width="0.55" height="0.55" fill="#4050e0"/><rect x="313.1" y="474.9" width="0.55" height="0.55" fill="#4050e0"/><rect x="319.8" y="484.6" width="0.55" height="0.55" fill="#4050e0"/><rect x="310.1" y="470.9" width="0.55" height="0.55" fill="#4050e0"/><rect x="310.1" y="475.9" width="0.55" height="0.55" fill="#4050e0"/><rect x="320.4" y="485.3" width="0.55" height="0.55" fill="#4050e0"/><rect x="319.3" y="485.6" width="0.55" height="0.55" fill="#4050e0"/><rect x="318.3" y="466.2" width="0.55" height="0.55" fill="#4050e0"/><rect x="313.0" y="489.2" width="0.55" height="0.55" fill="#4050e0"/><rect x="319.6" y="471.2" width="0.55" height="0.55" fill="#4050e0"/><rect x="311.5" y="480.9" width="0.55" height="0.55" fill="#4050e0"/><rect x="310.5" y="478.3" width="0.55" height="0.55" fill="#4050e0"/><rect x="305.8" y="475.8" width="0.55" height="0.55" fill="#4050e0"/><rect x="312.8" y="465.3" width="0.55" height="0.55" fill="#4050e0"/><rect x="306.9" y="489.5" width="0.55" height="0.55" fill="#4050e0"/><rect x="317.1" y="488.7" width="0.55" height="0.55" fill="#4050e0"/><rect x="314.8" y="485.4" width="0.55" height="0.55" fill="#4050e0"/><rect x="318.8" y="487.4" width="0.55" height="0.55" fill="#4050e0"/><rect x="305.2" y="481.2" width="0.55" height="0.55" fill="#4050e0"/><rect x="309.0" y="482.1" width="0.55" height="0.55" fill="#4050e0"/><rect x="309.1" y="478.6" width="0.55" height="0.55" fill="#4050e0"/><rect x="319.5" y="480.6" width="0.55" height="0.55" fill="#4050e0"/>
<rect x="338.5" y="470.6" width="0.55" height="0.55" fill="#3050ff"/><rect x="341.2" y="487.8" width="0.55" height="0.55" fill="#3050ff"/><rect x="339.0" y="462.0" width="0.55" height="0.55" fill="#3050ff"/><rect x="344.4" y="454.6" width="0.55" height="0.55" fill="#3050ff"/><rect x="343.6" y="488.0" width="0.55" height="0.55" fill="#3050ff"/><rect x="342.4" y="460.5" width="0.55" height="0.55" fill="#3050ff"/><rect x="341.7" y="471.2" width="0.55" height="0.55" fill="#3050ff"/><rect x="336.9" y="454.8" width="0.55" height="0.55" fill="#3050ff"/><rect x="336.7" y="461.5" width="0.55" height="0.55" fill="#3050ff"/><rect x="340.8" y="461.3" width="0.55" height="0.55" fill="#3050ff"/><rect x="338.4" y="453.3" width="0.55" height="0.55" fill="#3050ff"/><rect x="342.9" y="483.4" width="0.55" height="0.55" fill="#3050ff"/><rect x="343.8" y="472.6" width="0.55" height="0.55" fill="#3050ff"/><rect x="344.5" y="457.8" width="0.55" height="0.55" fill="#3050ff"/><rect x="345.4" y="468.2" width="0.55" height="0.55" fill="#3050ff"/><rect x="342.9" y="474.3" width="0.55" height="0.55" fill="#3050ff"/><rect x="341.7" y="462.2" width="0.55" height="0.55" fill="#3050ff"/><rect x="338.3" y="458.7" width="0.55" height="0.55" fill="#3050ff"/><rect x="342.4" y="465.1" width="0.55" height="0.55" fill="#3050ff"/><rect x="343.5" y="450.3" width="0.55" height="0.55" fill="#3050ff"/><rect x="340.0" y="484.3" width="0.55" height="0.55" fill="#3050ff"/><rect x="338.3" y="472.1" width="0.55" height="0.55" fill="#3050ff"/><rect x="342.1" y="461.2" width="0.55" height="0.55" fill="#3050ff"/><rect x="349.5" y="461.6" width="0.55" height="0.55" fill="#3050ff"/><rect x="346.3" y="456.1" width="0.55" height="0.55" fill="#3050ff"/><rect x="335.7" y="484.7" width="0.55" height="0.55" fill="#3050ff"/><rect x="341.3" y="452.3" width="0.55" height="0.55" fill="#3050ff"/><rect x="340.5" y="467.4" width="0.55" height="0.55" fill="#3050ff"/><rect x="345.7" y="454.2" width="0.55" height="0.55" fill="#3050ff"/><rect x="338.1" y="488.2" width="0.55" height="0.55" fill="#3050ff"/><rect x="345.8" y="456.0" width="0.55" height="0.55" fill="#3050ff"/><rect x="339.8" y="463.9" width="0.55" height="0.55" fill="#3050ff"/><rect x="344.8" y="474.5" width="0.55" height="0.55" fill="#3050ff"/><rect x="347.4" y="482.6" width="0.55" height="0.55" fill="#3050ff"/><rect x="342.5" y="479.4" width="0.55" height="0.55" fill="#3050ff"/><rect x="345.8" y="480.2" width="0.55" height="0.55" fill="#3050ff"/><rect x="341.8" y="481.2" width="0.55" height="0.55" fill="#3050ff"/><rect x="345.3" y="486.4" width="0.55" height="0.55" fill="#3050ff"/><rect x="336.6" y="484.6" width="0.55" height="0.55" fill="#3050ff"/><rect x="334.8" y="480.4" width="0.55" height="0.55" fill="#3050ff"/><rect x="343.5" y="469.7" width="0.55" height="0.55" fill="#3050ff"/><rect x="349.1" y="472.7" width="0.55" height="0.55" fill="#3050ff"/><rect x="341.0" y="481.1" width="0.55" height="0.55" fill="#3050ff"/><rect x="347.8" y="474.1" width="0.55" height="0.55" fill="#3050ff"/><rect x="340.4" y="467.9" width="0.55" height="0.55" fill="#3050ff"/><rect x="341.6" y="478.7" width="0.55" height="0.55" fill="#3050ff"/><rect x="339.1" y="465.4" width="0.55" height="0.55" fill="#3050ff"/><rect x="343.0" y="465.2" width="0.55" height="0.55" fill="#3050ff"/><rect x="339.5" y="481.3" width="0.55" height="0.55" fill="#3050ff"/><rect x="347.4" y="469.8" width="0.55" height="0.55" fill="#3050ff"/>
<rect x="318.0" y="458.6" width="0.55" height="0.55" fill="#6070ff"/><rect x="313.8" y="458.2" width="0.55" height="0.55" fill="#6070ff"/><rect x="322.0" y="462.6" width="0.55" height="0.55" fill="#6070ff"/><rect x="307.3" y="466.0" width="0.55" height="0.55" fill="#6070ff"/><rect x="314.4" y="465.2" width="0.55" height="0.55" fill="#6070ff"/><rect x="329.8" y="466.4" width="0.55" height="0.55" fill="#6070ff"/><rect x="310.8" y="461.1" width="0.55" height="0.55" fill="#6070ff"/><rect x="332.0" y="456.9" width="0.55" height="0.55" fill="#6070ff"/><rect x="306.1" y="462.4" width="0.55" height="0.55" fill="#6070ff"/><rect x="319.6" y="466.0" width="0.55" height="0.55" fill="#6070ff"/><rect x="327.9" y="462.2" width="0.55" height="0.55" fill="#6070ff"/><rect x="334.6" y="462.0" width="0.55" height="0.55" fill="#6070ff"/><rect x="320.2" y="463.7" width="0.55" height="0.55" fill="#6070ff"/><rect x="316.4" y="460.4" width="0.55" height="0.55" fill="#6070ff"/><rect x="322.5" y="460.3" width="0.55" height="0.55" fill="#6070ff"/><rect x="333.1" y="463.6" width="0.55" height="0.55" fill="#6070ff"/><rect x="320.5" y="457.8" width="0.55" height="0.55" fill="#6070ff"/><rect x="315.9" y="460.8" width="0.55" height="0.55" fill="#6070ff"/><rect x="321.5" y="462.5" width="0.55" height="0.55" fill="#6070ff"/><rect x="331.1" y="466.4" width="0.55" height="0.55" fill="#6070ff"/><rect x="319.3" y="461.2" width="0.55" height="0.55" fill="#6070ff"/><rect x="323.4" y="466.8" width="0.55" height="0.55" fill="#6070ff"/><rect x="315.0" y="462.1" width="0.55" height="0.55" fill="#6070ff"/><rect x="329.2" y="458.5" width="0.55" height="0.55" fill="#6070ff"/><rect x="314.2" y="466.6" width="0.55" height="0.55" fill="#6070ff"/>
<path d="M304.70 459.80 L319.70 455.80 L332.70 448.80 L338.70 445.30 L341.70 446.80 L344.70 454.80 L345.70 470.80 L343.70 480.80 L338.70 488.80 L334.70 490.80 L314.70 490.80 L313.70 480.80 L314.70 474.80 L304.70 471.80 Z" fill="#0f22ff" opacity="0.45" filter="url(#fb2)"/>
<path d="M306.70 462.30 L313.70 459.80 L320.70 457.60 L326.70 454.80 L332.70 450.80 L338.20 446.80 L340.70 448.30 L342.70 454.80 L344.00 462.80 L344.00 470.80 L342.20 478.30 L338.20 485.30 L333.70 490.30 L317.70 490.30 L315.70 482.80 L316.70 475.80 L310.70 472.80 L306.70 470.80 Z" fill="#0f22ff" filter="url(#fb1)"/>
<ellipse cx="327.70" cy="465.80" rx="7.5" ry="12.5" fill="url(#rgCyan)" opacity="0.95"/>
<ellipse cx="333.70" cy="454.80" rx="3" ry="6" transform="rotate(35 333.70 454.80)" fill="url(#rgCyan)" opacity="0.8"/>
<ellipse cx="328.00" cy="462.30" rx="6" ry="7.5" fill="url(#rgCore)"/>
</g>
<rect x="305.00" y="445.10" width="26.4" height="25.6" fill="none" stroke="#555" stroke-width="0.5"/>
<text x="306.70" y="451.20" font-size="6.2" text-anchor="start" fill="#222" stroke="#222" stroke-width="0.08" textLength="21.5" lengthAdjust="spacingAndGlyphs" >GFP<tspan font-size="4" dy="-2.2">+</tspan><tspan dy="2.2">Lin</tspan><tspan font-size="4" dy="-2.2">−</tspan></text>
<text x="306.70" y="457.20" font-size="6.2" text-anchor="start" fill="#222" stroke="#222" stroke-width="0.08" textLength="19" lengthAdjust="spacingAndGlyphs" >28.52%</text>
<rect x="304.70" y="500.30" width="45.50" height="46.00" fill="#fff" stroke="#b8b8b8" stroke-width="0.6"/>
<g clip-path="url(#cpb2)">
<rect x="329.5" y="526.8" width="0.55" height="0.55" fill="#3050ff"/><rect x="308.0" y="542.1" width="0.55" height="0.55" fill="#3050ff"/><rect x="325.4" y="539.1" width="0.55" height="0.55" fill="#3050ff"/><rect x="334.4" y="541.8" width="0.55" height="0.55" fill="#3050ff"/><rect x="317.3" y="512.6" width="0.55" height="0.55" fill="#3050ff"/><rect x="313.4" y="526.8" width="0.55" height="0.55" fill="#3050ff"/><rect x="319.8" y="513.8" width="0.55" height="0.55" fill="#3050ff"/><rect x="310.2" y="531.5" width="0.55" height="0.55" fill="#3050ff"/><rect x="322.8" y="520.4" width="0.55" height="0.55" fill="#3050ff"/><rect x="334.5" y="531.8" width="0.55" height="0.55" fill="#3050ff"/><rect x="306.0" y="522.8" width="0.55" height="0.55" fill="#3050ff"/><rect x="328.3" y="518.6" width="0.55" height="0.55" fill="#3050ff"/><rect x="325.4" y="506.5" width="0.55" height="0.55" fill="#3050ff"/><rect x="313.8" y="540.0" width="0.55" height="0.55" fill="#3050ff"/><rect x="322.3" y="533.0" width="0.55" height="0.55" fill="#3050ff"/><rect x="310.6" y="526.2" width="0.55" height="0.55" fill="#3050ff"/><rect x="321.3" y="516.9" width="0.55" height="0.55" fill="#3050ff"/><rect x="324.1" y="527.6" width="0.55" height="0.55" fill="#3050ff"/><rect x="334.6" y="529.3" width="0.55" height="0.55" fill="#3050ff"/><rect x="317.0" y="511.2" width="0.55" height="0.55" fill="#3050ff"/><rect x="309.4" y="536.7" width="0.55" height="0.55" fill="#3050ff"/><rect x="307.9" y="510.3" width="0.55" height="0.55" fill="#3050ff"/><rect x="309.8" y="527.2" width="0.55" height="0.55" fill="#3050ff"/><rect x="329.4" y="530.8" width="0.55" height="0.55" fill="#3050ff"/><rect x="328.9" y="508.8" width="0.55" height="0.55" fill="#3050ff"/><rect x="305.1" y="537.1" width="0.55" height="0.55" fill="#3050ff"/><rect x="314.4" y="534.9" width="0.55" height="0.55" fill="#3050ff"/><rect x="315.3" y="513.1" width="0.55" height="0.55" fill="#3050ff"/><rect x="312.7" y="510.3" width="0.55" height="0.55" fill="#3050ff"/><rect x="331.8" y="529.6" width="0.55" height="0.55" fill="#3050ff"/><rect x="315.2" y="524.3" width="0.55" height="0.55" fill="#3050ff"/><rect x="316.3" y="508.5" width="0.55" height="0.55" fill="#3050ff"/><rect x="331.4" y="529.6" width="0.55" height="0.55" fill="#3050ff"/><rect x="333.5" y="523.9" width="0.55" height="0.55" fill="#3050ff"/><rect x="323.3" y="516.3" width="0.55" height="0.55" fill="#3050ff"/><rect x="306.0" y="543.5" width="0.55" height="0.55" fill="#3050ff"/><rect x="330.3" y="518.9" width="0.55" height="0.55" fill="#3050ff"/><rect x="331.7" y="538.9" width="0.55" height="0.55" fill="#3050ff"/><rect x="313.8" y="530.4" width="0.55" height="0.55" fill="#3050ff"/><rect x="333.5" y="526.1" width="0.55" height="0.55" fill="#3050ff"/><rect x="333.2" y="516.0" width="0.55" height="0.55" fill="#3050ff"/><rect x="316.4" y="535.0" width="0.55" height="0.55" fill="#3050ff"/><rect x="311.3" y="518.7" width="0.55" height="0.55" fill="#3050ff"/><rect x="331.0" y="525.7" width="0.55" height="0.55" fill="#3050ff"/><rect x="328.5" y="516.0" width="0.55" height="0.55" fill="#3050ff"/><rect x="309.9" y="520.6" width="0.55" height="0.55" fill="#3050ff"/><rect x="310.3" y="545.2" width="0.55" height="0.55" fill="#3050ff"/><rect x="313.4" y="528.8" width="0.55" height="0.55" fill="#3050ff"/><rect x="308.1" y="527.7" width="0.55" height="0.55" fill="#3050ff"/><rect x="316.3" y="522.4" width="0.55" height="0.55" fill="#3050ff"/><rect x="306.7" y="511.2" width="0.55" height="0.55" fill="#3050ff"/><rect x="329.5" y="520.3" width="0.55" height="0.55" fill="#3050ff"/><rect x="312.0" y="513.9" width="0.55" height="0.55" fill="#3050ff"/><rect x="313.2" y="515.8" width="0.55" height="0.55" fill="#3050ff"/><rect x="305.7" y="532.9" width="0.55" height="0.55" fill="#3050ff"/><rect x="314.9" y="512.5" width="0.55" height="0.55" fill="#3050ff"/><rect x="325.9" y="510.0" width="0.55" height="0.55" fill="#3050ff"/><rect x="312.8" y="539.7" width="0.55" height="0.55" fill="#3050ff"/><rect x="308.5" y="524.0" width="0.55" height="0.55" fill="#3050ff"/><rect x="329.8" y="538.5" width="0.55" height="0.55" fill="#3050ff"/><rect x="309.5" y="520.4" width="0.55" height="0.55" fill="#3050ff"/><rect x="326.4" y="521.4" width="0.55" height="0.55" fill="#3050ff"/><rect x="333.5" y="514.6" width="0.55" height="0.55" fill="#3050ff"/><rect x="333.2" y="526.5" width="0.55" height="0.55" fill="#3050ff"/><rect x="311.5" y="524.4" width="0.55" height="0.55" fill="#3050ff"/><rect x="308.6" y="534.6" width="0.55" height="0.55" fill="#3050ff"/><rect x="312.5" y="542.3" width="0.55" height="0.55" fill="#3050ff"/><rect x="322.3" y="521.0" width="0.55" height="0.55" fill="#3050ff"/><rect x="312.1" y="530.6" width="0.55" height="0.55" fill="#3050ff"/><rect x="311.1" y="541.2" width="0.55" height="0.55" fill="#3050ff"/><rect x="308.4" y="526.8" width="0.55" height="0.55" fill="#3050ff"/><rect x="321.0" y="517.1" width="0.55" height="0.55" fill="#3050ff"/><rect x="327.9" y="521.7" width="0.55" height="0.55" fill="#3050ff"/><rect x="324.4" y="529.0" width="0.55" height="0.55" fill="#3050ff"/><rect x="314.0" y="521.9" width="0.55" height="0.55" fill="#3050ff"/><rect x="307.3" y="513.4" width="0.55" height="0.55" fill="#3050ff"/><rect x="330.2" y="519.1" width="0.55" height="0.55" fill="#3050ff"/><rect x="324.6" y="510.7" width="0.55" height="0.55" fill="#3050ff"/><rect x="321.6" y="520.8" width="0.55" height="0.55" fill="#3050ff"/><rect x="319.7" y="518.2" width="0.55" height="0.55" fill="#3050ff"/><rect x="306.7" y="518.8" width="0.55" height="0.55" fill="#3050ff"/><rect x="311.5" y="511.3" width="0.55" height="0.55" fill="#3050ff"/><rect x="326.2" y="517.6" width="0.55" height="0.55" fill="#3050ff"/><rect x="316.8" y="542.7" width="0.55" height="0.55" fill="#3050ff"/><rect x="327.9" y="541.6" width="0.55" height="0.55" fill="#3050ff"/><rect x="330.5" y="511.6" width="0.55" height="0.55" fill="#3050ff"/><rect x="313.0" y="507.5" width="0.55" height="0.55" fill="#3050ff"/><rect x="325.1" y="532.8" width="0.55" height="0.55" fill="#3050ff"/><rect x="315.2" y="522.8" width="0.55" height="0.55" fill="#3050ff"/><rect x="324.5" y="534.3" width="0.55" height="0.55" fill="#3050ff"/>
<rect x="330.9" y="541.1" width="0.55" height="0.55" fill="#3050ff"/><rect x="333.5" y="533.7" width="0.55" height="0.55" fill="#3050ff"/><rect x="329.2" y="516.2" width="0.55" height="0.55" fill="#3050ff"/><rect x="347.5" y="537.3" width="0.55" height="0.55" fill="#3050ff"/><rect x="342.5" y="513.7" width="0.55" height="0.55" fill="#3050ff"/><rect x="325.7" y="517.8" width="0.55" height="0.55" fill="#3050ff"/><rect x="329.7" y="522.6" width="0.55" height="0.55" fill="#3050ff"/><rect x="334.2" y="513.6" width="0.55" height="0.55" fill="#3050ff"/><rect x="332.5" y="534.0" width="0.55" height="0.55" fill="#3050ff"/><rect x="329.2" y="540.8" width="0.55" height="0.55" fill="#3050ff"/><rect x="339.0" y="536.7" width="0.55" height="0.55" fill="#3050ff"/><rect x="331.1" y="527.1" width="0.55" height="0.55" fill="#3050ff"/><rect x="341.8" y="524.2" width="0.55" height="0.55" fill="#3050ff"/><rect x="324.7" y="540.7" width="0.55" height="0.55" fill="#3050ff"/><rect x="344.1" y="522.0" width="0.55" height="0.55" fill="#3050ff"/><rect x="325.8" y="541.3" width="0.55" height="0.55" fill="#3050ff"/><rect x="339.9" y="513.9" width="0.55" height="0.55" fill="#3050ff"/><rect x="330.8" y="516.1" width="0.55" height="0.55" fill="#3050ff"/><rect x="344.5" y="519.4" width="0.55" height="0.55" fill="#3050ff"/><rect x="347.6" y="537.8" width="0.55" height="0.55" fill="#3050ff"/><rect x="326.9" y="535.9" width="0.55" height="0.55" fill="#3050ff"/><rect x="334.5" y="537.7" width="0.55" height="0.55" fill="#3050ff"/><rect x="345.4" y="521.9" width="0.55" height="0.55" fill="#3050ff"/><rect x="326.9" y="544.5" width="0.55" height="0.55" fill="#3050ff"/><rect x="335.3" y="543.9" width="0.55" height="0.55" fill="#3050ff"/><rect x="342.0" y="537.4" width="0.55" height="0.55" fill="#3050ff"/><rect x="345.4" y="533.7" width="0.55" height="0.55" fill="#3050ff"/><rect x="336.0" y="514.1" width="0.55" height="0.55" fill="#3050ff"/><rect x="342.2" y="526.9" width="0.55" height="0.55" fill="#3050ff"/><rect x="337.5" y="543.9" width="0.55" height="0.55" fill="#3050ff"/><rect x="327.9" y="538.2" width="0.55" height="0.55" fill="#3050ff"/><rect x="325.8" y="536.2" width="0.55" height="0.55" fill="#3050ff"/><rect x="344.8" y="521.2" width="0.55" height="0.55" fill="#3050ff"/><rect x="338.4" y="545.3" width="0.55" height="0.55" fill="#3050ff"/><rect x="340.6" y="530.8" width="0.55" height="0.55" fill="#3050ff"/><rect x="330.9" y="514.3" width="0.55" height="0.55" fill="#3050ff"/><rect x="333.6" y="526.3" width="0.55" height="0.55" fill="#3050ff"/><rect x="329.7" y="522.9" width="0.55" height="0.55" fill="#3050ff"/><rect x="328.1" y="536.3" width="0.55" height="0.55" fill="#3050ff"/><rect x="341.5" y="520.4" width="0.55" height="0.55" fill="#3050ff"/><rect x="330.7" y="529.8" width="0.55" height="0.55" fill="#3050ff"/><rect x="335.8" y="544.1" width="0.55" height="0.55" fill="#3050ff"/><rect x="333.5" y="522.5" width="0.55" height="0.55" fill="#3050ff"/><rect x="346.8" y="517.1" width="0.55" height="0.55" fill="#3050ff"/><rect x="338.8" y="523.6" width="0.55" height="0.55" fill="#3050ff"/><rect x="345.1" y="530.9" width="0.55" height="0.55" fill="#3050ff"/><rect x="343.7" y="518.1" width="0.55" height="0.55" fill="#3050ff"/><rect x="341.4" y="532.7" width="0.55" height="0.55" fill="#3050ff"/><rect x="336.2" y="538.3" width="0.55" height="0.55" fill="#3050ff"/><rect x="345.5" y="516.2" width="0.55" height="0.55" fill="#3050ff"/><rect x="331.9" y="524.6" width="0.55" height="0.55" fill="#3050ff"/><rect x="329.9" y="514.4" width="0.55" height="0.55" fill="#3050ff"/><rect x="331.7" y="519.0" width="0.55" height="0.55" fill="#3050ff"/><rect x="342.2" y="527.5" width="0.55" height="0.55" fill="#3050ff"/><rect x="327.5" y="523.3" width="0.55" height="0.55" fill="#3050ff"/><rect x="336.4" y="524.6" width="0.55" height="0.55" fill="#3050ff"/><rect x="328.9" y="514.7" width="0.55" height="0.55" fill="#3050ff"/><rect x="325.0" y="546.0" width="0.55" height="0.55" fill="#3050ff"/><rect x="343.5" y="515.2" width="0.55" height="0.55" fill="#3050ff"/><rect x="342.6" y="545.6" width="0.55" height="0.55" fill="#3050ff"/>
<ellipse cx="321.20" cy="517.30" rx="8" ry="7.5" fill="#0f22ff" opacity="0.45" filter="url(#fb2)"/>
<ellipse cx="321.20" cy="517.60" rx="5" ry="5" fill="#0f22ff" opacity="0.9" filter="url(#fb1)"/>
<path d="M315.70 520.30 L323.70 519.30 L327.70 527.30 L317.70 528.30 Z" fill="#0f22ff" filter="url(#fb1)"/>
<path d="M304.70 526.30 L312.70 523.30 L323.70 522.80 L331.70 526.30 L330.70 534.30 L327.70 541.30 L324.70 546.30 L308.70 546.30 L304.70 542.30 Z" fill="#0f22ff" opacity="0.5" filter="url(#fb2)"/>
<path d="M305.20 528.80 L312.70 525.80 L322.70 524.80 L329.20 527.30 L328.20 533.30 L325.70 540.30 L323.20 545.80 L313.70 545.80 L307.70 543.30 L305.20 537.30 Z" fill="#0f22ff" filter="url(#fb1)"/>
<ellipse cx="318.30" cy="533.10" rx="8" ry="7" fill="url(#rgCyan)"/>
</g>
<rect x="326.20" y="509.30" width="13.5" height="13.7" fill="none" stroke="#666" stroke-width="0.5"/>
<text x="331.00" y="506.60" font-size="6" text-anchor="start" fill="#222" stroke="#222" stroke-width="0.08" textLength="21.5" lengthAdjust="spacingAndGlyphs" >GFP<tspan font-size="4" dy="-2.2">+</tspan><tspan dy="2.2">LSK</tspan></text>
<text x="352.70" y="513.10" font-size="6" text-anchor="end" fill="#222" stroke="#222" stroke-width="0.08" textLength="13.6" lengthAdjust="spacingAndGlyphs" >0.44%</text>
<line x1="328.40" y1="470.70" x2="328.40" y2="504.80" stroke="#111" stroke-width="0.8"/>
<path d="M327.00 503.70 L329.80 503.70 L328.40 506.50 Z" fill="#111"/>
<clipPath id="cpt3"><rect x="354.65000000000003" y="444.8" width="45.5" height="45.5"/></clipPath>
<clipPath id="cpb3"><rect x="354.65000000000003" y="500.3" width="45.5" height="46"/></clipPath>
<text x="354.35" y="438.20" font-size="6.3" text-anchor="start" fill="#1a1a1a" stroke="#1a1a1a" stroke-width="0.08" font-style="italic" textLength="47" lengthAdjust="spacingAndGlyphs" >Anp32b<tspan font-size="4.8" dy="-2.6">−/−</tspan><tspan dy="2.6">p53</tspan><tspan font-size="4.8" dy="-2.6">+/−</tspan></text>
<rect x="354.65" y="444.80" width="45.50" height="45.50" fill="#fff" stroke="#b8b8b8" stroke-width="0.6"/>
<g clip-path="url(#cpt3)">
<path d="M354.65 464.80 L368.65 472.80 L368.65 490.80 L354.65 490.80 Z" fill="#a8acdc" opacity="0.55" filter="url(#fb2)"/>
<rect x="363.7" y="467.6" width="0.55" height="0.55" fill="#4050e0"/><rect x="362.5" y="475.9" width="0.55" height="0.55" fill="#4050e0"/><rect x="357.7" y="478.6" width="0.55" height="0.55" fill="#4050e0"/><rect x="354.8" y="488.2" width="0.55" height="0.55" fill="#4050e0"/><rect x="365.0" y="480.8" width="0.55" height="0.55" fill="#4050e0"/><rect x="369.6" y="481.4" width="0.55" height="0.55" fill="#4050e0"/><rect x="358.7" y="471.1" width="0.55" height="0.55" fill="#4050e0"/><rect x="356.9" y="465.5" width="0.55" height="0.55" fill="#4050e0"/><rect x="367.0" y="486.2" width="0.55" height="0.55" fill="#4050e0"/><rect x="359.4" y="469.5" width="0.55" height="0.55" fill="#4050e0"/><rect x="364.9" y="486.4" width="0.55" height="0.55" fill="#4050e0"/><rect x="369.5" y="469.1" width="0.55" height="0.55" fill="#4050e0"/><rect x="367.2" y="486.0" width="0.55" height="0.55" fill="#4050e0"/><rect x="366.5" y="473.1" width="0.55" height="0.55" fill="#4050e0"/><rect x="357.6" y="485.8" width="0.55" height="0.55" fill="#4050e0"/><rect x="359.8" y="474.2" width="0.55" height="0.55" fill="#4050e0"/><rect x="363.5" y="474.2" width="0.55" height="0.55" fill="#4050e0"/><rect x="368.0" y="470.9" width="0.55" height="0.55" fill="#4050e0"/><rect x="355.3" y="479.3" width="0.55" height="0.55" fill="#4050e0"/><rect x="364.7" y="485.7" width="0.55" height="0.55" fill="#4050e0"/><rect x="365.9" y="487.9" width="0.55" height="0.55" fill="#4050e0"/><rect x="369.8" y="477.4" width="0.55" height="0.55" fill="#4050e0"/><rect x="362.6" y="468.8" width="0.55" height="0.55" fill="#4050e0"/><rect x="359.4" y="479.6" width="0.55" height="0.55" fill="#4050e0"/><rect x="355.9" y="482.3" width="0.55" height="0.55" fill="#4050e0"/><rect x="357.3" y="476.1" width="0.55" height="0.55" fill="#4050e0"/><rect x="370.2" y="467.1" width="0.55" height="0.55" fill="#4050e0"/><rect x="355.3" y="476.0" width="0.55" height="0.55" fill="#4050e0"/><rect x="357.7" y="483.2" width="0.55" height="0.55" fill="#4050e0"/><rect x="354.7" y="486.2" width="0.55" height="0.55" fill="#4050e0"/><rect x="368.3" y="484.9" width="0.55" height="0.55" fill="#4050e0"/><rect x="361.5" y="472.0" width="0.55" height="0.55" fill="#4050e0"/><rect x="365.2" y="477.9" width="0.55" height="0.55" fill="#4050e0"/><rect x="361.4" y="473.4" width="0.55" height="0.55" fill="#4050e0"/><rect x="361.7" y="481.8" width="0.55" height="0.55" fill="#4050e0"/><rect x="367.9" y="487.9" width="0.55" height="0.55" fill="#4050e0"/><rect x="357.3" y="472.3" width="0.55" height="0.55" fill="#4050e0"/><rect x="361.7" y="479.2" width="0.55" height="0.55" fill="#4050e0"/><rect x="360.2" y="469.8" width="0.55" height="0.55" fill="#4050e0"/><rect x="356.0" y="473.1" width="0.55" height="0.55" fill="#4050e0"/><rect x="362.0" y="489.6" width="0.55" height="0.55" fill="#4050e0"/><rect x="369.2" y="486.9" width="0.55" height="0.55" fill="#4050e0"/><rect x="370.2" y="489.3" width="0.55" height="0.55" fill="#4050e0"/><rect x="364.6" y="485.5" width="0.55" height="0.55" fill="#4050e0"/><rect x="355.6" y="482.0" width="0.55" height="0.55" fill="#4050e0"/><rect x="364.4" y="472.4" width="0.55" height="0.55" fill="#4050e0"/><rect x="363.8" y="489.1" width="0.55" height="0.55" fill="#4050e0"/><rect x="362.3" y="481.3" width="0.55" height="0.55" fill="#4050e0"/><rect x="359.4" y="473.6" width="0.55" height="0.55" fill="#4050e0"/><rect x="368.8" y="465.5" width="0.55" height="0.55" fill="#4050e0"/><rect x="357.7" y="482.1" width="0.55" height="0.55" fill="#4050e0"/><rect x="361.8" y="467.0" width="0.55" height="0.55" fill="#4050e0"/><rect x="365.2" y="474.3" width="0.55" height="0.55" fill="#4050e0"/><rect x="363.9" y="475.4" width="0.55" height="0.55" fill="#4050e0"/><rect x="363.1" y="479.2" width="0.55" height="0.55" fill="#4050e0"/><rect x="361.0" y="467.7" width="0.55" height="0.55" fill="#4050e0"/><rect x="357.5" y="487.5" width="0.55" height="0.55" fill="#4050e0"/><rect x="363.4" y="467.7" width="0.55" height="0.55" fill="#4050e0"/><rect x="368.4" y="471.3" width="0.55" height="0.55" fill="#4050e0"/><rect x="356.2" y="478.3" width="0.55" height="0.55" fill="#4050e0"/><rect x="358.7" y="477.3" width="0.55" height="0.55" fill="#4050e0"/><rect x="363.5" y="470.6" width="0.55" height="0.55" fill="#4050e0"/><rect x="363.8" y="467.7" width="0.55" height="0.55" fill="#4050e0"/><rect x="362.9" y="479.8" width="0.55" height="0.55" fill="#4050e0"/><rect x="355.9" y="475.2" width="0.55" height="0.55" fill="#4050e0"/><rect x="355.8" y="476.0" width="0.55" height="0.55" fill="#4050e0"/><rect x="368.5" y="478.8" width="0.55" height="0.55" fill="#4050e0"/><rect x="366.1" y="484.1" width="0.55" height="0.55" fill="#4050e0"/><rect x="356.5" y="490.1" width="0.55" height="0.55" fill="#4050e0"/><rect x="366.2" y="467.4" width="0.55" height="0.55" fill="#4050e0"/><rect x="367.9" y="474.8" width="0.55" height="0.55" fill="#4050e0"/><rect x="357.4" y="489.3" width="0.55" height="0.55" fill="#4050e0"/><rect x="363.7" y="484.6" width="0.55" height="0.55" fill="#4050e0"/><rect x="356.8" y="484.6" width="0.55" height="0.55" fill="#4050e0"/><rect x="355.6" y="470.8" width="0.55" height="0.55" fill="#4050e0"/><rect x="360.6" y="465.2" width="0.55" height="0.55" fill="#4050e0"/><rect x="364.2" y="470.2" width="0.55" height="0.55" fill="#4050e0"/><rect x="359.4" y="482.8" width="0.55" height="0.55" fill="#4050e0"/><rect x="361.5" y="487.5" width="0.55" height="0.55" fill="#4050e0"/><rect x="364.6" y="487.0" width="0.55" height="0.55" fill="#4050e0"/><rect x="363.7" y="488.2" width="0.55" height="0.55" fill="#4050e0"/><rect x="368.6" y="469.1" width="0.55" height="0.55" fill="#4050e0"/><rect x="366.6" y="473.5" width="0.55" height="0.55" fill="#4050e0"/><rect x="366.9" y="482.2" width="0.55" height="0.55" fill="#4050e0"/><rect x="367.9" y="467.9" width="0.55" height="0.55" fill="#4050e0"/><rect x="360.6" y="483.6" width="0.55" height="0.55" fill="#4050e0"/><rect x="369.8" y="483.2" width="0.55" height="0.55" fill="#4050e0"/><rect x="355.3" y="480.2" width="0.55" height="0.55" fill="#4050e0"/><rect x="356.2" y="478.8" width="0.55" height="0.55" fill="#4050e0"/><rect x="367.5" y="467.7" width="0.55" height="0.55" fill="#4050e0"/><rect x="369.5" y="482.0" width="0.55" height="0.55" fill="#4050e0"/><rect x="358.7" y="469.7" width="0.55" height="0.55" fill="#4050e0"/><rect x="361.8" y="486.2" width="0.55" height="0.55" fill="#4050e0"/><rect x="364.0" y="467.7" width="0.55" height="0.55" fill="#4050e0"/><rect x="355.0" y="467.6" width="0.55" height="0.55" fill="#4050e0"/><rect x="367.5" y="469.5" width="0.55" height="0.55" fill="#4050e0"/><rect x="363.5" y="472.2" width="0.55" height="0.55" fill="#4050e0"/><rect x="365.6" y="474.5" width="0.55" height="0.55" fill="#4050e0"/><rect x="357.0" y="487.1" width="0.55" height="0.55" fill="#4050e0"/><rect x="363.3" y="482.4" width="0.55" height="0.55" fill="#4050e0"/><rect x="367.6" y="489.0" width="0.55" height="0.55" fill="#4050e0"/><rect x="354.9" y="473.5" width="0.55" height="0.55" fill="#4050e0"/><rect x="357.1" y="477.6" width="0.55" height="0.55" fill="#4050e0"/><rect x="368.6" y="485.2" width="0.55" height="0.55" fill="#4050e0"/><rect x="355.2" y="469.4" width="0.55" height="0.55" fill="#4050e0"/><rect x="367.7" y="482.1" width="0.55" height="0.55" fill="#4050e0"/><rect x="360.9" y="476.9" width="0.55" height="0.55" fill="#4050e0"/><rect x="357.2" y="486.4" width="0.55" height="0.55" fill="#4050e0"/><rect x="360.9" y="487.1" width="0.55" height="0.55" fill="#4050e0"/><rect x="364.4" y="466.7" width="0.55" height="0.55" fill="#4050e0"/>
<rect x="389.6" y="458.5" width="0.55" height="0.55" fill="#3050ff"/><rect x="398.1" y="473.4" width="0.55" height="0.55" fill="#3050ff"/><rect x="385.3" y="456.6" width="0.55" height="0.55" fill="#3050ff"/><rect x="390.1" y="468.5" width="0.55" height="0.55" fill="#3050ff"/><rect x="393.3" y="465.3" width="0.55" height="0.55" fill="#3050ff"/><rect x="390.0" y="450.0" width="0.55" height="0.55" fill="#3050ff"/><rect x="393.3" y="463.2" width="0.55" height="0.55" fill="#3050ff"/><rect x="385.0" y="468.2" width="0.55" height="0.55" fill="#3050ff"/><rect x="399.4" y="451.6" width="0.55" height="0.55" fill="#3050ff"/><rect x="386.8" y="476.6" width="0.55" height="0.55" fill="#3050ff"/><rect x="388.7" y="460.7" width="0.55" height="0.55" fill="#3050ff"/><rect x="392.2" y="460.3" width="0.55" height="0.55" fill="#3050ff"/><rect x="393.2" y="470.9" width="0.55" height="0.55" fill="#3050ff"/><rect x="399.0" y="489.5" width="0.55" height="0.55" fill="#3050ff"/><rect x="385.2" y="472.2" width="0.55" height="0.55" fill="#3050ff"/><rect x="396.2" y="484.7" width="0.55" height="0.55" fill="#3050ff"/><rect x="396.3" y="475.1" width="0.55" height="0.55" fill="#3050ff"/><rect x="394.2" y="464.3" width="0.55" height="0.55" fill="#3050ff"/><rect x="388.9" y="481.6" width="0.55" height="0.55" fill="#3050ff"/><rect x="397.7" y="487.3" width="0.55" height="0.55" fill="#3050ff"/><rect x="394.9" y="462.0" width="0.55" height="0.55" fill="#3050ff"/><rect x="396.1" y="479.4" width="0.55" height="0.55" fill="#3050ff"/><rect x="392.3" y="475.2" width="0.55" height="0.55" fill="#3050ff"/><rect x="389.9" y="471.8" width="0.55" height="0.55" fill="#3050ff"/><rect x="390.7" y="452.2" width="0.55" height="0.55" fill="#3050ff"/><rect x="389.7" y="462.7" width="0.55" height="0.55" fill="#3050ff"/><rect x="399.5" y="469.1" width="0.55" height="0.55" fill="#3050ff"/><rect x="390.2" y="459.5" width="0.55" height="0.55" fill="#3050ff"/><rect x="388.2" y="463.8" width="0.55" height="0.55" fill="#3050ff"/><rect x="386.7" y="450.1" width="0.55" height="0.55" fill="#3050ff"/><rect x="397.7" y="467.9" width="0.55" height="0.55" fill="#3050ff"/><rect x="391.3" y="472.5" width="0.55" height="0.55" fill="#3050ff"/><rect x="389.2" y="456.6" width="0.55" height="0.55" fill="#3050ff"/><rect x="385.6" y="461.9" width="0.55" height="0.55" fill="#3050ff"/><rect x="389.3" y="478.9" width="0.55" height="0.55" fill="#3050ff"/><rect x="392.9" y="487.3" width="0.55" height="0.55" fill="#3050ff"/><rect x="389.8" y="486.6" width="0.55" height="0.55" fill="#3050ff"/><rect x="393.4" y="453.0" width="0.55" height="0.55" fill="#3050ff"/><rect x="387.3" y="473.0" width="0.55" height="0.55" fill="#3050ff"/><rect x="399.5" y="464.1" width="0.55" height="0.55" fill="#3050ff"/><rect x="396.3" y="466.9" width="0.55" height="0.55" fill="#3050ff"/><rect x="397.7" y="452.5" width="0.55" height="0.55" fill="#3050ff"/><rect x="391.9" y="485.8" width="0.55" height="0.55" fill="#3050ff"/><rect x="388.8" y="460.1" width="0.55" height="0.55" fill="#3050ff"/><rect x="385.0" y="456.4" width="0.55" height="0.55" fill="#3050ff"/><rect x="388.7" y="478.0" width="0.55" height="0.55" fill="#3050ff"/><rect x="387.9" y="465.8" width="0.55" height="0.55" fill="#3050ff"/><rect x="387.7" y="473.9" width="0.55" height="0.55" fill="#3050ff"/><rect x="397.6" y="475.7" width="0.55" height="0.55" fill="#3050ff"/><rect x="387.6" y="479.2" width="0.55" height="0.55" fill="#3050ff"/>
<rect x="383.5" y="462.8" width="0.55" height="0.55" fill="#6070ff"/><rect x="357.0" y="464.9" width="0.55" height="0.55" fill="#6070ff"/><rect x="380.9" y="460.2" width="0.55" height="0.55" fill="#6070ff"/><rect x="358.7" y="458.7" width="0.55" height="0.55" fill="#6070ff"/><rect x="370.8" y="465.6" width="0.55" height="0.55" fill="#6070ff"/><rect x="373.8" y="466.0" width="0.55" height="0.55" fill="#6070ff"/><rect x="361.0" y="460.1" width="0.55" height="0.55" fill="#6070ff"/><rect x="377.1" y="463.3" width="0.55" height="0.55" fill="#6070ff"/><rect x="366.8" y="463.6" width="0.55" height="0.55" fill="#6070ff"/><rect x="364.8" y="457.4" width="0.55" height="0.55" fill="#6070ff"/><rect x="367.1" y="457.3" width="0.55" height="0.55" fill="#6070ff"/><rect x="373.4" y="460.1" width="0.55" height="0.55" fill="#6070ff"/><rect x="369.5" y="462.8" width="0.55" height="0.55" fill="#6070ff"/><rect x="362.4" y="461.4" width="0.55" height="0.55" fill="#6070ff"/><rect x="355.1" y="466.1" width="0.55" height="0.55" fill="#6070ff"/><rect x="371.6" y="466.7" width="0.55" height="0.55" fill="#6070ff"/><rect x="356.3" y="462.9" width="0.55" height="0.55" fill="#6070ff"/><rect x="376.4" y="460.1" width="0.55" height="0.55" fill="#6070ff"/><rect x="357.5" y="458.4" width="0.55" height="0.55" fill="#6070ff"/><rect x="358.9" y="464.5" width="0.55" height="0.55" fill="#6070ff"/><rect x="357.3" y="464.9" width="0.55" height="0.55" fill="#6070ff"/><rect x="367.3" y="462.2" width="0.55" height="0.55" fill="#6070ff"/><rect x="372.3" y="462.3" width="0.55" height="0.55" fill="#6070ff"/><rect x="374.4" y="462.8" width="0.55" height="0.55" fill="#6070ff"/><rect x="364.6" y="464.2" width="0.55" height="0.55" fill="#6070ff"/>
<path d="M354.65 459.80 L369.65 455.80 L382.65 448.80 L388.65 445.30 L391.65 446.80 L394.65 454.80 L395.65 470.80 L393.65 480.80 L388.65 488.80 L384.65 490.80 L364.65 490.80 L363.65 480.80 L364.65 474.80 L354.65 471.80 Z" fill="#0f22ff" opacity="0.45" filter="url(#fb2)"/>
<path d="M356.65 462.30 L363.65 459.80 L370.65 457.60 L376.65 454.80 L382.65 450.80 L388.15 446.80 L390.65 448.30 L392.65 454.80 L393.95 462.80 L393.95 470.80 L392.15 478.30 L388.15 485.30 L383.65 490.30 L367.65 490.30 L365.65 482.80 L366.65 475.80 L360.65 472.80 L356.65 470.80 Z" fill="#0f22ff" filter="url(#fb1)"/>
<ellipse cx="377.65" cy="465.80" rx="7.5" ry="12.5" fill="url(#rgCyan)" opacity="0.95"/>
<ellipse cx="383.65" cy="454.80" rx="3" ry="6" transform="rotate(35 383.65 454.80)" fill="url(#rgCyan)" opacity="0.8"/>
<ellipse cx="377.95" cy="462.30" rx="6" ry="7.5" fill="url(#rgCore)"/>
</g>
<rect x="354.95" y="445.10" width="26.4" height="25.6" fill="none" stroke="#555" stroke-width="0.5"/>
<text x="356.65" y="451.20" font-size="6.2" text-anchor="start" fill="#222" stroke="#222" stroke-width="0.08" textLength="21.5" lengthAdjust="spacingAndGlyphs" >GFP<tspan font-size="4" dy="-2.2">+</tspan><tspan dy="2.2">Lin</tspan><tspan font-size="4" dy="-2.2">−</tspan></text>
<text x="356.65" y="457.20" font-size="6.2" text-anchor="start" fill="#222" stroke="#222" stroke-width="0.08" textLength="19" lengthAdjust="spacingAndGlyphs" >29.66%</text>
<rect x="354.65" y="500.30" width="45.50" height="46.00" fill="#fff" stroke="#b8b8b8" stroke-width="0.6"/>
<g clip-path="url(#cpb3)">
<rect x="362.4" y="534.8" width="0.55" height="0.55" fill="#3050ff"/><rect x="377.5" y="537.3" width="0.55" height="0.55" fill="#3050ff"/><rect x="363.9" y="537.2" width="0.55" height="0.55" fill="#3050ff"/><rect x="384.0" y="524.4" width="0.55" height="0.55" fill="#3050ff"/><rect x="363.0" y="527.2" width="0.55" height="0.55" fill="#3050ff"/><rect x="382.9" y="511.6" width="0.55" height="0.55" fill="#3050ff"/><rect x="354.9" y="525.3" width="0.55" height="0.55" fill="#3050ff"/><rect x="374.3" y="537.3" width="0.55" height="0.55" fill="#3050ff"/><rect x="365.5" y="545.9" width="0.55" height="0.55" fill="#3050ff"/><rect x="361.5" y="536.6" width="0.55" height="0.55" fill="#3050ff"/><rect x="357.3" y="507.4" width="0.55" height="0.55" fill="#3050ff"/><rect x="358.7" y="508.7" width="0.55" height="0.55" fill="#3050ff"/><rect x="369.7" y="528.5" width="0.55" height="0.55" fill="#3050ff"/><rect x="360.1" y="543.9" width="0.55" height="0.55" fill="#3050ff"/><rect x="365.6" y="512.3" width="0.55" height="0.55" fill="#3050ff"/><rect x="360.0" y="535.8" width="0.55" height="0.55" fill="#3050ff"/><rect x="382.3" y="512.8" width="0.55" height="0.55" fill="#3050ff"/><rect x="355.5" y="537.4" width="0.55" height="0.55" fill="#3050ff"/><rect x="361.9" y="545.6" width="0.55" height="0.55" fill="#3050ff"/><rect x="369.6" y="531.7" width="0.55" height="0.55" fill="#3050ff"/><rect x="365.0" y="538.3" width="0.55" height="0.55" fill="#3050ff"/><rect x="368.5" y="519.3" width="0.55" height="0.55" fill="#3050ff"/><rect x="381.8" y="510.6" width="0.55" height="0.55" fill="#3050ff"/><rect x="376.7" y="508.9" width="0.55" height="0.55" fill="#3050ff"/><rect x="374.0" y="522.4" width="0.55" height="0.55" fill="#3050ff"/><rect x="380.6" y="508.7" width="0.55" height="0.55" fill="#3050ff"/><rect x="371.6" y="522.7" width="0.55" height="0.55" fill="#3050ff"/><rect x="382.2" y="544.1" width="0.55" height="0.55" fill="#3050ff"/><rect x="373.5" y="515.3" width="0.55" height="0.55" fill="#3050ff"/><rect x="362.2" y="516.8" width="0.55" height="0.55" fill="#3050ff"/><rect x="367.7" y="515.6" width="0.55" height="0.55" fill="#3050ff"/><rect x="360.7" y="536.7" width="0.55" height="0.55" fill="#3050ff"/><rect x="373.9" y="518.2" width="0.55" height="0.55" fill="#3050ff"/><rect x="384.5" y="515.0" width="0.55" height="0.55" fill="#3050ff"/><rect x="371.7" y="512.6" width="0.55" height="0.55" fill="#3050ff"/><rect x="380.5" y="541.1" width="0.55" height="0.55" fill="#3050ff"/><rect x="362.7" y="536.4" width="0.55" height="0.55" fill="#3050ff"/><rect x="379.3" y="517.6" width="0.55" height="0.55" fill="#3050ff"/><rect x="364.6" y="525.7" width="0.55" height="0.55" fill="#3050ff"/><rect x="381.4" y="512.8" width="0.55" height="0.55" fill="#3050ff"/><rect x="375.1" y="530.2" width="0.55" height="0.55" fill="#3050ff"/><rect x="368.2" y="529.5" width="0.55" height="0.55" fill="#3050ff"/><rect x="381.1" y="514.7" width="0.55" height="0.55" fill="#3050ff"/><rect x="381.2" y="520.7" width="0.55" height="0.55" fill="#3050ff"/><rect x="378.0" y="540.8" width="0.55" height="0.55" fill="#3050ff"/><rect x="360.1" y="540.9" width="0.55" height="0.55" fill="#3050ff"/><rect x="384.5" y="518.2" width="0.55" height="0.55" fill="#3050ff"/><rect x="355.4" y="510.8" width="0.55" height="0.55" fill="#3050ff"/><rect x="383.9" y="506.7" width="0.55" height="0.55" fill="#3050ff"/><rect x="382.0" y="512.3" width="0.55" height="0.55" fill="#3050ff"/><rect x="376.7" y="510.2" width="0.55" height="0.55" fill="#3050ff"/><rect x="359.7" y="533.6" width="0.55" height="0.55" fill="#3050ff"/><rect x="357.4" y="519.9" width="0.55" height="0.55" fill="#3050ff"/><rect x="382.2" y="535.0" width="0.55" height="0.55" fill="#3050ff"/><rect x="381.1" y="545.5" width="0.55" height="0.55" fill="#3050ff"/><rect x="355.6" y="515.7" width="0.55" height="0.55" fill="#3050ff"/><rect x="378.4" y="533.9" width="0.55" height="0.55" fill="#3050ff"/><rect x="355.8" y="526.5" width="0.55" height="0.55" fill="#3050ff"/><rect x="361.6" y="523.5" width="0.55" height="0.55" fill="#3050ff"/><rect x="357.8" y="507.1" width="0.55" height="0.55" fill="#3050ff"/><rect x="384.4" y="519.0" width="0.55" height="0.55" fill="#3050ff"/><rect x="381.0" y="511.1" width="0.55" height="0.55" fill="#3050ff"/><rect x="369.3" y="511.7" width="0.55" height="0.55" fill="#3050ff"/><rect x="367.5" y="513.5" width="0.55" height="0.55" fill="#3050ff"/><rect x="375.2" y="512.2" width="0.55" height="0.55" fill="#3050ff"/><rect x="376.8" y="526.3" width="0.55" height="0.55" fill="#3050ff"/><rect x="358.0" y="520.4" width="0.55" height="0.55" fill="#3050ff"/><rect x="369.5" y="543.0" width="0.55" height="0.55" fill="#3050ff"/><rect x="365.1" y="514.9" width="0.55" height="0.55" fill="#3050ff"/><rect x="383.7" y="541.6" width="0.55" height="0.55" fill="#3050ff"/><rect x="376.6" y="517.2" width="0.55" height="0.55" fill="#3050ff"/><rect x="360.0" y="516.9" width="0.55" height="0.55" fill="#3050ff"/><rect x="356.7" y="508.0" width="0.55" height="0.55" fill="#3050ff"/><rect x="369.9" y="522.6" width="0.55" height="0.55" fill="#3050ff"/><rect x="371.3" y="520.8" width="0.55" height="0.55" fill="#3050ff"/><rect x="355.0" y="533.8" width="0.55" height="0.55" fill="#3050ff"/><rect x="374.2" y="528.1" width="0.55" height="0.55" fill="#3050ff"/><rect x="371.1" y="533.9" width="0.55" height="0.55" fill="#3050ff"/><rect x="384.1" y="541.3" width="0.55" height="0.55" fill="#3050ff"/><rect x="376.2" y="522.3" width="0.55" height="0.55" fill="#3050ff"/><rect x="364.2" y="523.1" width="0.55" height="0.55" fill="#3050ff"/><rect x="383.8" y="521.8" width="0.55" height="0.55" fill="#3050ff"/><rect x="366.2" y="522.7" width="0.55" height="0.55" fill="#3050ff"/><rect x="358.9" y="546.2" width="0.55" height="0.55" fill="#3050ff"/><rect x="354.8" y="530.6" width="0.55" height="0.55" fill="#3050ff"/><rect x="382.4" y="516.5" width="0.55" height="0.55" fill="#3050ff"/><rect x="373.0" y="521.4" width="0.55" height="0.55" fill="#3050ff"/><rect x="361.9" y="514.2" width="0.55" height="0.55" fill="#3050ff"/><rect x="358.1" y="540.0" width="0.55" height="0.55" fill="#3050ff"/><rect x="378.2" y="542.6" width="0.55" height="0.55" fill="#3050ff"/>
<rect x="375.9" y="535.9" width="0.55" height="0.55" fill="#3050ff"/><rect x="382.8" y="534.3" width="0.55" height="0.55" fill="#3050ff"/><rect x="388.4" y="523.0" width="0.55" height="0.55" fill="#3050ff"/><rect x="398.9" y="512.3" width="0.55" height="0.55" fill="#3050ff"/><rect x="393.3" y="541.3" width="0.55" height="0.55" fill="#3050ff"/><rect x="387.4" y="532.4" width="0.55" height="0.55" fill="#3050ff"/><rect x="399.5" y="520.3" width="0.55" height="0.55" fill="#3050ff"/><rect x="390.4" y="537.6" width="0.55" height="0.55" fill="#3050ff"/><rect x="384.1" y="536.5" width="0.55" height="0.55" fill="#3050ff"/><rect x="384.5" y="530.2" width="0.55" height="0.55" fill="#3050ff"/><rect x="390.0" y="535.3" width="0.55" height="0.55" fill="#3050ff"/><rect x="382.7" y="533.7" width="0.55" height="0.55" fill="#3050ff"/><rect x="388.2" y="519.9" width="0.55" height="0.55" fill="#3050ff"/><rect x="390.0" y="521.3" width="0.55" height="0.55" fill="#3050ff"/><rect x="397.4" y="528.4" width="0.55" height="0.55" fill="#3050ff"/><rect x="392.7" y="530.0" width="0.55" height="0.55" fill="#3050ff"/><rect x="386.6" y="519.8" width="0.55" height="0.55" fill="#3050ff"/><rect x="378.2" y="543.8" width="0.55" height="0.55" fill="#3050ff"/><rect x="387.9" y="530.1" width="0.55" height="0.55" fill="#3050ff"/><rect x="387.8" y="540.0" width="0.55" height="0.55" fill="#3050ff"/><rect x="380.6" y="518.2" width="0.55" height="0.55" fill="#3050ff"/><rect x="395.2" y="528.0" width="0.55" height="0.55" fill="#3050ff"/><rect x="390.7" y="540.4" width="0.55" height="0.55" fill="#3050ff"/><rect x="397.0" y="541.8" width="0.55" height="0.55" fill="#3050ff"/><rect x="375.7" y="525.3" width="0.55" height="0.55" fill="#3050ff"/><rect x="395.5" y="540.1" width="0.55" height="0.55" fill="#3050ff"/><rect x="377.7" y="517.5" width="0.55" height="0.55" fill="#3050ff"/><rect x="380.9" y="515.8" width="0.55" height="0.55" fill="#3050ff"/><rect x="383.6" y="539.6" width="0.55" height="0.55" fill="#3050ff"/><rect x="387.7" y="527.7" width="0.55" height="0.55" fill="#3050ff"/><rect x="376.9" y="525.7" width="0.55" height="0.55" fill="#3050ff"/><rect x="399.6" y="535.9" width="0.55" height="0.55" fill="#3050ff"/><rect x="385.9" y="528.6" width="0.55" height="0.55" fill="#3050ff"/><rect x="394.6" y="538.1" width="0.55" height="0.55" fill="#3050ff"/><rect x="378.4" y="535.4" width="0.55" height="0.55" fill="#3050ff"/><rect x="383.8" y="530.0" width="0.55" height="0.55" fill="#3050ff"/><rect x="380.6" y="524.9" width="0.55" height="0.55" fill="#3050ff"/><rect x="383.2" y="525.3" width="0.55" height="0.55" fill="#3050ff"/><rect x="375.1" y="519.1" width="0.55" height="0.55" fill="#3050ff"/><rect x="388.9" y="514.3" width="0.55" height="0.55" fill="#3050ff"/><rect x="379.1" y="536.7" width="0.55" height="0.55" fill="#3050ff"/><rect x="381.5" y="523.3" width="0.55" height="0.55" fill="#3050ff"/><rect x="380.7" y="540.7" width="0.55" height="0.55" fill="#3050ff"/><rect x="376.9" y="533.9" width="0.55" height="0.55" fill="#3050ff"/><rect x="396.1" y="519.2" width="0.55" height="0.55" fill="#3050ff"/><rect x="385.2" y="539.2" width="0.55" height="0.55" fill="#3050ff"/><rect x="390.1" y="524.9" width="0.55" height="0.55" fill="#3050ff"/><rect x="375.7" y="527.3" width="0.55" height="0.55" fill="#3050ff"/><rect x="383.8" y="536.5" width="0.55" height="0.55" fill="#3050ff"/><rect x="382.0" y="526.2" width="0.55" height="0.55" fill="#3050ff"/><rect x="390.9" y="539.9" width="0.55" height="0.55" fill="#3050ff"/><rect x="383.5" y="525.4" width="0.55" height="0.55" fill="#3050ff"/><rect x="389.1" y="543.7" width="0.55" height="0.55" fill="#3050ff"/><rect x="379.4" y="545.3" width="0.55" height="0.55" fill="#3050ff"/><rect x="392.4" y="525.0" width="0.55" height="0.55" fill="#3050ff"/><rect x="391.3" y="523.5" width="0.55" height="0.55" fill="#3050ff"/><rect x="376.4" y="538.0" width="0.55" height="0.55" fill="#3050ff"/><rect x="384.1" y="530.2" width="0.55" height="0.55" fill="#3050ff"/><rect x="387.1" y="542.9" width="0.55" height="0.55" fill="#3050ff"/><rect x="393.6" y="513.2" width="0.55" height="0.55" fill="#3050ff"/>
<ellipse cx="371.15" cy="517.30" rx="8" ry="7.5" fill="#0f22ff" opacity="0.45" filter="url(#fb2)"/>
<ellipse cx="371.15" cy="517.60" rx="5" ry="5" fill="#0f22ff" opacity="0.9" filter="url(#fb1)"/>
<path d="M365.65 520.30 L373.65 519.30 L377.65 527.30 L367.65 528.30 Z" fill="#0f22ff" filter="url(#fb1)"/>
<path d="M354.65 526.30 L362.65 523.30 L373.65 522.80 L381.65 526.30 L380.65 534.30 L377.65 541.30 L374.65 546.30 L358.65 546.30 L354.65 542.30 Z" fill="#0f22ff" opacity="0.5" filter="url(#fb2)"/>
<path d="M355.15 528.80 L362.65 525.80 L372.65 524.80 L379.15 527.30 L378.15 533.30 L375.65 540.30 L373.15 545.80 L363.65 545.80 L357.65 543.30 L355.15 537.30 Z" fill="#0f22ff" filter="url(#fb1)"/>
<ellipse cx="368.25" cy="533.10" rx="8" ry="7" fill="url(#rgCyan)"/>
</g>
<rect x="376.15" y="509.30" width="13.5" height="13.7" fill="none" stroke="#666" stroke-width="0.5"/>
<text x="380.95" y="506.60" font-size="6" text-anchor="start" fill="#222" stroke="#222" stroke-width="0.08" textLength="21.5" lengthAdjust="spacingAndGlyphs" >GFP<tspan font-size="4" dy="-2.2">+</tspan><tspan dy="2.2">LSK</tspan></text>
<text x="402.65" y="513.10" font-size="6" text-anchor="end" fill="#222" stroke="#222" stroke-width="0.08" textLength="13.6" lengthAdjust="spacingAndGlyphs" >0.35%</text>
<line x1="378.35" y1="470.70" x2="378.35" y2="504.80" stroke="#111" stroke-width="0.8"/>
<path d="M376.95 503.70 L379.75 503.70 L378.35 506.50 Z" fill="#111"/>
<polyline points="199.10,469.00 199.10,494.20 362.00,494.20" stroke="#111" stroke-width="1.1" fill="none" />
<path d="M199.1 466.6 L197.3 470.6 L200.9 470.6 Z" fill="#111"/>
<path d="M365 494.2 L361 492.4 L361 496 Z" fill="#111"/>
<polyline points="199.10,526.50 199.10,550.60 364.50,550.60" stroke="#111" stroke-width="1.1" fill="none" />
<path d="M199.1 524 L197.3 528 L200.9 528 Z" fill="#111"/>
<path d="M367.3 550.6 L363.3 548.8 L363.3 552.4 Z" fill="#111"/>
<text x="201.70" y="457.30" font-size="7.4" text-anchor="middle" fill="#1a1a1a" stroke="#1a1a1a" stroke-width="0.18" textLength="12.6" lengthAdjust="spacingAndGlyphs" transform="rotate(-90 201.70 457.30)" >GFP</text>
<text x="201.70" y="514.30" font-size="7.4" text-anchor="middle" fill="#1a1a1a" stroke="#1a1a1a" stroke-width="0.18" textLength="13.4" lengthAdjust="spacingAndGlyphs" transform="rotate(-90 201.70 514.30)" >c-Kit</text>
<text x="368.40" y="496.80" font-size="7.6" text-anchor="start" fill="#1a1a1a" stroke="#1a1a1a" stroke-width="0.18" textLength="25.6" lengthAdjust="spacingAndGlyphs" >Lineage</text>
<text x="370.20" y="553.40" font-size="7.6" text-anchor="start" fill="#1a1a1a" stroke="#1a1a1a" stroke-width="0.18" textLength="17.8" lengthAdjust="spacingAndGlyphs" >Sca-1</text>
<text x="203.20" y="426.80" font-size="7" text-anchor="start" fill="#000" font-weight="bold" stroke="#000" stroke-width="0.4">i</text>
<text x="419.20" y="427.40" font-size="7.2" text-anchor="start" fill="#000" font-weight="bold" textLength="4.2" lengthAdjust="spacingAndGlyphs" stroke="#000" stroke-width="0.4">ii</text>
<line x1="447.60" y1="453.60" x2="447.60" y2="546.90" stroke="#1a1a1a" stroke-width="1.1"/>
<line x1="447.10" y1="546.40" x2="510.40" y2="546.40" stroke="#1a1a1a" stroke-width="1.1"/>
<line x1="445.00" y1="454.00" x2="447.60" y2="454.00" stroke="#1a1a1a" stroke-width="0.9"/>
<text x="441.00" y="456.60" font-size="7.4" text-anchor="end" fill="#1a1a1a" stroke="#1a1a1a" stroke-width="0.18" >0.20</text>
<line x1="445.00" y1="477.10" x2="447.60" y2="477.10" stroke="#1a1a1a" stroke-width="0.9"/>
<text x="441.00" y="479.70" font-size="7.4" text-anchor="end" fill="#1a1a1a" stroke="#1a1a1a" stroke-width="0.18" >0.15</text>
<line x1="445.00" y1="500.20" x2="447.60" y2="500.20" stroke="#1a1a1a" stroke-width="0.9"/>
<text x="441.00" y="502.80" font-size="7.4" text-anchor="end" fill="#1a1a1a" stroke="#1a1a1a" stroke-width="0.18" >0.10</text>
<line x1="445.00" y1="523.30" x2="447.60" y2="523.30" stroke="#1a1a1a" stroke-width="0.9"/>
<text x="441.00" y="525.90" font-size="7.4" text-anchor="end" fill="#1a1a1a" stroke="#1a1a1a" stroke-width="0.18" >0.05</text>
<line x1="445.00" y1="546.40" x2="447.60" y2="546.40" stroke="#1a1a1a" stroke-width="0.9"/>
<text x="441.00" y="549.00" font-size="7.4" text-anchor="end" fill="#1a1a1a" stroke="#1a1a1a" stroke-width="0.18" >0</text>
<rect x="453.70" y="490.04" width="9.00" height="56.36" fill="#e07b8e" />
<line x1="458.20" y1="490.04" x2="458.20" y2="485.42" stroke="#111" stroke-width="0.9"/>
<line x1="456.00" y1="485.42" x2="460.40" y2="485.42" stroke="#111" stroke-width="0.9"/>
<circle cx="458.20" cy="477.10" r="1.3" fill="#e04468" stroke="#cf1440" stroke-width="0.7"/>
<circle cx="455.20" cy="490.96" r="1.3" fill="#e04468" stroke="#cf1440" stroke-width="0.7"/>
<circle cx="461.20" cy="490.96" r="1.3" fill="#e04468" stroke="#cf1440" stroke-width="0.7"/>
<circle cx="458.20" cy="495.58" r="1.3" fill="#e04468" stroke="#cf1440" stroke-width="0.7"/>
<circle cx="458.20" cy="488.65" r="1.3" fill="#e04468" stroke="#cf1440" stroke-width="0.7"/>
<rect x="467.50" y="523.76" width="8.70" height="22.64" fill="#83a4c4" />
<line x1="471.85" y1="523.76" x2="471.85" y2="522.38" stroke="#111" stroke-width="0.9"/>
<line x1="469.65" y1="522.38" x2="474.05" y2="522.38" stroke="#111" stroke-width="0.9"/>
<circle cx="471.80" cy="518.68" r="1.3" fill="#e04468" stroke="#cf1440" stroke-width="0.7"/>
<circle cx="468.50" cy="523.30" r="1.3" fill="#e04468" stroke="#cf1440" stroke-width="0.7"/>
<circle cx="470.70" cy="523.30" r="1.3" fill="#e04468" stroke="#cf1440" stroke-width="0.7"/>
<circle cx="472.90" cy="523.30" r="1.3" fill="#e04468" stroke="#cf1440" stroke-width="0.7"/>
<circle cx="475.10" cy="523.30" r="1.3" fill="#e04468" stroke="#cf1440" stroke-width="0.7"/>
<rect x="481.20" y="495.58" width="8.40" height="50.82" fill="#98d9a2" />
<line x1="485.40" y1="495.58" x2="485.40" y2="490.96" stroke="#111" stroke-width="0.9"/>
<line x1="483.20" y1="490.96" x2="487.60" y2="490.96" stroke="#111" stroke-width="0.9"/>
<circle cx="485.40" cy="481.72" r="1.3" fill="#e04468" stroke="#cf1440" stroke-width="0.7"/>
<circle cx="485.40" cy="493.27" r="1.3" fill="#e04468" stroke="#cf1440" stroke-width="0.7"/>
<circle cx="485.40" cy="500.20" r="1.3" fill="#e04468" stroke="#cf1440" stroke-width="0.7"/>
<circle cx="485.40" cy="507.13" r="1.3" fill="#e04468" stroke="#cf1440" stroke-width="0.7"/>
<rect x="495.00" y="501.12" width="8.70" height="45.28" fill="#a78dbb" />
<line x1="499.35" y1="501.12" x2="499.35" y2="499.28" stroke="#111" stroke-width="0.9"/>
<line x1="497.15" y1="499.28" x2="501.55" y2="499.28" stroke="#111" stroke-width="0.9"/>
<circle cx="501.50" cy="497.89" r="1.3" fill="#e04468" stroke="#cf1440" stroke-width="0.7"/>
<circle cx="496.50" cy="501.12" r="1.3" fill="#e04468" stroke="#cf1440" stroke-width="0.7"/>
<circle cx="496.50" cy="502.97" r="1.3" fill="#e04468" stroke="#cf1440" stroke-width="0.7"/>
<line x1="477.70" y1="546.40" x2="477.70" y2="548.80" stroke="#1a1a1a" stroke-width="0.9"/>
<text x="478.20" y="556.00" font-size="7.8" text-anchor="middle" fill="#1a1a1a" stroke="#1a1a1a" stroke-width="0.18" textLength="32.5" lengthAdjust="spacingAndGlyphs" >GFP<tspan font-size="5" dy="-3">+</tspan><tspan dy="3">LSK</tspan></text>
<text x="418.60" y="511.00" font-size="8.6" text-anchor="middle" fill="#1a1a1a" stroke="#1a1a1a" stroke-width="0.18" textLength="44.8" lengthAdjust="spacingAndGlyphs" transform="rotate(-90 418.60 511.00)" >BM cells (%)</text>
<polyline points="452.60,458.80 452.60,455.80 504.60,455.80 504.60,458.80" stroke="#333" stroke-width="0.8" fill="none" />
<line x1="488.60" y1="455.80" x2="488.60" y2="458.80" stroke="#333" stroke-width="0.8"/>
<polyline points="452.60,472.00 452.60,469.00 472.50,469.00 472.50,472.00" stroke="#333" stroke-width="0.8" fill="none" />
<polyline points="467.60,481.50 467.60,478.50 504.60,478.50 504.60,481.50" stroke="#333" stroke-width="0.8" fill="none" />
<line x1="488.60" y1="478.50" x2="488.60" y2="481.50" stroke="#333" stroke-width="0.8"/>
<text x="481.30" y="453.90" font-size="6.6" text-anchor="middle" fill="#1a1a1a" stroke="#1a1a1a" stroke-width="0.08" textLength="22" lengthAdjust="spacingAndGlyphs" ><tspan font-style="italic">P</tspan>=0.001</text>
<text x="464.30" y="466.40" font-size="6.6" text-anchor="middle" fill="#1a1a1a" stroke="#1a1a1a" stroke-width="0.08" textLength="26.6" lengthAdjust="spacingAndGlyphs" ><tspan font-style="italic">P</tspan>&lt;0.0001</text>
<text x="488.50" y="476.30" font-size="6.6" text-anchor="middle" fill="#1a1a1a" stroke="#1a1a1a" stroke-width="0.08" textLength="26.3" lengthAdjust="spacingAndGlyphs" ><tspan font-style="italic">P</tspan>&lt;0.0001</text>
<rect x="442.30" y="409.60" width="7.90" height="3.80" fill="#e07b8e" />
<text x="453.20" y="414.40" font-size="8" text-anchor="start" fill="#333" stroke="#333" stroke-width="0.18" font-style="italic" textLength="55.8" lengthAdjust="spacingAndGlyphs" >Anp32b<tspan font-size="5.2" dy="-3.2">+/+</tspan><tspan dy="3.2">p53</tspan><tspan font-size="5.2" dy="-3.2">+/+</tspan></text>
<rect x="442.30" y="420.20" width="7.90" height="3.80" fill="#83a4c4" />
<text x="453.20" y="425.00" font-size="8" text-anchor="start" fill="#333" stroke="#333" stroke-width="0.18" font-style="italic" textLength="55.8" lengthAdjust="spacingAndGlyphs" >Anp32b<tspan font-size="5.2" dy="-3.2">−/−</tspan><tspan dy="3.2">p53</tspan><tspan font-size="5.2" dy="-3.2">+/+</tspan></text>
<rect x="442.30" y="430.80" width="7.90" height="3.80" fill="#98d9a2" />
<text x="453.20" y="435.60" font-size="8" text-anchor="start" fill="#333" stroke="#333" stroke-width="0.18" font-style="italic" textLength="55.8" lengthAdjust="spacingAndGlyphs" >Anp32b<tspan font-size="5.2" dy="-3.2">+/+</tspan><tspan dy="3.2">p53</tspan><tspan font-size="5.2" dy="-3.2">+/−</tspan></text>
<rect x="442.30" y="440.90" width="7.90" height="3.80" fill="#a78dbb" />
<text x="453.20" y="445.70" font-size="8" text-anchor="start" fill="#333" stroke="#333" stroke-width="0.18" font-style="italic" textLength="55.8" lengthAdjust="spacingAndGlyphs" >Anp32b<tspan font-size="5.2" dy="-3.2">−/−</tspan><tspan dy="3.2">p53</tspan><tspan font-size="5.2" dy="-3.2">+/−</tspan></text>
<line x1="39.80" y1="602.60" x2="39.80" y2="687.40" stroke="#1a1a1a" stroke-width="1.1"/>
<line x1="39.30" y1="686.90" x2="258.20" y2="686.90" stroke="#1a1a1a" stroke-width="1.1"/>
<line x1="37.20" y1="686.90" x2="39.80" y2="686.90" stroke="#1a1a1a" stroke-width="0.9"/>
<text x="35.20" y="689.50" font-size="7.6" text-anchor="end" fill="#1a1a1a" stroke="#1a1a1a" stroke-width="0.18" >0</text>
<line x1="37.20" y1="665.90" x2="39.80" y2="665.90" stroke="#1a1a1a" stroke-width="0.9"/>
<text x="35.20" y="668.50" font-size="7.6" text-anchor="end" fill="#1a1a1a" stroke="#1a1a1a" stroke-width="0.18" >20</text>
<line x1="37.20" y1="644.90" x2="39.80" y2="644.90" stroke="#1a1a1a" stroke-width="0.9"/>
<text x="35.20" y="647.50" font-size="7.6" text-anchor="end" fill="#1a1a1a" stroke="#1a1a1a" stroke-width="0.18" >40</text>
<line x1="37.20" y1="623.90" x2="39.80" y2="623.90" stroke="#1a1a1a" stroke-width="0.9"/>
<text x="35.20" y="626.50" font-size="7.6" text-anchor="end" fill="#1a1a1a" stroke="#1a1a1a" stroke-width="0.18" >60</text>
<line x1="37.20" y1="602.90" x2="39.80" y2="602.90" stroke="#1a1a1a" stroke-width="0.9"/>
<text x="35.20" y="605.50" font-size="7.6" text-anchor="end" fill="#1a1a1a" stroke="#1a1a1a" stroke-width="0.18" >80</text>
<rect x="47.60" y="661.70" width="10.10" height="25.20" fill="#e07b8e" />
<line x1="52.65" y1="661.70" x2="52.65" y2="661.07" stroke="#111" stroke-width="0.9"/>
<line x1="50.45" y1="661.07" x2="54.85" y2="661.07" stroke="#111" stroke-width="0.9"/>
<circle cx="48.60" cy="662.23" r="1.2" fill="#e8e8e8" stroke="#111" stroke-width="0.8"/>
<circle cx="50.60" cy="661.17" r="1.2" fill="#e8e8e8" stroke="#111" stroke-width="0.8"/>
<circle cx="52.60" cy="661.70" r="1.2" fill="#e8e8e8" stroke="#111" stroke-width="0.8"/>
<circle cx="54.60" cy="660.86" r="1.2" fill="#e8e8e8" stroke="#111" stroke-width="0.8"/>
<circle cx="56.60" cy="662.12" r="1.2" fill="#e8e8e8" stroke="#111" stroke-width="0.8"/>
<rect x="63.15" y="671.67" width="10.10" height="15.23" fill="#83a4c4" />
<line x1="68.20" y1="671.67" x2="68.20" y2="671.04" stroke="#111" stroke-width="0.9"/>
<line x1="66.00" y1="671.04" x2="70.40" y2="671.04" stroke="#111" stroke-width="0.9"/>
<circle cx="64.15" cy="672.20" r="1.3" fill="#e04468" stroke="#cf1440" stroke-width="0.7"/>
<circle cx="66.15" cy="671.15" r="1.3" fill="#e04468" stroke="#cf1440" stroke-width="0.7"/>
<circle cx="68.15" cy="672.73" r="1.3" fill="#e04468" stroke="#cf1440" stroke-width="0.7"/>
<circle cx="70.15" cy="671.67" r="1.3" fill="#e04468" stroke="#cf1440" stroke-width="0.7"/>
<circle cx="72.15" cy="670.62" r="1.3" fill="#e04468" stroke="#cf1440" stroke-width="0.7"/>
<rect x="78.70" y="649.94" width="10.10" height="36.96" fill="#98d9a2" />
<line x1="83.75" y1="649.94" x2="83.75" y2="648.37" stroke="#111" stroke-width="0.9"/>
<line x1="81.55" y1="648.37" x2="85.95" y2="648.37" stroke="#111" stroke-width="0.9"/>
<circle cx="79.70" cy="653.30" r="1.3" fill="#e04468" stroke="#cf1440" stroke-width="0.7"/>
<circle cx="81.70" cy="649.10" r="1.3" fill="#e04468" stroke="#cf1440" stroke-width="0.7"/>
<circle cx="83.70" cy="647.00" r="1.3" fill="#e04468" stroke="#cf1440" stroke-width="0.7"/>
<circle cx="85.70" cy="650.15" r="1.3" fill="#e04468" stroke="#cf1440" stroke-width="0.7"/>
<circle cx="87.70" cy="651.20" r="1.3" fill="#e04468" stroke="#cf1440" stroke-width="0.7"/>
<rect x="94.25" y="663.06" width="10.10" height="23.84" fill="#a78dbb" />
<line x1="99.30" y1="663.06" x2="99.30" y2="662.23" stroke="#111" stroke-width="0.9"/>
<line x1="97.10" y1="662.23" x2="101.50" y2="662.23" stroke="#111" stroke-width="0.9"/>
<circle cx="95.25" cy="663.80" r="1.3" fill="#e04468" stroke="#cf1440" stroke-width="0.7"/>
<circle cx="97.25" cy="661.70" r="1.3" fill="#e04468" stroke="#cf1440" stroke-width="0.7"/>
<circle cx="99.25" cy="662.75" r="1.3" fill="#e04468" stroke="#cf1440" stroke-width="0.7"/>
<circle cx="101.25" cy="663.27" r="1.3" fill="#e04468" stroke="#cf1440" stroke-width="0.7"/>
<circle cx="103.25" cy="662.75" r="1.3" fill="#e04468" stroke="#cf1440" stroke-width="0.7"/>
<line x1="76.20" y1="686.90" x2="76.20" y2="689.30" stroke="#1a1a1a" stroke-width="0.9"/>
<rect x="120.25" y="631.25" width="10.10" height="55.65" fill="#e07b8e" />
<line x1="125.30" y1="631.25" x2="125.30" y2="629.99" stroke="#111" stroke-width="0.9"/>
<line x1="123.10" y1="629.99" x2="127.50" y2="629.99" stroke="#111" stroke-width="0.9"/>
<circle cx="121.25" cy="634.40" r="1.2" fill="#e8e8e8" stroke="#111" stroke-width="0.8"/>
<circle cx="123.25" cy="632.30" r="1.2" fill="#e8e8e8" stroke="#111" stroke-width="0.8"/>
<circle cx="125.25" cy="630.20" r="1.2" fill="#e8e8e8" stroke="#111" stroke-width="0.8"/>
<circle cx="127.25" cy="631.25" r="1.2" fill="#e8e8e8" stroke="#111" stroke-width="0.8"/>
<circle cx="129.25" cy="629.15" r="1.2" fill="#e8e8e8" stroke="#111" stroke-width="0.8"/>
<rect x="135.80" y="620.43" width="10.10" height="66.47" fill="#83a4c4" />
<line x1="140.85" y1="620.43" x2="140.85" y2="619.60" stroke="#111" stroke-width="0.9"/>
<line x1="138.65" y1="619.60" x2="143.05" y2="619.60" stroke="#111" stroke-width="0.9"/>
<circle cx="136.80" cy="621.80" r="1.3" fill="#e04468" stroke="#cf1440" stroke-width="0.7"/>
<circle cx="138.80" cy="619.70" r="1.3" fill="#e04468" stroke="#cf1440" stroke-width="0.7"/>
<circle cx="140.80" cy="620.75" r="1.3" fill="#e04468" stroke="#cf1440" stroke-width="0.7"/>
<circle cx="142.80" cy="622.85" r="1.3" fill="#e04468" stroke="#cf1440" stroke-width="0.7"/>
<circle cx="144.80" cy="619.17" r="1.3" fill="#e04468" stroke="#cf1440" stroke-width="0.7"/>
<rect x="151.35" y="639.96" width="10.10" height="46.94" fill="#98d9a2" />
<line x1="156.40" y1="639.96" x2="156.40" y2="638.28" stroke="#111" stroke-width="0.9"/>
<line x1="154.20" y1="638.28" x2="158.60" y2="638.28" stroke="#111" stroke-width="0.9"/>
<circle cx="152.35" cy="642.80" r="1.3" fill="#e04468" stroke="#cf1440" stroke-width="0.7"/>
<circle cx="154.35" cy="639.65" r="1.3" fill="#e04468" stroke="#cf1440" stroke-width="0.7"/>
<circle cx="156.35" cy="637.55" r="1.3" fill="#e04468" stroke="#cf1440" stroke-width="0.7"/>
<circle cx="158.35" cy="640.70" r="1.3" fill="#e04468" stroke="#cf1440" stroke-width="0.7"/>
<circle cx="160.35" cy="638.60" r="1.3" fill="#e04468" stroke="#cf1440" stroke-width="0.7"/>
<rect x="166.90" y="638.60" width="10.10" height="48.30" fill="#a78dbb" />
<line x1="171.95" y1="638.60" x2="171.95" y2="637.55" stroke="#111" stroke-width="0.9"/>
<line x1="169.75" y1="637.55" x2="174.15" y2="637.55" stroke="#111" stroke-width="0.9"/>
<circle cx="167.90" cy="640.70" r="1.3" fill="#e04468" stroke="#cf1440" stroke-width="0.7"/>
<circle cx="169.90" cy="638.60" r="1.3" fill="#e04468" stroke="#cf1440" stroke-width="0.7"/>
<circle cx="171.90" cy="636.50" r="1.3" fill="#e04468" stroke="#cf1440" stroke-width="0.7"/>
<circle cx="173.90" cy="638.60" r="1.3" fill="#e04468" stroke="#cf1440" stroke-width="0.7"/>
<circle cx="175.90" cy="637.55" r="1.3" fill="#e04468" stroke="#cf1440" stroke-width="0.7"/>
<line x1="148.85" y1="686.90" x2="148.85" y2="689.30" stroke="#1a1a1a" stroke-width="0.9"/>
<rect x="192.90" y="665.16" width="10.10" height="21.74" fill="#e07b8e" />
<line x1="197.95" y1="665.16" x2="197.95" y2="663.90" stroke="#111" stroke-width="0.9"/>
<line x1="195.75" y1="663.90" x2="200.15" y2="663.90" stroke="#111" stroke-width="0.9"/>
<circle cx="193.90" cy="669.05" r="1.2" fill="#e8e8e8" stroke="#111" stroke-width="0.8"/>
<circle cx="195.90" cy="664.85" r="1.2" fill="#e8e8e8" stroke="#111" stroke-width="0.8"/>
<circle cx="197.90" cy="663.80" r="1.2" fill="#e8e8e8" stroke="#111" stroke-width="0.8"/>
<circle cx="199.90" cy="665.90" r="1.2" fill="#e8e8e8" stroke="#111" stroke-width="0.8"/>
<circle cx="201.90" cy="662.75" r="1.2" fill="#e8e8e8" stroke="#111" stroke-width="0.8"/>
<rect x="208.45" y="663.59" width="10.10" height="23.31" fill="#83a4c4" />
<line x1="213.50" y1="663.59" x2="213.50" y2="662.86" stroke="#111" stroke-width="0.9"/>
<line x1="211.30" y1="662.86" x2="215.70" y2="662.86" stroke="#111" stroke-width="0.9"/>
<circle cx="209.45" cy="664.85" r="1.3" fill="#e04468" stroke="#cf1440" stroke-width="0.7"/>
<circle cx="211.45" cy="663.80" r="1.3" fill="#e04468" stroke="#cf1440" stroke-width="0.7"/>
<circle cx="213.45" cy="662.75" r="1.3" fill="#e04468" stroke="#cf1440" stroke-width="0.7"/>
<circle cx="215.45" cy="664.32" r="1.3" fill="#e04468" stroke="#cf1440" stroke-width="0.7"/>
<circle cx="217.45" cy="665.90" r="1.3" fill="#e04468" stroke="#cf1440" stroke-width="0.7"/>
<rect x="224.00" y="667.05" width="10.10" height="19.85" fill="#98d9a2" />
<line x1="229.05" y1="667.05" x2="229.05" y2="665.90" stroke="#111" stroke-width="0.9"/>
<line x1="226.85" y1="665.90" x2="231.25" y2="665.90" stroke="#111" stroke-width="0.9"/>
<circle cx="225.00" cy="670.10" r="1.3" fill="#e04468" stroke="#cf1440" stroke-width="0.7"/>
<circle cx="227.00" cy="668.00" r="1.3" fill="#e04468" stroke="#cf1440" stroke-width="0.7"/>
<circle cx="229.00" cy="666.95" r="1.3" fill="#e04468" stroke="#cf1440" stroke-width="0.7"/>
<circle cx="231.00" cy="665.90" r="1.3" fill="#e04468" stroke="#cf1440" stroke-width="0.7"/>
<circle cx="233.00" cy="669.05" r="1.3" fill="#e04468" stroke="#cf1440" stroke-width="0.7"/>
<rect x="239.55" y="657.29" width="10.10" height="29.61" fill="#a78dbb" />
<line x1="244.60" y1="657.29" x2="244.60" y2="656.24" stroke="#111" stroke-width="0.9"/>
<line x1="242.40" y1="656.24" x2="246.80" y2="656.24" stroke="#111" stroke-width="0.9"/>
<circle cx="240.55" cy="659.60" r="1.3" fill="#e04468" stroke="#cf1440" stroke-width="0.7"/>
<circle cx="242.55" cy="657.50" r="1.3" fill="#e04468" stroke="#cf1440" stroke-width="0.7"/>
<circle cx="244.55" cy="655.40" r="1.3" fill="#e04468" stroke="#cf1440" stroke-width="0.7"/>
<circle cx="246.55" cy="658.55" r="1.3" fill="#e04468" stroke="#cf1440" stroke-width="0.7"/>
<circle cx="248.55" cy="656.45" r="1.3" fill="#e04468" stroke="#cf1440" stroke-width="0.7"/>
<line x1="221.50" y1="686.90" x2="221.50" y2="689.30" stroke="#1a1a1a" stroke-width="0.9"/>
<text x="76.20" y="700.20" font-size="8" text-anchor="middle" fill="#1a1a1a" stroke="#1a1a1a" stroke-width="0.18" >G<tspan font-size="5" dy="2">0</tspan></text>
<text x="148.80" y="700.20" font-size="8" text-anchor="middle" fill="#1a1a1a" stroke="#1a1a1a" stroke-width="0.18" >G<tspan font-size="5" dy="2">1</tspan></text>
<text x="221.50" y="700.20" font-size="8" text-anchor="middle" fill="#1a1a1a" stroke="#1a1a1a" stroke-width="0.18" textLength="29" lengthAdjust="spacingAndGlyphs" >G<tspan font-size="5" dy="2">2</tspan><tspan dy="-2">-S-M</tspan></text>
<polyline points="47.60,614.00 47.60,611.40 104.70,611.40 104.70,614.00" stroke="#333" stroke-width="0.8" fill="none" />
<text x="77.20" y="609.30" font-size="6.2" text-anchor="middle" fill="#1a1a1a" stroke="#1a1a1a" stroke-width="0.08" textLength="25.5" lengthAdjust="spacingAndGlyphs" ><tspan font-style="italic">P</tspan>=0.0543</text>
<polyline points="63.50,623.90 63.50,621.30 104.00,621.30 104.00,623.90" stroke="#333" stroke-width="0.8" fill="none" />
<text x="84.60" y="619.00" font-size="6.2" text-anchor="middle" fill="#1a1a1a" stroke="#1a1a1a" stroke-width="0.08" textLength="25.5" lengthAdjust="spacingAndGlyphs" ><tspan font-style="italic">P</tspan>&lt;0.0001</text>
<polyline points="49.00,636.00 49.00,633.40 89.30,633.40 89.30,636.00" stroke="#333" stroke-width="0.8" fill="none" />
<text x="69.80" y="631.30" font-size="6.2" text-anchor="middle" fill="#1a1a1a" stroke="#1a1a1a" stroke-width="0.08" textLength="25.5" lengthAdjust="spacingAndGlyphs" ><tspan font-style="italic">P</tspan>&lt;0.0001</text>
<polyline points="79.30,647.90 79.30,645.30 105.10,645.30 105.10,647.90" stroke="#333" stroke-width="0.8" fill="none" />
<text x="92.40" y="643.20" font-size="6.2" text-anchor="middle" fill="#1a1a1a" stroke="#1a1a1a" stroke-width="0.08" textLength="25.5" lengthAdjust="spacingAndGlyphs" ><tspan font-style="italic">P</tspan>&lt;0.0001</text>
<polyline points="47.60,653.10 47.60,650.50 74.50,650.50 74.50,653.10" stroke="#333" stroke-width="0.8" fill="none" />
<text x="61.30" y="648.20" font-size="6.2" text-anchor="middle" fill="#1a1a1a" stroke="#1a1a1a" stroke-width="0.08" textLength="25.5" lengthAdjust="spacingAndGlyphs" ><tspan font-style="italic">P</tspan>&lt;0.0001</text>
<polyline points="120.50,583.00 120.50,580.40 177.40,580.40 177.40,583.00" stroke="#333" stroke-width="0.8" fill="none" />
<text x="149.80" y="578.60" font-size="6.2" text-anchor="middle" fill="#1a1a1a" stroke="#1a1a1a" stroke-width="0.08" textLength="25.5" lengthAdjust="spacingAndGlyphs" ><tspan font-style="italic">P</tspan>=0.0011</text>
<polyline points="135.40,594.50 135.40,591.90 176.50,591.90 176.50,594.50" stroke="#333" stroke-width="0.8" fill="none" />
<text x="156.50" y="589.60" font-size="6.2" text-anchor="middle" fill="#1a1a1a" stroke="#1a1a1a" stroke-width="0.08" textLength="25.5" lengthAdjust="spacingAndGlyphs" ><tspan font-style="italic">P</tspan>&lt;0.0001</text>
<polyline points="121.00,605.00 121.00,602.40 160.80,602.40 160.80,605.00" stroke="#333" stroke-width="0.8" fill="none" />
<text x="142.00" y="600.20" font-size="6.2" text-anchor="middle" fill="#1a1a1a" stroke="#1a1a1a" stroke-width="0.08" textLength="25.5" lengthAdjust="spacingAndGlyphs" ><tspan font-style="italic">P</tspan>=0.0009</text>
<polyline points="119.50,616.50 119.50,613.90 146.60,613.90 146.60,616.50" stroke="#333" stroke-width="0.8" fill="none" />
<text x="133.80" y="611.40" font-size="6.2" text-anchor="middle" fill="#1a1a1a" stroke="#1a1a1a" stroke-width="0.08" textLength="25.5" lengthAdjust="spacingAndGlyphs" ><tspan font-style="italic">P</tspan>&lt;0.0001</text>
<polyline points="192.90,627.70 192.90,625.10 250.20,625.10 250.20,627.70" stroke="#333" stroke-width="0.8" fill="none" />
<text x="224.00" y="622.80" font-size="6.2" text-anchor="middle" fill="#1a1a1a" stroke="#1a1a1a" stroke-width="0.08" textLength="19" lengthAdjust="spacingAndGlyphs" ><tspan font-style="italic">P</tspan>=0.001</text>
<polyline points="209.60,639.10 209.60,636.50 250.20,636.50 250.20,639.10" stroke="#333" stroke-width="0.8" fill="none" />
<text x="231.20" y="634.00" font-size="6.2" text-anchor="middle" fill="#1a1a1a" stroke="#1a1a1a" stroke-width="0.08" textLength="25.5" lengthAdjust="spacingAndGlyphs" ><tspan font-style="italic">P</tspan>=0.0012</text>
<polyline points="223.40,649.70 223.40,647.10 250.20,647.10 250.20,649.70" stroke="#333" stroke-width="0.8" fill="none" />
<text x="237.90" y="644.80" font-size="6.2" text-anchor="middle" fill="#1a1a1a" stroke="#1a1a1a" stroke-width="0.08" textLength="25.5" lengthAdjust="spacingAndGlyphs" ><tspan font-style="italic">P</tspan>&lt;0.0001</text>
<polyline points="192.90,661.10 192.90,658.50 233.30,658.50 233.30,661.10" stroke="#333" stroke-width="0.8" fill="none" />
<text x="214.80" y="656.20" font-size="6.2" text-anchor="middle" fill="#1a1a1a" stroke="#1a1a1a" stroke-width="0.08" textLength="25.5" lengthAdjust="spacingAndGlyphs" ><tspan font-style="italic">P</tspan>=0.0427</text>
<text x="18.80" y="648.00" font-size="8.2" text-anchor="middle" fill="#1a1a1a" stroke="#1a1a1a" stroke-width="0.18" textLength="58" lengthAdjust="spacingAndGlyphs" transform="rotate(-90 18.80 648.00)" >%GFP<tspan font-size="5" dy="-3">+</tspan><tspan dy="3">LSK cells</tspan></text>
<rect x="227.70" y="574.60" width="7.90" height="3.80" fill="#e07b8e" />
<text x="238.70" y="579.40" font-size="8" text-anchor="start" fill="#333" stroke="#333" stroke-width="0.18" font-style="italic" textLength="56.7" lengthAdjust="spacingAndGlyphs" >Anp32b<tspan font-size="5.2" dy="-3.2">+/+</tspan><tspan dy="3.2">p53</tspan><tspan font-size="5.2" dy="-3.2">+/+</tspan></text>
<rect x="227.70" y="584.40" width="7.90" height="3.80" fill="#83a4c4" />
<text x="238.70" y="589.20" font-size="8" text-anchor="start" fill="#333" stroke="#333" stroke-width="0.18" font-style="italic" textLength="56.7" lengthAdjust="spacingAndGlyphs" >Anp32b<tspan font-size="5.2" dy="-3.2">−/−</tspan><tspan dy="3.2">p53</tspan><tspan font-size="5.2" dy="-3.2">+/+</tspan></text>
<rect x="227.70" y="594.40" width="7.90" height="3.80" fill="#98d9a2" />
<text x="238.70" y="599.20" font-size="8" text-anchor="start" fill="#333" stroke="#333" stroke-width="0.18" font-style="italic" textLength="56.7" lengthAdjust="spacingAndGlyphs" >Anp32b<tspan font-size="5.2" dy="-3.2">+/+</tspan><tspan dy="3.2">p53</tspan><tspan font-size="5.2" dy="-3.2">+/−</tspan></text>
<rect x="227.70" y="604.50" width="7.90" height="3.80" fill="#a78dbb" />
<text x="238.70" y="609.30" font-size="8" text-anchor="start" fill="#333" stroke="#333" stroke-width="0.18" font-style="italic" textLength="56.7" lengthAdjust="spacingAndGlyphs" >Anp32b<tspan font-size="5.2" dy="-3.2">−/−</tspan><tspan dy="3.2">p53</tspan><tspan font-size="5.2" dy="-3.2">+/−</tspan></text>
<line x1="349.80" y1="601.30" x2="349.80" y2="688.20" stroke="#1a1a1a" stroke-width="1.1"/>
<line x1="349.30" y1="687.70" x2="439.90" y2="687.70" stroke="#1a1a1a" stroke-width="1.1"/>
<line x1="347.20" y1="687.70" x2="349.80" y2="687.70" stroke="#1a1a1a" stroke-width="0.9"/>
<text x="343.30" y="690.30" font-size="7.6" text-anchor="end" fill="#1a1a1a" stroke="#1a1a1a" stroke-width="0.18" >0</text>
<line x1="347.20" y1="670.50" x2="349.80" y2="670.50" stroke="#1a1a1a" stroke-width="0.9"/>
<text x="343.30" y="673.10" font-size="7.6" text-anchor="end" fill="#1a1a1a" stroke="#1a1a1a" stroke-width="0.18" >5</text>
<line x1="347.20" y1="653.30" x2="349.80" y2="653.30" stroke="#1a1a1a" stroke-width="0.9"/>
<text x="343.30" y="655.90" font-size="7.6" text-anchor="end" fill="#1a1a1a" stroke="#1a1a1a" stroke-width="0.18" >10</text>
<line x1="347.20" y1="636.10" x2="349.80" y2="636.10" stroke="#1a1a1a" stroke-width="0.9"/>
<text x="343.30" y="638.70" font-size="7.6" text-anchor="end" fill="#1a1a1a" stroke="#1a1a1a" stroke-width="0.18" >15</text>
<line x1="347.20" y1="618.90" x2="349.80" y2="618.90" stroke="#1a1a1a" stroke-width="0.9"/>
<text x="343.30" y="621.50" font-size="7.6" text-anchor="end" fill="#1a1a1a" stroke="#1a1a1a" stroke-width="0.18" >20</text>
<line x1="347.20" y1="601.70" x2="349.80" y2="601.70" stroke="#1a1a1a" stroke-width="0.9"/>
<text x="343.30" y="604.30" font-size="7.6" text-anchor="end" fill="#1a1a1a" stroke="#1a1a1a" stroke-width="0.18" >25</text>
<rect x="357.10" y="652.61" width="12.40" height="35.09" fill="#e07b8e" />
<line x1="363.30" y1="652.61" x2="363.30" y2="649.86" stroke="#111" stroke-width="0.9"/>
<line x1="360.90" y1="649.86" x2="365.70" y2="649.86" stroke="#111" stroke-width="0.9"/>
<circle cx="358.60" cy="652.96" r="1.3" fill="#e04468" stroke="#cf1440" stroke-width="0.7"/>
<circle cx="363.10" cy="644.01" r="1.3" fill="#e04468" stroke="#cf1440" stroke-width="0.7"/>
<circle cx="363.10" cy="656.74" r="1.3" fill="#e04468" stroke="#cf1440" stroke-width="0.7"/>
<circle cx="363.10" cy="658.46" r="1.3" fill="#e04468" stroke="#cf1440" stroke-width="0.7"/>
<circle cx="367.60" cy="652.27" r="1.3" fill="#e04468" stroke="#cf1440" stroke-width="0.7"/>
<rect x="378.10" y="626.81" width="12.10" height="60.89" fill="#83a4c4" />
<line x1="384.15" y1="626.81" x2="384.15" y2="621.31" stroke="#111" stroke-width="0.9"/>
<line x1="381.75" y1="621.31" x2="386.55" y2="621.31" stroke="#111" stroke-width="0.9"/>
<circle cx="384.10" cy="616.49" r="1.3" fill="#e04468" stroke="#cf1440" stroke-width="0.7"/>
<circle cx="384.10" cy="618.90" r="1.3" fill="#e04468" stroke="#cf1440" stroke-width="0.7"/>
<circle cx="384.10" cy="632.66" r="1.3" fill="#e04468" stroke="#cf1440" stroke-width="0.7"/>
<circle cx="384.10" cy="636.10" r="1.3" fill="#e04468" stroke="#cf1440" stroke-width="0.7"/>
<rect x="399.10" y="668.09" width="11.80" height="19.61" fill="#98d9a2" />
<line x1="405.00" y1="668.09" x2="405.00" y2="666.03" stroke="#111" stroke-width="0.9"/>
<line x1="402.60" y1="666.03" x2="407.40" y2="666.03" stroke="#111" stroke-width="0.9"/>
<circle cx="400.60" cy="665.34" r="1.3" fill="#e04468" stroke="#cf1440" stroke-width="0.7"/>
<circle cx="409.40" cy="663.62" r="1.3" fill="#e04468" stroke="#cf1440" stroke-width="0.7"/>
<circle cx="405.10" cy="668.44" r="1.3" fill="#e04468" stroke="#cf1440" stroke-width="0.7"/>
<circle cx="409.40" cy="667.06" r="1.3" fill="#e04468" stroke="#cf1440" stroke-width="0.7"/>
<circle cx="405.10" cy="675.66" r="1.3" fill="#e04468" stroke="#cf1440" stroke-width="0.7"/>
<rect x="419.80" y="649.52" width="12.10" height="38.18" fill="#a78dbb" />
<line x1="425.85" y1="649.52" x2="425.85" y2="648.48" stroke="#111" stroke-width="0.9"/>
<line x1="423.45" y1="648.48" x2="428.25" y2="648.48" stroke="#111" stroke-width="0.9"/>
<circle cx="421.30" cy="648.83" r="1.3" fill="#e04468" stroke="#cf1440" stroke-width="0.7"/>
<circle cx="424.30" cy="648.14" r="1.3" fill="#e04468" stroke="#cf1440" stroke-width="0.7"/>
<circle cx="427.30" cy="647.80" r="1.3" fill="#e04468" stroke="#cf1440" stroke-width="0.7"/>
<circle cx="430.30" cy="647.80" r="1.3" fill="#e04468" stroke="#cf1440" stroke-width="0.7"/>
<circle cx="423.30" cy="653.30" r="1.3" fill="#e04468" stroke="#cf1440" stroke-width="0.7"/>
<line x1="394.50" y1="687.70" x2="394.50" y2="690.10" stroke="#1a1a1a" stroke-width="0.9"/>
<polyline points="357.10,580.90 357.10,578.30 431.90,578.30 431.90,580.90" stroke="#333" stroke-width="0.8" fill="none" />
<text x="395.60" y="575.20" font-size="6.2" text-anchor="middle" fill="#1a1a1a" stroke="#1a1a1a" stroke-width="0.08" textLength="25.5" lengthAdjust="spacingAndGlyphs" ><tspan font-style="italic">P</tspan>=0.3635</text>
<polyline points="378.10,592.20 378.10,589.60 431.90,589.60 431.90,592.20" stroke="#333" stroke-width="0.8" fill="none" />
<text x="406.40" y="587.00" font-size="6.2" text-anchor="middle" fill="#1a1a1a" stroke="#1a1a1a" stroke-width="0.08" textLength="25.5" lengthAdjust="spacingAndGlyphs" ><tspan font-style="italic">P</tspan>=0.0005</text>
<polyline points="357.10,604.30 357.10,601.70 409.90,601.70 409.90,604.30" stroke="#333" stroke-width="0.8" fill="none" />
<text x="384.80" y="598.80" font-size="6.2" text-anchor="middle" fill="#1a1a1a" stroke="#1a1a1a" stroke-width="0.08" textLength="25.5" lengthAdjust="spacingAndGlyphs" ><tspan font-style="italic">P</tspan>=0.0015</text>
<polyline points="357.10,615.90 357.10,613.30 389.70,613.30 389.70,615.90" stroke="#333" stroke-width="0.8" fill="none" />
<text x="372.70" y="610.90" font-size="6.2" text-anchor="middle" fill="#1a1a1a" stroke="#1a1a1a" stroke-width="0.08" textLength="25.5" lengthAdjust="spacingAndGlyphs" ><tspan font-style="italic">P</tspan>=0.0006</text>
<polyline points="398.30,645.30 398.30,642.70 431.90,642.70 431.90,645.30" stroke="#333" stroke-width="0.8" fill="none" />
<text x="416.30" y="640.40" font-size="6.2" text-anchor="middle" fill="#1a1a1a" stroke="#1a1a1a" stroke-width="0.08" textLength="25.5" lengthAdjust="spacingAndGlyphs" ><tspan font-style="italic">P</tspan>&lt;0.0001</text>
<text x="394.50" y="697.30" font-size="7.8" text-anchor="middle" fill="#1a1a1a" stroke="#1a1a1a" stroke-width="0.18" textLength="54" lengthAdjust="spacingAndGlyphs" >Apoptotic cells</text>
<text x="326.30" y="646.20" font-size="8.2" text-anchor="middle" fill="#1a1a1a" stroke="#1a1a1a" stroke-width="0.18" textLength="59" lengthAdjust="spacingAndGlyphs" transform="rotate(-90 326.30 646.20)" >%GFP<tspan font-size="5" dy="-3">+</tspan><tspan dy="3">LSK cells</tspan></text>
<rect x="436.90" y="574.30" width="7.90" height="3.80" fill="#e07b8e" />
<text x="447.90" y="579.10" font-size="8" text-anchor="start" fill="#333" stroke="#333" stroke-width="0.18" font-style="italic" textLength="56.7" lengthAdjust="spacingAndGlyphs" >Anp32b<tspan font-size="5.2" dy="-3.2">+/+</tspan><tspan dy="3.2">p53</tspan><tspan font-size="5.2" dy="-3.2">+/+</tspan></text>
<rect x="436.90" y="584.50" width="7.90" height="3.80" fill="#83a4c4" />
<text x="447.90" y="589.30" font-size="8" text-anchor="start" fill="#333" stroke="#333" stroke-width="0.18" font-style="italic" textLength="56.7" lengthAdjust="spacingAndGlyphs" >Anp32b<tspan font-size="5.2" dy="-3.2">−/−</tspan><tspan dy="3.2">p53</tspan><tspan font-size="5.2" dy="-3.2">+/+</tspan></text>
<rect x="436.90" y="594.60" width="7.90" height="3.80" fill="#98d9a2" />
<text x="447.90" y="599.40" font-size="8" text-anchor="start" fill="#333" stroke="#333" stroke-width="0.18" font-style="italic" textLength="56.7" lengthAdjust="spacingAndGlyphs" >Anp32b<tspan font-size="5.2" dy="-3.2">+/+</tspan><tspan dy="3.2">p53</tspan><tspan font-size="5.2" dy="-3.2">+/−</tspan></text>
<rect x="436.90" y="604.80" width="7.90" height="3.80" fill="#a78dbb" />
<text x="447.90" y="609.60" font-size="8" text-anchor="start" fill="#333" stroke="#333" stroke-width="0.18" font-style="italic" textLength="56.7" lengthAdjust="spacingAndGlyphs" >Anp32b<tspan font-size="5.2" dy="-3.2">−/−</tspan><tspan dy="3.2">p53</tspan><tspan font-size="5.2" dy="-3.2">+/−</tspan></text>
<rect x="0.6" y="0.6" width="518.8" height="708.8" fill="none" stroke="#000" stroke-width="1.3"/>
</svg></body></html>
